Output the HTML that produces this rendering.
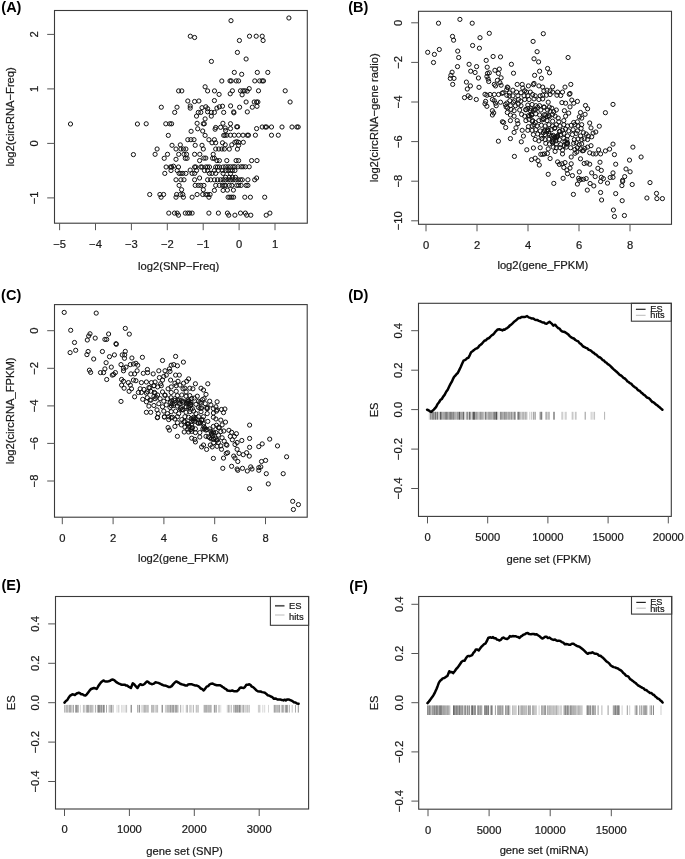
<!DOCTYPE html>
<html><head><meta charset="utf-8"><style>
html,body{margin:0;padding:0;background:#fff;}
svg{display:block;filter:grayscale(1);}
text{font-family:"Liberation Sans",sans-serif;font-size:11.2px;fill:#1a1a1a;stroke:#1a1a1a;stroke-width:0.22px;}
.pl{font-weight:bold;font-size:14.5px;fill:#000;stroke:none;}
.ax{fill:none;stroke:#3a3a3a;stroke-width:1.1;}
.tk{fill:none;stroke:#555;stroke-width:1.0;}
.pt{fill:none;stroke:#111;stroke-width:1.0;}
.es{fill:none;stroke:#000;stroke-width:2.5;stroke-linejoin:round;stroke-linecap:round;}
</style></head><body>
<svg width="685" height="859" viewBox="0 0 685 859">
<rect width="685" height="859" fill="#fff"/>
<rect x="54.5" y="10.5" width="252.8" height="212.7" class="ax"/>
<line x1="59.6" y1="223.2" x2="59.6" y2="230.2" class="tk"/>
<text x="59.6" y="247.6" text-anchor="middle">−5</text>
<line x1="95.5" y1="223.2" x2="95.5" y2="230.2" class="tk"/>
<text x="95.5" y="247.6" text-anchor="middle">−4</text>
<line x1="131.4" y1="223.2" x2="131.4" y2="230.2" class="tk"/>
<text x="131.4" y="247.6" text-anchor="middle">−3</text>
<line x1="167.3" y1="223.2" x2="167.3" y2="230.2" class="tk"/>
<text x="167.3" y="247.6" text-anchor="middle">−2</text>
<line x1="203.2" y1="223.2" x2="203.2" y2="230.2" class="tk"/>
<text x="203.2" y="247.6" text-anchor="middle">−1</text>
<line x1="239.1" y1="223.2" x2="239.1" y2="230.2" class="tk"/>
<text x="239.1" y="247.6" text-anchor="middle">0</text>
<line x1="275.0" y1="223.2" x2="275.0" y2="230.2" class="tk"/>
<text x="275.0" y="247.6" text-anchor="middle">1</text>
<text x="178.6" y="270.4" text-anchor="middle">log2(SNP−Freq)</text>
<line x1="47.2" y1="197.9" x2="54.5" y2="197.9" class="tk"/>
<text transform="translate(38.3,197.9) rotate(-90)" text-anchor="middle">−1</text>
<line x1="47.2" y1="143.4" x2="54.5" y2="143.4" class="tk"/>
<text transform="translate(38.3,143.4) rotate(-90)" text-anchor="middle">0</text>
<line x1="47.2" y1="88.9" x2="54.5" y2="88.9" class="tk"/>
<text transform="translate(38.3,88.9) rotate(-90)" text-anchor="middle">1</text>
<line x1="47.2" y1="34.4" x2="54.5" y2="34.4" class="tk"/>
<text transform="translate(38.3,34.4) rotate(-90)" text-anchor="middle">2</text>
<text transform="translate(14.0,116.8) rotate(-90)" text-anchor="middle">log2(circRNA−Freq)</text>
<path d="M233.1 20.7a2.1 2.1 0 1 0 -4.2 0a2.1 2.1 0 1 0 4.2 0M291.0 18.0a2.1 2.1 0 1 0 -4.2 0a2.1 2.1 0 1 0 4.2 0M192.4 36.2a2.1 2.1 0 1 0 -4.2 0a2.1 2.1 0 1 0 4.2 0M196.7 37.5a2.1 2.1 0 1 0 -4.2 0a2.1 2.1 0 1 0 4.2 0M241.5 40.5a2.1 2.1 0 1 0 -4.2 0a2.1 2.1 0 1 0 4.2 0M251.6 36.2a2.1 2.1 0 1 0 -4.2 0a2.1 2.1 0 1 0 4.2 0M258.3 36.2a2.1 2.1 0 1 0 -4.2 0a2.1 2.1 0 1 0 4.2 0M264.3 36.2a2.1 2.1 0 1 0 -4.2 0a2.1 2.1 0 1 0 4.2 0M265.2 40.5a2.1 2.1 0 1 0 -4.2 0a2.1 2.1 0 1 0 4.2 0M239.5 52.4a2.1 2.1 0 1 0 -4.2 0a2.1 2.1 0 1 0 4.2 0M248.2 59.0a2.1 2.1 0 1 0 -4.2 0a2.1 2.1 0 1 0 4.2 0M213.5 61.4a2.1 2.1 0 1 0 -4.2 0a2.1 2.1 0 1 0 4.2 0M223.9 81.0a2.1 2.1 0 1 0 -4.2 0a2.1 2.1 0 1 0 4.2 0M180.7 90.9a2.1 2.1 0 1 0 -4.2 0a2.1 2.1 0 1 0 4.2 0M183.9 90.9a2.1 2.1 0 1 0 -4.2 0a2.1 2.1 0 1 0 4.2 0M207.2 86.8a2.1 2.1 0 1 0 -4.2 0a2.1 2.1 0 1 0 4.2 0M209.7 90.9a2.1 2.1 0 1 0 -4.2 0a2.1 2.1 0 1 0 4.2 0M216.6 90.9a2.1 2.1 0 1 0 -4.2 0a2.1 2.1 0 1 0 4.2 0M221.2 94.4a2.1 2.1 0 1 0 -4.2 0a2.1 2.1 0 1 0 4.2 0M189.9 101.0a2.1 2.1 0 1 0 -4.2 0a2.1 2.1 0 1 0 4.2 0M196.7 101.5a2.1 2.1 0 1 0 -4.2 0a2.1 2.1 0 1 0 4.2 0M201.0 101.0a2.1 2.1 0 1 0 -4.2 0a2.1 2.1 0 1 0 4.2 0M216.5 100.6a2.1 2.1 0 1 0 -4.2 0a2.1 2.1 0 1 0 4.2 0M163.4 107.2a2.1 2.1 0 1 0 -4.2 0a2.1 2.1 0 1 0 4.2 0M179.1 107.2a2.1 2.1 0 1 0 -4.2 0a2.1 2.1 0 1 0 4.2 0M176.8 112.4a2.1 2.1 0 1 0 -4.2 0a2.1 2.1 0 1 0 4.2 0M192.3 106.0a2.1 2.1 0 1 0 -4.2 0a2.1 2.1 0 1 0 4.2 0M192.3 108.1a2.1 2.1 0 1 0 -4.2 0a2.1 2.1 0 1 0 4.2 0M204.1 107.7a2.1 2.1 0 1 0 -4.2 0a2.1 2.1 0 1 0 4.2 0M207.9 106.8a2.1 2.1 0 1 0 -4.2 0a2.1 2.1 0 1 0 4.2 0M209.7 108.7a2.1 2.1 0 1 0 -4.2 0a2.1 2.1 0 1 0 4.2 0M219.0 108.1a2.1 2.1 0 1 0 -4.2 0a2.1 2.1 0 1 0 4.2 0M221.5 106.8a2.1 2.1 0 1 0 -4.2 0a2.1 2.1 0 1 0 4.2 0M224.6 106.2a2.1 2.1 0 1 0 -4.2 0a2.1 2.1 0 1 0 4.2 0M200.4 112.4a2.1 2.1 0 1 0 -4.2 0a2.1 2.1 0 1 0 4.2 0M202.9 112.4a2.1 2.1 0 1 0 -4.2 0a2.1 2.1 0 1 0 4.2 0M209.7 111.8a2.1 2.1 0 1 0 -4.2 0a2.1 2.1 0 1 0 4.2 0M213.4 112.4a2.1 2.1 0 1 0 -4.2 0a2.1 2.1 0 1 0 4.2 0M216.5 112.4a2.1 2.1 0 1 0 -4.2 0a2.1 2.1 0 1 0 4.2 0M225.8 112.4a2.1 2.1 0 1 0 -4.2 0a2.1 2.1 0 1 0 4.2 0M198.6 116.1a2.1 2.1 0 1 0 -4.2 0a2.1 2.1 0 1 0 4.2 0M213.4 116.1a2.1 2.1 0 1 0 -4.2 0a2.1 2.1 0 1 0 4.2 0M207.2 118.9a2.1 2.1 0 1 0 -4.2 0a2.1 2.1 0 1 0 4.2 0M148.3 123.8a2.1 2.1 0 1 0 -4.2 0a2.1 2.1 0 1 0 4.2 0M167.9 123.8a2.1 2.1 0 1 0 -4.2 0a2.1 2.1 0 1 0 4.2 0M171.9 123.8a2.1 2.1 0 1 0 -4.2 0a2.1 2.1 0 1 0 4.2 0M173.7 123.8a2.1 2.1 0 1 0 -4.2 0a2.1 2.1 0 1 0 4.2 0M199.2 123.3a2.1 2.1 0 1 0 -4.2 0a2.1 2.1 0 1 0 4.2 0M205.4 123.8a2.1 2.1 0 1 0 -4.2 0a2.1 2.1 0 1 0 4.2 0M206.4 123.8a2.1 2.1 0 1 0 -4.2 0a2.1 2.1 0 1 0 4.2 0M225.0 123.3a2.1 2.1 0 1 0 -4.2 0a2.1 2.1 0 1 0 4.2 0M217.8 127.5a2.1 2.1 0 1 0 -4.2 0a2.1 2.1 0 1 0 4.2 0M222.7 127.3a2.1 2.1 0 1 0 -4.2 0a2.1 2.1 0 1 0 4.2 0M217.2 129.2a2.1 2.1 0 1 0 -4.2 0a2.1 2.1 0 1 0 4.2 0M199.8 128.8a2.1 2.1 0 1 0 -4.2 0a2.1 2.1 0 1 0 4.2 0M204.8 131.0a2.1 2.1 0 1 0 -4.2 0a2.1 2.1 0 1 0 4.2 0M193.2 131.3a2.1 2.1 0 1 0 -4.2 0a2.1 2.1 0 1 0 4.2 0M170.4 135.4a2.1 2.1 0 1 0 -4.2 0a2.1 2.1 0 1 0 4.2 0M207.2 135.4a2.1 2.1 0 1 0 -4.2 0a2.1 2.1 0 1 0 4.2 0M225.8 135.4a2.1 2.1 0 1 0 -4.2 0a2.1 2.1 0 1 0 4.2 0M189.9 139.7a2.1 2.1 0 1 0 -4.2 0a2.1 2.1 0 1 0 4.2 0M193.0 139.7a2.1 2.1 0 1 0 -4.2 0a2.1 2.1 0 1 0 4.2 0M196.1 139.7a2.1 2.1 0 1 0 -4.2 0a2.1 2.1 0 1 0 4.2 0M211.0 139.7a2.1 2.1 0 1 0 -4.2 0a2.1 2.1 0 1 0 4.2 0M216.5 139.7a2.1 2.1 0 1 0 -4.2 0a2.1 2.1 0 1 0 4.2 0M214.1 142.8a2.1 2.1 0 1 0 -4.2 0a2.1 2.1 0 1 0 4.2 0M217.8 142.8a2.1 2.1 0 1 0 -4.2 0a2.1 2.1 0 1 0 4.2 0M224.6 142.8a2.1 2.1 0 1 0 -4.2 0a2.1 2.1 0 1 0 4.2 0M174.1 145.3a2.1 2.1 0 1 0 -4.2 0a2.1 2.1 0 1 0 4.2 0M182.4 144.9a2.1 2.1 0 1 0 -4.2 0a2.1 2.1 0 1 0 4.2 0M197.3 145.3a2.1 2.1 0 1 0 -4.2 0a2.1 2.1 0 1 0 4.2 0M204.1 145.3a2.1 2.1 0 1 0 -4.2 0a2.1 2.1 0 1 0 4.2 0M159.2 149.0a2.1 2.1 0 1 0 -4.2 0a2.1 2.1 0 1 0 4.2 0M178.1 149.0a2.1 2.1 0 1 0 -4.2 0a2.1 2.1 0 1 0 4.2 0M183.0 149.0a2.1 2.1 0 1 0 -4.2 0a2.1 2.1 0 1 0 4.2 0M185.5 149.0a2.1 2.1 0 1 0 -4.2 0a2.1 2.1 0 1 0 4.2 0M188.0 149.0a2.1 2.1 0 1 0 -4.2 0a2.1 2.1 0 1 0 4.2 0M205.4 149.0a2.1 2.1 0 1 0 -4.2 0a2.1 2.1 0 1 0 4.2 0M217.8 149.0a2.1 2.1 0 1 0 -4.2 0a2.1 2.1 0 1 0 4.2 0M220.9 149.0a2.1 2.1 0 1 0 -4.2 0a2.1 2.1 0 1 0 4.2 0M224.0 149.0a2.1 2.1 0 1 0 -4.2 0a2.1 2.1 0 1 0 4.2 0M226.5 149.0a2.1 2.1 0 1 0 -4.2 0a2.1 2.1 0 1 0 4.2 0M157.2 154.3a2.1 2.1 0 1 0 -4.2 0a2.1 2.1 0 1 0 4.2 0M169.6 154.3a2.1 2.1 0 1 0 -4.2 0a2.1 2.1 0 1 0 4.2 0M180.8 154.3a2.1 2.1 0 1 0 -4.2 0a2.1 2.1 0 1 0 4.2 0M186.1 154.3a2.1 2.1 0 1 0 -4.2 0a2.1 2.1 0 1 0 4.2 0M188.6 154.3a2.1 2.1 0 1 0 -4.2 0a2.1 2.1 0 1 0 4.2 0M196.7 154.3a2.1 2.1 0 1 0 -4.2 0a2.1 2.1 0 1 0 4.2 0M201.9 154.3a2.1 2.1 0 1 0 -4.2 0a2.1 2.1 0 1 0 4.2 0M215.3 154.3a2.1 2.1 0 1 0 -4.2 0a2.1 2.1 0 1 0 4.2 0M166.3 158.3a2.1 2.1 0 1 0 -4.2 0a2.1 2.1 0 1 0 4.2 0M178.1 159.3a2.1 2.1 0 1 0 -4.2 0a2.1 2.1 0 1 0 4.2 0M187.4 158.3a2.1 2.1 0 1 0 -4.2 0a2.1 2.1 0 1 0 4.2 0M189.2 158.3a2.1 2.1 0 1 0 -4.2 0a2.1 2.1 0 1 0 4.2 0M206.0 158.1a2.1 2.1 0 1 0 -4.2 0a2.1 2.1 0 1 0 4.2 0M207.9 158.1a2.1 2.1 0 1 0 -4.2 0a2.1 2.1 0 1 0 4.2 0M214.7 158.3a2.1 2.1 0 1 0 -4.2 0a2.1 2.1 0 1 0 4.2 0M216.5 158.3a2.1 2.1 0 1 0 -4.2 0a2.1 2.1 0 1 0 4.2 0M236.4 72.4a2.1 2.1 0 1 0 -4.2 0a2.1 2.1 0 1 0 4.2 0M243.8 74.3a2.1 2.1 0 1 0 -4.2 0a2.1 2.1 0 1 0 4.2 0M259.4 72.4a2.1 2.1 0 1 0 -4.2 0a2.1 2.1 0 1 0 4.2 0M269.9 72.4a2.1 2.1 0 1 0 -4.2 0a2.1 2.1 0 1 0 4.2 0M232.1 80.9a2.1 2.1 0 1 0 -4.2 0a2.1 2.1 0 1 0 4.2 0M233.3 80.9a2.1 2.1 0 1 0 -4.2 0a2.1 2.1 0 1 0 4.2 0M238.3 80.9a2.1 2.1 0 1 0 -4.2 0a2.1 2.1 0 1 0 4.2 0M240.7 80.9a2.1 2.1 0 1 0 -4.2 0a2.1 2.1 0 1 0 4.2 0M256.9 80.9a2.1 2.1 0 1 0 -4.2 0a2.1 2.1 0 1 0 4.2 0M261.8 80.9a2.1 2.1 0 1 0 -4.2 0a2.1 2.1 0 1 0 4.2 0M264.3 80.9a2.1 2.1 0 1 0 -4.2 0a2.1 2.1 0 1 0 4.2 0M265.6 80.9a2.1 2.1 0 1 0 -4.2 0a2.1 2.1 0 1 0 4.2 0M234.5 90.8a2.1 2.1 0 1 0 -4.2 0a2.1 2.1 0 1 0 4.2 0M232.3 93.8a2.1 2.1 0 1 0 -4.2 0a2.1 2.1 0 1 0 4.2 0M242.6 90.8a2.1 2.1 0 1 0 -4.2 0a2.1 2.1 0 1 0 4.2 0M245.1 90.8a2.1 2.1 0 1 0 -4.2 0a2.1 2.1 0 1 0 4.2 0M247.0 90.8a2.1 2.1 0 1 0 -4.2 0a2.1 2.1 0 1 0 4.2 0M249.4 91.1a2.1 2.1 0 1 0 -4.2 0a2.1 2.1 0 1 0 4.2 0M251.3 88.6a2.1 2.1 0 1 0 -4.2 0a2.1 2.1 0 1 0 4.2 0M244.2 94.8a2.1 2.1 0 1 0 -4.2 0a2.1 2.1 0 1 0 4.2 0M260.6 90.8a2.1 2.1 0 1 0 -4.2 0a2.1 2.1 0 1 0 4.2 0M287.3 90.8a2.1 2.1 0 1 0 -4.2 0a2.1 2.1 0 1 0 4.2 0M248.2 102.0a2.1 2.1 0 1 0 -4.2 0a2.1 2.1 0 1 0 4.2 0M256.3 102.0a2.1 2.1 0 1 0 -4.2 0a2.1 2.1 0 1 0 4.2 0M258.7 102.0a2.1 2.1 0 1 0 -4.2 0a2.1 2.1 0 1 0 4.2 0M260.0 102.0a2.1 2.1 0 1 0 -4.2 0a2.1 2.1 0 1 0 4.2 0M292.2 102.0a2.1 2.1 0 1 0 -4.2 0a2.1 2.1 0 1 0 4.2 0M232.7 105.9a2.1 2.1 0 1 0 -4.2 0a2.1 2.1 0 1 0 4.2 0M241.7 107.2a2.1 2.1 0 1 0 -4.2 0a2.1 2.1 0 1 0 4.2 0M254.4 107.2a2.1 2.1 0 1 0 -4.2 0a2.1 2.1 0 1 0 4.2 0M259.1 106.3a2.1 2.1 0 1 0 -4.2 0a2.1 2.1 0 1 0 4.2 0M235.8 111.9a2.1 2.1 0 1 0 -4.2 0a2.1 2.1 0 1 0 4.2 0M236.0 112.8a2.1 2.1 0 1 0 -4.2 0a2.1 2.1 0 1 0 4.2 0M249.4 111.9a2.1 2.1 0 1 0 -4.2 0a2.1 2.1 0 1 0 4.2 0M232.6 123.7a2.1 2.1 0 1 0 -4.2 0a2.1 2.1 0 1 0 4.2 0M238.8 126.8a2.1 2.1 0 1 0 -4.2 0a2.1 2.1 0 1 0 4.2 0M239.7 126.8a2.1 2.1 0 1 0 -4.2 0a2.1 2.1 0 1 0 4.2 0M232.6 128.6a2.1 2.1 0 1 0 -4.2 0a2.1 2.1 0 1 0 4.2 0M227.3 128.0a2.1 2.1 0 1 0 -4.2 0a2.1 2.1 0 1 0 4.2 0M227.7 130.5a2.1 2.1 0 1 0 -4.2 0a2.1 2.1 0 1 0 4.2 0M258.7 128.6a2.1 2.1 0 1 0 -4.2 0a2.1 2.1 0 1 0 4.2 0M264.3 127.0a2.1 2.1 0 1 0 -4.2 0a2.1 2.1 0 1 0 4.2 0M267.4 127.0a2.1 2.1 0 1 0 -4.2 0a2.1 2.1 0 1 0 4.2 0M268.6 127.0a2.1 2.1 0 1 0 -4.2 0a2.1 2.1 0 1 0 4.2 0M273.6 127.0a2.1 2.1 0 1 0 -4.2 0a2.1 2.1 0 1 0 4.2 0M284.1 127.0a2.1 2.1 0 1 0 -4.2 0a2.1 2.1 0 1 0 4.2 0M294.1 127.0a2.1 2.1 0 1 0 -4.2 0a2.1 2.1 0 1 0 4.2 0M299.0 127.0a2.1 2.1 0 1 0 -4.2 0a2.1 2.1 0 1 0 4.2 0M300.3 127.0a2.1 2.1 0 1 0 -4.2 0a2.1 2.1 0 1 0 4.2 0M227.1 135.2a2.1 2.1 0 1 0 -4.2 0a2.1 2.1 0 1 0 4.2 0M228.9 135.2a2.1 2.1 0 1 0 -4.2 0a2.1 2.1 0 1 0 4.2 0M232.6 135.2a2.1 2.1 0 1 0 -4.2 0a2.1 2.1 0 1 0 4.2 0M236.4 135.2a2.1 2.1 0 1 0 -4.2 0a2.1 2.1 0 1 0 4.2 0M240.7 135.2a2.1 2.1 0 1 0 -4.2 0a2.1 2.1 0 1 0 4.2 0M245.1 135.2a2.1 2.1 0 1 0 -4.2 0a2.1 2.1 0 1 0 4.2 0M249.4 135.2a2.1 2.1 0 1 0 -4.2 0a2.1 2.1 0 1 0 4.2 0M250.6 135.2a2.1 2.1 0 1 0 -4.2 0a2.1 2.1 0 1 0 4.2 0M257.5 135.2a2.1 2.1 0 1 0 -4.2 0a2.1 2.1 0 1 0 4.2 0M273.6 135.2a2.1 2.1 0 1 0 -4.2 0a2.1 2.1 0 1 0 4.2 0M280.4 135.2a2.1 2.1 0 1 0 -4.2 0a2.1 2.1 0 1 0 4.2 0M227.3 144.8a2.1 2.1 0 1 0 -4.2 0a2.1 2.1 0 1 0 4.2 0M233.9 144.8a2.1 2.1 0 1 0 -4.2 0a2.1 2.1 0 1 0 4.2 0M237.0 142.3a2.1 2.1 0 1 0 -4.2 0a2.1 2.1 0 1 0 4.2 0M238.8 141.7a2.1 2.1 0 1 0 -4.2 0a2.1 2.1 0 1 0 4.2 0M240.7 142.3a2.1 2.1 0 1 0 -4.2 0a2.1 2.1 0 1 0 4.2 0M240.7 145.4a2.1 2.1 0 1 0 -4.2 0a2.1 2.1 0 1 0 4.2 0M245.4 142.3a2.1 2.1 0 1 0 -4.2 0a2.1 2.1 0 1 0 4.2 0M231.4 149.1a2.1 2.1 0 1 0 -4.2 0a2.1 2.1 0 1 0 4.2 0M239.5 149.1a2.1 2.1 0 1 0 -4.2 0a2.1 2.1 0 1 0 4.2 0M72.6 124.0a2.1 2.1 0 1 0 -4.2 0a2.1 2.1 0 1 0 4.2 0M139.5 124.0a2.1 2.1 0 1 0 -4.2 0a2.1 2.1 0 1 0 4.2 0M135.5 154.6a2.1 2.1 0 1 0 -4.2 0a2.1 2.1 0 1 0 4.2 0M201.7 160.6a2.1 2.1 0 1 0 -4.2 0a2.1 2.1 0 1 0 4.2 0M219.0 160.6a2.1 2.1 0 1 0 -4.2 0a2.1 2.1 0 1 0 4.2 0M221.5 160.6a2.1 2.1 0 1 0 -4.2 0a2.1 2.1 0 1 0 4.2 0M168.2 167.0a2.1 2.1 0 1 0 -4.2 0a2.1 2.1 0 1 0 4.2 0M172.5 167.0a2.1 2.1 0 1 0 -4.2 0a2.1 2.1 0 1 0 4.2 0M173.7 167.0a2.1 2.1 0 1 0 -4.2 0a2.1 2.1 0 1 0 4.2 0M175.6 166.2a2.1 2.1 0 1 0 -4.2 0a2.1 2.1 0 1 0 4.2 0M180.6 167.0a2.1 2.1 0 1 0 -4.2 0a2.1 2.1 0 1 0 4.2 0M196.7 167.0a2.1 2.1 0 1 0 -4.2 0a2.1 2.1 0 1 0 4.2 0M197.9 167.0a2.1 2.1 0 1 0 -4.2 0a2.1 2.1 0 1 0 4.2 0M202.9 167.0a2.1 2.1 0 1 0 -4.2 0a2.1 2.1 0 1 0 4.2 0M204.1 167.0a2.1 2.1 0 1 0 -4.2 0a2.1 2.1 0 1 0 4.2 0M207.9 167.0a2.1 2.1 0 1 0 -4.2 0a2.1 2.1 0 1 0 4.2 0M209.7 167.0a2.1 2.1 0 1 0 -4.2 0a2.1 2.1 0 1 0 4.2 0M211.6 167.0a2.1 2.1 0 1 0 -4.2 0a2.1 2.1 0 1 0 4.2 0M217.8 167.0a2.1 2.1 0 1 0 -4.2 0a2.1 2.1 0 1 0 4.2 0M219.6 167.0a2.1 2.1 0 1 0 -4.2 0a2.1 2.1 0 1 0 4.2 0M221.5 167.0a2.1 2.1 0 1 0 -4.2 0a2.1 2.1 0 1 0 4.2 0M225.2 167.0a2.1 2.1 0 1 0 -4.2 0a2.1 2.1 0 1 0 4.2 0M173.1 170.5a2.1 2.1 0 1 0 -4.2 0a2.1 2.1 0 1 0 4.2 0M179.3 170.5a2.1 2.1 0 1 0 -4.2 0a2.1 2.1 0 1 0 4.2 0M192.3 170.1a2.1 2.1 0 1 0 -4.2 0a2.1 2.1 0 1 0 4.2 0M198.6 170.5a2.1 2.1 0 1 0 -4.2 0a2.1 2.1 0 1 0 4.2 0M206.6 170.5a2.1 2.1 0 1 0 -4.2 0a2.1 2.1 0 1 0 4.2 0M209.7 170.5a2.1 2.1 0 1 0 -4.2 0a2.1 2.1 0 1 0 4.2 0M216.5 170.5a2.1 2.1 0 1 0 -4.2 0a2.1 2.1 0 1 0 4.2 0M220.3 170.5a2.1 2.1 0 1 0 -4.2 0a2.1 2.1 0 1 0 4.2 0M224.6 170.5a2.1 2.1 0 1 0 -4.2 0a2.1 2.1 0 1 0 4.2 0M166.9 173.4a2.1 2.1 0 1 0 -4.2 0a2.1 2.1 0 1 0 4.2 0M181.2 173.4a2.1 2.1 0 1 0 -4.2 0a2.1 2.1 0 1 0 4.2 0M183.0 173.4a2.1 2.1 0 1 0 -4.2 0a2.1 2.1 0 1 0 4.2 0M184.9 173.4a2.1 2.1 0 1 0 -4.2 0a2.1 2.1 0 1 0 4.2 0M188.0 173.4a2.1 2.1 0 1 0 -4.2 0a2.1 2.1 0 1 0 4.2 0M194.2 173.4a2.1 2.1 0 1 0 -4.2 0a2.1 2.1 0 1 0 4.2 0M196.7 173.4a2.1 2.1 0 1 0 -4.2 0a2.1 2.1 0 1 0 4.2 0M211.6 173.4a2.1 2.1 0 1 0 -4.2 0a2.1 2.1 0 1 0 4.2 0M214.1 173.4a2.1 2.1 0 1 0 -4.2 0a2.1 2.1 0 1 0 4.2 0M217.8 173.4a2.1 2.1 0 1 0 -4.2 0a2.1 2.1 0 1 0 4.2 0M225.2 173.4a2.1 2.1 0 1 0 -4.2 0a2.1 2.1 0 1 0 4.2 0M178.1 179.8a2.1 2.1 0 1 0 -4.2 0a2.1 2.1 0 1 0 4.2 0M183.0 179.8a2.1 2.1 0 1 0 -4.2 0a2.1 2.1 0 1 0 4.2 0M186.1 179.8a2.1 2.1 0 1 0 -4.2 0a2.1 2.1 0 1 0 4.2 0M196.7 179.8a2.1 2.1 0 1 0 -4.2 0a2.1 2.1 0 1 0 4.2 0M201.7 178.0a2.1 2.1 0 1 0 -4.2 0a2.1 2.1 0 1 0 4.2 0M209.7 179.8a2.1 2.1 0 1 0 -4.2 0a2.1 2.1 0 1 0 4.2 0M212.8 179.8a2.1 2.1 0 1 0 -4.2 0a2.1 2.1 0 1 0 4.2 0M216.5 179.8a2.1 2.1 0 1 0 -4.2 0a2.1 2.1 0 1 0 4.2 0M219.6 179.8a2.1 2.1 0 1 0 -4.2 0a2.1 2.1 0 1 0 4.2 0M222.7 179.8a2.1 2.1 0 1 0 -4.2 0a2.1 2.1 0 1 0 4.2 0M225.2 179.8a2.1 2.1 0 1 0 -4.2 0a2.1 2.1 0 1 0 4.2 0M181.2 185.4a2.1 2.1 0 1 0 -4.2 0a2.1 2.1 0 1 0 4.2 0M197.3 185.4a2.1 2.1 0 1 0 -4.2 0a2.1 2.1 0 1 0 4.2 0M200.4 185.4a2.1 2.1 0 1 0 -4.2 0a2.1 2.1 0 1 0 4.2 0M202.9 185.4a2.1 2.1 0 1 0 -4.2 0a2.1 2.1 0 1 0 4.2 0M206.0 185.4a2.1 2.1 0 1 0 -4.2 0a2.1 2.1 0 1 0 4.2 0M217.8 185.4a2.1 2.1 0 1 0 -4.2 0a2.1 2.1 0 1 0 4.2 0M221.5 185.4a2.1 2.1 0 1 0 -4.2 0a2.1 2.1 0 1 0 4.2 0M224.6 185.4a2.1 2.1 0 1 0 -4.2 0a2.1 2.1 0 1 0 4.2 0M226.5 185.4a2.1 2.1 0 1 0 -4.2 0a2.1 2.1 0 1 0 4.2 0M183.7 189.7a2.1 2.1 0 1 0 -4.2 0a2.1 2.1 0 1 0 4.2 0M205.4 189.7a2.1 2.1 0 1 0 -4.2 0a2.1 2.1 0 1 0 4.2 0M216.5 190.4a2.1 2.1 0 1 0 -4.2 0a2.1 2.1 0 1 0 4.2 0M225.2 190.4a2.1 2.1 0 1 0 -4.2 0a2.1 2.1 0 1 0 4.2 0M151.8 194.5a2.1 2.1 0 1 0 -4.2 0a2.1 2.1 0 1 0 4.2 0M162.0 194.5a2.1 2.1 0 1 0 -4.2 0a2.1 2.1 0 1 0 4.2 0M165.7 194.5a2.1 2.1 0 1 0 -4.2 0a2.1 2.1 0 1 0 4.2 0M178.7 194.5a2.1 2.1 0 1 0 -4.2 0a2.1 2.1 0 1 0 4.2 0M182.4 194.5a2.1 2.1 0 1 0 -4.2 0a2.1 2.1 0 1 0 4.2 0M184.9 194.5a2.1 2.1 0 1 0 -4.2 0a2.1 2.1 0 1 0 4.2 0M199.2 194.5a2.1 2.1 0 1 0 -4.2 0a2.1 2.1 0 1 0 4.2 0M204.8 194.5a2.1 2.1 0 1 0 -4.2 0a2.1 2.1 0 1 0 4.2 0M207.9 194.5a2.1 2.1 0 1 0 -4.2 0a2.1 2.1 0 1 0 4.2 0M209.7 194.5a2.1 2.1 0 1 0 -4.2 0a2.1 2.1 0 1 0 4.2 0M212.2 194.5a2.1 2.1 0 1 0 -4.2 0a2.1 2.1 0 1 0 4.2 0M163.2 197.2a2.1 2.1 0 1 0 -4.2 0a2.1 2.1 0 1 0 4.2 0M178.1 197.2a2.1 2.1 0 1 0 -4.2 0a2.1 2.1 0 1 0 4.2 0M185.5 197.2a2.1 2.1 0 1 0 -4.2 0a2.1 2.1 0 1 0 4.2 0M194.2 197.2a2.1 2.1 0 1 0 -4.2 0a2.1 2.1 0 1 0 4.2 0M211.0 197.2a2.1 2.1 0 1 0 -4.2 0a2.1 2.1 0 1 0 4.2 0M170.9 213.1a2.1 2.1 0 1 0 -4.2 0a2.1 2.1 0 1 0 4.2 0M176.6 213.1a2.1 2.1 0 1 0 -4.2 0a2.1 2.1 0 1 0 4.2 0M179.3 213.1a2.1 2.1 0 1 0 -4.2 0a2.1 2.1 0 1 0 4.2 0M180.6 215.2a2.1 2.1 0 1 0 -4.2 0a2.1 2.1 0 1 0 4.2 0M187.4 213.1a2.1 2.1 0 1 0 -4.2 0a2.1 2.1 0 1 0 4.2 0M189.9 213.1a2.1 2.1 0 1 0 -4.2 0a2.1 2.1 0 1 0 4.2 0M191.7 213.1a2.1 2.1 0 1 0 -4.2 0a2.1 2.1 0 1 0 4.2 0M194.2 213.1a2.1 2.1 0 1 0 -4.2 0a2.1 2.1 0 1 0 4.2 0M211.0 213.1a2.1 2.1 0 1 0 -4.2 0a2.1 2.1 0 1 0 4.2 0M220.5 213.1a2.1 2.1 0 1 0 -4.2 0a2.1 2.1 0 1 0 4.2 0M228.9 160.6a2.1 2.1 0 1 0 -4.2 0a2.1 2.1 0 1 0 4.2 0M238.2 160.6a2.1 2.1 0 1 0 -4.2 0a2.1 2.1 0 1 0 4.2 0M240.7 160.6a2.1 2.1 0 1 0 -4.2 0a2.1 2.1 0 1 0 4.2 0M253.7 160.6a2.1 2.1 0 1 0 -4.2 0a2.1 2.1 0 1 0 4.2 0M259.1 160.6a2.1 2.1 0 1 0 -4.2 0a2.1 2.1 0 1 0 4.2 0M227.7 166.8a2.1 2.1 0 1 0 -4.2 0a2.1 2.1 0 1 0 4.2 0M230.2 166.8a2.1 2.1 0 1 0 -4.2 0a2.1 2.1 0 1 0 4.2 0M232.6 166.8a2.1 2.1 0 1 0 -4.2 0a2.1 2.1 0 1 0 4.2 0M235.1 166.8a2.1 2.1 0 1 0 -4.2 0a2.1 2.1 0 1 0 4.2 0M237.0 166.8a2.1 2.1 0 1 0 -4.2 0a2.1 2.1 0 1 0 4.2 0M240.1 166.8a2.1 2.1 0 1 0 -4.2 0a2.1 2.1 0 1 0 4.2 0M243.2 166.8a2.1 2.1 0 1 0 -4.2 0a2.1 2.1 0 1 0 4.2 0M245.1 166.8a2.1 2.1 0 1 0 -4.2 0a2.1 2.1 0 1 0 4.2 0M247.5 166.8a2.1 2.1 0 1 0 -4.2 0a2.1 2.1 0 1 0 4.2 0M251.3 166.8a2.1 2.1 0 1 0 -4.2 0a2.1 2.1 0 1 0 4.2 0M227.7 170.5a2.1 2.1 0 1 0 -4.2 0a2.1 2.1 0 1 0 4.2 0M230.2 170.5a2.1 2.1 0 1 0 -4.2 0a2.1 2.1 0 1 0 4.2 0M232.6 170.5a2.1 2.1 0 1 0 -4.2 0a2.1 2.1 0 1 0 4.2 0M234.5 170.5a2.1 2.1 0 1 0 -4.2 0a2.1 2.1 0 1 0 4.2 0M237.0 170.5a2.1 2.1 0 1 0 -4.2 0a2.1 2.1 0 1 0 4.2 0M232.6 173.6a2.1 2.1 0 1 0 -4.2 0a2.1 2.1 0 1 0 4.2 0M227.7 177.3a2.1 2.1 0 1 0 -4.2 0a2.1 2.1 0 1 0 4.2 0M231.4 177.3a2.1 2.1 0 1 0 -4.2 0a2.1 2.1 0 1 0 4.2 0M234.5 177.3a2.1 2.1 0 1 0 -4.2 0a2.1 2.1 0 1 0 4.2 0M237.6 177.3a2.1 2.1 0 1 0 -4.2 0a2.1 2.1 0 1 0 4.2 0M227.7 179.8a2.1 2.1 0 1 0 -4.2 0a2.1 2.1 0 1 0 4.2 0M230.2 179.8a2.1 2.1 0 1 0 -4.2 0a2.1 2.1 0 1 0 4.2 0M232.6 179.8a2.1 2.1 0 1 0 -4.2 0a2.1 2.1 0 1 0 4.2 0M235.1 179.8a2.1 2.1 0 1 0 -4.2 0a2.1 2.1 0 1 0 4.2 0M237.6 179.8a2.1 2.1 0 1 0 -4.2 0a2.1 2.1 0 1 0 4.2 0M240.1 179.8a2.1 2.1 0 1 0 -4.2 0a2.1 2.1 0 1 0 4.2 0M242.6 179.8a2.1 2.1 0 1 0 -4.2 0a2.1 2.1 0 1 0 4.2 0M244.4 179.8a2.1 2.1 0 1 0 -4.2 0a2.1 2.1 0 1 0 4.2 0M250.0 179.8a2.1 2.1 0 1 0 -4.2 0a2.1 2.1 0 1 0 4.2 0M256.8 179.8a2.1 2.1 0 1 0 -4.2 0a2.1 2.1 0 1 0 4.2 0M258.7 178.0a2.1 2.1 0 1 0 -4.2 0a2.1 2.1 0 1 0 4.2 0M227.7 185.4a2.1 2.1 0 1 0 -4.2 0a2.1 2.1 0 1 0 4.2 0M231.4 185.4a2.1 2.1 0 1 0 -4.2 0a2.1 2.1 0 1 0 4.2 0M233.9 185.4a2.1 2.1 0 1 0 -4.2 0a2.1 2.1 0 1 0 4.2 0M238.8 185.4a2.1 2.1 0 1 0 -4.2 0a2.1 2.1 0 1 0 4.2 0M240.7 185.4a2.1 2.1 0 1 0 -4.2 0a2.1 2.1 0 1 0 4.2 0M243.2 185.4a2.1 2.1 0 1 0 -4.2 0a2.1 2.1 0 1 0 4.2 0M248.2 185.4a2.1 2.1 0 1 0 -4.2 0a2.1 2.1 0 1 0 4.2 0M250.0 185.4a2.1 2.1 0 1 0 -4.2 0a2.1 2.1 0 1 0 4.2 0M229.5 190.1a2.1 2.1 0 1 0 -4.2 0a2.1 2.1 0 1 0 4.2 0M235.5 190.1a2.1 2.1 0 1 0 -4.2 0a2.1 2.1 0 1 0 4.2 0M230.2 197.2a2.1 2.1 0 1 0 -4.2 0a2.1 2.1 0 1 0 4.2 0M232.0 197.2a2.1 2.1 0 1 0 -4.2 0a2.1 2.1 0 1 0 4.2 0M233.9 197.2a2.1 2.1 0 1 0 -4.2 0a2.1 2.1 0 1 0 4.2 0M235.7 197.2a2.1 2.1 0 1 0 -4.2 0a2.1 2.1 0 1 0 4.2 0M246.9 197.2a2.1 2.1 0 1 0 -4.2 0a2.1 2.1 0 1 0 4.2 0M252.5 197.2a2.1 2.1 0 1 0 -4.2 0a2.1 2.1 0 1 0 4.2 0M266.8 197.2a2.1 2.1 0 1 0 -4.2 0a2.1 2.1 0 1 0 4.2 0M229.5 213.1a2.1 2.1 0 1 0 -4.2 0a2.1 2.1 0 1 0 4.2 0M230.8 215.2a2.1 2.1 0 1 0 -4.2 0a2.1 2.1 0 1 0 4.2 0M237.0 215.2a2.1 2.1 0 1 0 -4.2 0a2.1 2.1 0 1 0 4.2 0M242.6 213.1a2.1 2.1 0 1 0 -4.2 0a2.1 2.1 0 1 0 4.2 0M247.5 213.1a2.1 2.1 0 1 0 -4.2 0a2.1 2.1 0 1 0 4.2 0M248.8 215.2a2.1 2.1 0 1 0 -4.2 0a2.1 2.1 0 1 0 4.2 0M252.9 215.2a2.1 2.1 0 1 0 -4.2 0a2.1 2.1 0 1 0 4.2 0M268.3 215.2a2.1 2.1 0 1 0 -4.2 0a2.1 2.1 0 1 0 4.2 0M272.0 213.1a2.1 2.1 0 1 0 -4.2 0a2.1 2.1 0 1 0 4.2 0" class="pt"/>
<rect x="418.5" y="11.3" width="253.0" height="213.0" class="ax"/>
<line x1="426.0" y1="224.3" x2="426.0" y2="231.3" class="tk"/>
<text x="426.0" y="248.7" text-anchor="middle">0</text>
<line x1="477.0" y1="224.3" x2="477.0" y2="231.3" class="tk"/>
<text x="477.0" y="248.7" text-anchor="middle">2</text>
<line x1="528.0" y1="224.3" x2="528.0" y2="231.3" class="tk"/>
<text x="528.0" y="248.7" text-anchor="middle">4</text>
<line x1="579.0" y1="224.3" x2="579.0" y2="231.3" class="tk"/>
<text x="579.0" y="248.7" text-anchor="middle">6</text>
<line x1="630.0" y1="224.3" x2="630.0" y2="231.3" class="tk"/>
<text x="630.0" y="248.7" text-anchor="middle">8</text>
<text x="542.8" y="268.8" text-anchor="middle">log2(gene_FPKM)</text>
<line x1="411.2" y1="22.8" x2="418.5" y2="22.8" class="tk"/>
<text transform="translate(402.3,22.8) rotate(-90)" text-anchor="middle">0</text>
<line x1="411.2" y1="62.4" x2="418.5" y2="62.4" class="tk"/>
<text transform="translate(402.3,62.4) rotate(-90)" text-anchor="middle">−2</text>
<line x1="411.2" y1="102.0" x2="418.5" y2="102.0" class="tk"/>
<text transform="translate(402.3,102.0) rotate(-90)" text-anchor="middle">−4</text>
<line x1="411.2" y1="141.6" x2="418.5" y2="141.6" class="tk"/>
<text transform="translate(402.3,141.6) rotate(-90)" text-anchor="middle">−6</text>
<line x1="411.2" y1="181.2" x2="418.5" y2="181.2" class="tk"/>
<text transform="translate(402.3,181.2) rotate(-90)" text-anchor="middle">−8</text>
<line x1="411.2" y1="220.8" x2="418.5" y2="220.8" class="tk"/>
<text transform="translate(402.3,220.8) rotate(-90)" text-anchor="middle">−10</text>
<text transform="translate(378.0,117.8) rotate(-90)" text-anchor="middle">log2(circRNA−gene radio)</text>
<path d="M440.6 23.2a2.1 2.1 0 1 0 -4.2 0a2.1 2.1 0 1 0 4.2 0M462.0 19.4a2.1 2.1 0 1 0 -4.2 0a2.1 2.1 0 1 0 4.2 0M474.3 23.2a2.1 2.1 0 1 0 -4.2 0a2.1 2.1 0 1 0 4.2 0M491.4 33.3a2.1 2.1 0 1 0 -4.2 0a2.1 2.1 0 1 0 4.2 0M454.6 36.4a2.1 2.1 0 1 0 -4.2 0a2.1 2.1 0 1 0 4.2 0M455.7 40.2a2.1 2.1 0 1 0 -4.2 0a2.1 2.1 0 1 0 4.2 0M482.1 37.7a2.1 2.1 0 1 0 -4.2 0a2.1 2.1 0 1 0 4.2 0M474.7 45.5a2.1 2.1 0 1 0 -4.2 0a2.1 2.1 0 1 0 4.2 0M481.5 48.2a2.1 2.1 0 1 0 -4.2 0a2.1 2.1 0 1 0 4.2 0M441.4 49.5a2.1 2.1 0 1 0 -4.2 0a2.1 2.1 0 1 0 4.2 0M429.8 52.3a2.1 2.1 0 1 0 -4.2 0a2.1 2.1 0 1 0 4.2 0M436.5 54.4a2.1 2.1 0 1 0 -4.2 0a2.1 2.1 0 1 0 4.2 0M459.8 51.1a2.1 2.1 0 1 0 -4.2 0a2.1 2.1 0 1 0 4.2 0M460.8 57.5a2.1 2.1 0 1 0 -4.2 0a2.1 2.1 0 1 0 4.2 0M435.6 62.5a2.1 2.1 0 1 0 -4.2 0a2.1 2.1 0 1 0 4.2 0M488.3 60.4a2.1 2.1 0 1 0 -4.2 0a2.1 2.1 0 1 0 4.2 0M495.2 56.5a2.1 2.1 0 1 0 -4.2 0a2.1 2.1 0 1 0 4.2 0M502.6 56.9a2.1 2.1 0 1 0 -4.2 0a2.1 2.1 0 1 0 4.2 0M471.2 64.3a2.1 2.1 0 1 0 -4.2 0a2.1 2.1 0 1 0 4.2 0M545.4 33.7a2.1 2.1 0 1 0 -4.2 0a2.1 2.1 0 1 0 4.2 0M535.2 41.4a2.1 2.1 0 1 0 -4.2 0a2.1 2.1 0 1 0 4.2 0M539.2 51.7a2.1 2.1 0 1 0 -4.2 0a2.1 2.1 0 1 0 4.2 0M536.1 58.8a2.1 2.1 0 1 0 -4.2 0a2.1 2.1 0 1 0 4.2 0M540.7 61.9a2.1 2.1 0 1 0 -4.2 0a2.1 2.1 0 1 0 4.2 0M570.2 57.5a2.1 2.1 0 1 0 -4.2 0a2.1 2.1 0 1 0 4.2 0M513.5 64.3a2.1 2.1 0 1 0 -4.2 0a2.1 2.1 0 1 0 4.2 0M459.6 66.6a2.1 2.1 0 1 0 -4.2 0a2.1 2.1 0 1 0 4.2 0M478.7 66.6a2.1 2.1 0 1 0 -4.2 0a2.1 2.1 0 1 0 4.2 0M489.3 67.2a2.1 2.1 0 1 0 -4.2 0a2.1 2.1 0 1 0 4.2 0M454.2 72.2a2.1 2.1 0 1 0 -4.2 0a2.1 2.1 0 1 0 4.2 0M453.0 75.3a2.1 2.1 0 1 0 -4.2 0a2.1 2.1 0 1 0 4.2 0M452.4 78.4a2.1 2.1 0 1 0 -4.2 0a2.1 2.1 0 1 0 4.2 0M456.1 78.4a2.1 2.1 0 1 0 -4.2 0a2.1 2.1 0 1 0 4.2 0M454.8 84.4a2.1 2.1 0 1 0 -4.2 0a2.1 2.1 0 1 0 4.2 0M472.8 71.2a2.1 2.1 0 1 0 -4.2 0a2.1 2.1 0 1 0 4.2 0M477.2 72.5a2.1 2.1 0 1 0 -4.2 0a2.1 2.1 0 1 0 4.2 0M480.5 78.0a2.1 2.1 0 1 0 -4.2 0a2.1 2.1 0 1 0 4.2 0M468.5 82.1a2.1 2.1 0 1 0 -4.2 0a2.1 2.1 0 1 0 4.2 0M472.5 85.9a2.1 2.1 0 1 0 -4.2 0a2.1 2.1 0 1 0 4.2 0M469.4 89.0a2.1 2.1 0 1 0 -4.2 0a2.1 2.1 0 1 0 4.2 0M481.1 87.3a2.1 2.1 0 1 0 -4.2 0a2.1 2.1 0 1 0 4.2 0M489.6 73.4a2.1 2.1 0 1 0 -4.2 0a2.1 2.1 0 1 0 4.2 0M491.4 72.8a2.1 2.1 0 1 0 -4.2 0a2.1 2.1 0 1 0 4.2 0M489.0 76.5a2.1 2.1 0 1 0 -4.2 0a2.1 2.1 0 1 0 4.2 0M490.2 79.0a2.1 2.1 0 1 0 -4.2 0a2.1 2.1 0 1 0 4.2 0M490.8 81.5a2.1 2.1 0 1 0 -4.2 0a2.1 2.1 0 1 0 4.2 0M497.0 70.3a2.1 2.1 0 1 0 -4.2 0a2.1 2.1 0 1 0 4.2 0M501.4 69.1a2.1 2.1 0 1 0 -4.2 0a2.1 2.1 0 1 0 4.2 0M500.5 73.4a2.1 2.1 0 1 0 -4.2 0a2.1 2.1 0 1 0 4.2 0M503.2 77.8a2.1 2.1 0 1 0 -4.2 0a2.1 2.1 0 1 0 4.2 0M499.5 80.3a2.1 2.1 0 1 0 -4.2 0a2.1 2.1 0 1 0 4.2 0M496.4 84.4a2.1 2.1 0 1 0 -4.2 0a2.1 2.1 0 1 0 4.2 0M497.6 85.9a2.1 2.1 0 1 0 -4.2 0a2.1 2.1 0 1 0 4.2 0M502.0 82.7a2.1 2.1 0 1 0 -4.2 0a2.1 2.1 0 1 0 4.2 0M503.2 85.2a2.1 2.1 0 1 0 -4.2 0a2.1 2.1 0 1 0 4.2 0M466.6 97.6a2.1 2.1 0 1 0 -4.2 0a2.1 2.1 0 1 0 4.2 0M470.3 95.8a2.1 2.1 0 1 0 -4.2 0a2.1 2.1 0 1 0 4.2 0M472.2 97.6a2.1 2.1 0 1 0 -4.2 0a2.1 2.1 0 1 0 4.2 0M478.4 99.5a2.1 2.1 0 1 0 -4.2 0a2.1 2.1 0 1 0 4.2 0M487.1 94.3a2.1 2.1 0 1 0 -4.2 0a2.1 2.1 0 1 0 4.2 0M489.0 95.2a2.1 2.1 0 1 0 -4.2 0a2.1 2.1 0 1 0 4.2 0M492.1 94.5a2.1 2.1 0 1 0 -4.2 0a2.1 2.1 0 1 0 4.2 0M496.4 94.5a2.1 2.1 0 1 0 -4.2 0a2.1 2.1 0 1 0 4.2 0M500.7 94.5a2.1 2.1 0 1 0 -4.2 0a2.1 2.1 0 1 0 4.2 0M504.2 93.3a2.1 2.1 0 1 0 -4.2 0a2.1 2.1 0 1 0 4.2 0M487.7 101.4a2.1 2.1 0 1 0 -4.2 0a2.1 2.1 0 1 0 4.2 0M487.1 103.8a2.1 2.1 0 1 0 -4.2 0a2.1 2.1 0 1 0 4.2 0M489.0 106.3a2.1 2.1 0 1 0 -4.2 0a2.1 2.1 0 1 0 4.2 0M494.5 99.5a2.1 2.1 0 1 0 -4.2 0a2.1 2.1 0 1 0 4.2 0M496.4 100.7a2.1 2.1 0 1 0 -4.2 0a2.1 2.1 0 1 0 4.2 0M497.6 103.2a2.1 2.1 0 1 0 -4.2 0a2.1 2.1 0 1 0 4.2 0M498.3 105.7a2.1 2.1 0 1 0 -4.2 0a2.1 2.1 0 1 0 4.2 0M502.6 102.2a2.1 2.1 0 1 0 -4.2 0a2.1 2.1 0 1 0 4.2 0M494.5 110.7a2.1 2.1 0 1 0 -4.2 0a2.1 2.1 0 1 0 4.2 0M495.8 112.9a2.1 2.1 0 1 0 -4.2 0a2.1 2.1 0 1 0 4.2 0M494.5 115.0a2.1 2.1 0 1 0 -4.2 0a2.1 2.1 0 1 0 4.2 0M504.5 121.8a2.1 2.1 0 1 0 -4.2 0a2.1 2.1 0 1 0 4.2 0M515.6 73.2a2.1 2.1 0 1 0 -4.2 0a2.1 2.1 0 1 0 4.2 0M541.7 71.2a2.1 2.1 0 1 0 -4.2 0a2.1 2.1 0 1 0 4.2 0M536.7 75.3a2.1 2.1 0 1 0 -4.2 0a2.1 2.1 0 1 0 4.2 0M543.5 78.2a2.1 2.1 0 1 0 -4.2 0a2.1 2.1 0 1 0 4.2 0M549.7 68.5a2.1 2.1 0 1 0 -4.2 0a2.1 2.1 0 1 0 4.2 0M551.6 72.8a2.1 2.1 0 1 0 -4.2 0a2.1 2.1 0 1 0 4.2 0M572.9 84.4a2.1 2.1 0 1 0 -4.2 0a2.1 2.1 0 1 0 4.2 0M567.1 87.1a2.1 2.1 0 1 0 -4.2 0a2.1 2.1 0 1 0 4.2 0M519.3 84.4a2.1 2.1 0 1 0 -4.2 0a2.1 2.1 0 1 0 4.2 0M524.3 84.4a2.1 2.1 0 1 0 -4.2 0a2.1 2.1 0 1 0 4.2 0M524.9 88.1a2.1 2.1 0 1 0 -4.2 0a2.1 2.1 0 1 0 4.2 0M530.5 85.9a2.1 2.1 0 1 0 -4.2 0a2.1 2.1 0 1 0 4.2 0M536.1 83.4a2.1 2.1 0 1 0 -4.2 0a2.1 2.1 0 1 0 4.2 0M535.5 84.6a2.1 2.1 0 1 0 -4.2 0a2.1 2.1 0 1 0 4.2 0M541.0 85.9a2.1 2.1 0 1 0 -4.2 0a2.1 2.1 0 1 0 4.2 0M544.8 87.1a2.1 2.1 0 1 0 -4.2 0a2.1 2.1 0 1 0 4.2 0M554.7 86.8a2.1 2.1 0 1 0 -4.2 0a2.1 2.1 0 1 0 4.2 0M564.6 92.1a2.1 2.1 0 1 0 -4.2 0a2.1 2.1 0 1 0 4.2 0M559.7 92.1a2.1 2.1 0 1 0 -4.2 0a2.1 2.1 0 1 0 4.2 0M562.8 95.5a2.1 2.1 0 1 0 -4.2 0a2.1 2.1 0 1 0 4.2 0M559.0 95.2a2.1 2.1 0 1 0 -4.2 0a2.1 2.1 0 1 0 4.2 0M571.4 94.3a2.1 2.1 0 1 0 -4.2 0a2.1 2.1 0 1 0 4.2 0M572.1 93.5a2.1 2.1 0 1 0 -4.2 0a2.1 2.1 0 1 0 4.2 0M509.4 87.1a2.1 2.1 0 1 0 -4.2 0a2.1 2.1 0 1 0 4.2 0M508.8 89.6a2.1 2.1 0 1 0 -4.2 0a2.1 2.1 0 1 0 4.2 0M515.0 90.2a2.1 2.1 0 1 0 -4.2 0a2.1 2.1 0 1 0 4.2 0M518.7 92.1a2.1 2.1 0 1 0 -4.2 0a2.1 2.1 0 1 0 4.2 0M523.1 92.7a2.1 2.1 0 1 0 -4.2 0a2.1 2.1 0 1 0 4.2 0M526.8 90.8a2.1 2.1 0 1 0 -4.2 0a2.1 2.1 0 1 0 4.2 0M528.6 92.1a2.1 2.1 0 1 0 -4.2 0a2.1 2.1 0 1 0 4.2 0M532.4 92.1a2.1 2.1 0 1 0 -4.2 0a2.1 2.1 0 1 0 4.2 0M546.0 90.8a2.1 2.1 0 1 0 -4.2 0a2.1 2.1 0 1 0 4.2 0M549.1 90.2a2.1 2.1 0 1 0 -4.2 0a2.1 2.1 0 1 0 4.2 0M552.2 90.8a2.1 2.1 0 1 0 -4.2 0a2.1 2.1 0 1 0 4.2 0M554.7 92.1a2.1 2.1 0 1 0 -4.2 0a2.1 2.1 0 1 0 4.2 0M505.1 92.7a2.1 2.1 0 1 0 -4.2 0a2.1 2.1 0 1 0 4.2 0M511.3 95.8a2.1 2.1 0 1 0 -4.2 0a2.1 2.1 0 1 0 4.2 0M515.0 95.8a2.1 2.1 0 1 0 -4.2 0a2.1 2.1 0 1 0 4.2 0M520.0 95.8a2.1 2.1 0 1 0 -4.2 0a2.1 2.1 0 1 0 4.2 0M526.2 95.8a2.1 2.1 0 1 0 -4.2 0a2.1 2.1 0 1 0 4.2 0M529.9 95.8a2.1 2.1 0 1 0 -4.2 0a2.1 2.1 0 1 0 4.2 0M534.8 94.5a2.1 2.1 0 1 0 -4.2 0a2.1 2.1 0 1 0 4.2 0M537.3 95.8a2.1 2.1 0 1 0 -4.2 0a2.1 2.1 0 1 0 4.2 0M542.3 95.8a2.1 2.1 0 1 0 -4.2 0a2.1 2.1 0 1 0 4.2 0M544.8 95.2a2.1 2.1 0 1 0 -4.2 0a2.1 2.1 0 1 0 4.2 0M548.5 95.2a2.1 2.1 0 1 0 -4.2 0a2.1 2.1 0 1 0 4.2 0M552.2 94.5a2.1 2.1 0 1 0 -4.2 0a2.1 2.1 0 1 0 4.2 0M511.9 100.7a2.1 2.1 0 1 0 -4.2 0a2.1 2.1 0 1 0 4.2 0M516.8 100.7a2.1 2.1 0 1 0 -4.2 0a2.1 2.1 0 1 0 4.2 0M520.6 99.5a2.1 2.1 0 1 0 -4.2 0a2.1 2.1 0 1 0 4.2 0M526.8 99.5a2.1 2.1 0 1 0 -4.2 0a2.1 2.1 0 1 0 4.2 0M531.1 99.5a2.1 2.1 0 1 0 -4.2 0a2.1 2.1 0 1 0 4.2 0M536.1 98.9a2.1 2.1 0 1 0 -4.2 0a2.1 2.1 0 1 0 4.2 0M541.0 99.5a2.1 2.1 0 1 0 -4.2 0a2.1 2.1 0 1 0 4.2 0M544.8 98.9a2.1 2.1 0 1 0 -4.2 0a2.1 2.1 0 1 0 4.2 0M550.3 102.2a2.1 2.1 0 1 0 -4.2 0a2.1 2.1 0 1 0 4.2 0M564.0 102.6a2.1 2.1 0 1 0 -4.2 0a2.1 2.1 0 1 0 4.2 0M567.7 103.2a2.1 2.1 0 1 0 -4.2 0a2.1 2.1 0 1 0 4.2 0M573.9 100.1a2.1 2.1 0 1 0 -4.2 0a2.1 2.1 0 1 0 4.2 0M579.5 101.4a2.1 2.1 0 1 0 -4.2 0a2.1 2.1 0 1 0 4.2 0M575.8 103.2a2.1 2.1 0 1 0 -4.2 0a2.1 2.1 0 1 0 4.2 0M507.5 104.5a2.1 2.1 0 1 0 -4.2 0a2.1 2.1 0 1 0 4.2 0M508.2 106.9a2.1 2.1 0 1 0 -4.2 0a2.1 2.1 0 1 0 4.2 0M512.5 105.7a2.1 2.1 0 1 0 -4.2 0a2.1 2.1 0 1 0 4.2 0M517.5 105.7a2.1 2.1 0 1 0 -4.2 0a2.1 2.1 0 1 0 4.2 0M523.1 105.7a2.1 2.1 0 1 0 -4.2 0a2.1 2.1 0 1 0 4.2 0M529.9 105.1a2.1 2.1 0 1 0 -4.2 0a2.1 2.1 0 1 0 4.2 0M534.2 104.5a2.1 2.1 0 1 0 -4.2 0a2.1 2.1 0 1 0 4.2 0M537.9 105.7a2.1 2.1 0 1 0 -4.2 0a2.1 2.1 0 1 0 4.2 0M541.7 105.7a2.1 2.1 0 1 0 -4.2 0a2.1 2.1 0 1 0 4.2 0M546.0 106.9a2.1 2.1 0 1 0 -4.2 0a2.1 2.1 0 1 0 4.2 0M572.1 106.9a2.1 2.1 0 1 0 -4.2 0a2.1 2.1 0 1 0 4.2 0M509.4 112.5a2.1 2.1 0 1 0 -4.2 0a2.1 2.1 0 1 0 4.2 0M513.1 109.4a2.1 2.1 0 1 0 -4.2 0a2.1 2.1 0 1 0 4.2 0M516.2 110.7a2.1 2.1 0 1 0 -4.2 0a2.1 2.1 0 1 0 4.2 0M521.8 110.0a2.1 2.1 0 1 0 -4.2 0a2.1 2.1 0 1 0 4.2 0M528.0 109.4a2.1 2.1 0 1 0 -4.2 0a2.1 2.1 0 1 0 4.2 0M533.0 108.8a2.1 2.1 0 1 0 -4.2 0a2.1 2.1 0 1 0 4.2 0M537.3 110.0a2.1 2.1 0 1 0 -4.2 0a2.1 2.1 0 1 0 4.2 0M542.9 110.0a2.1 2.1 0 1 0 -4.2 0a2.1 2.1 0 1 0 4.2 0M549.7 110.0a2.1 2.1 0 1 0 -4.2 0a2.1 2.1 0 1 0 4.2 0M552.2 111.3a2.1 2.1 0 1 0 -4.2 0a2.1 2.1 0 1 0 4.2 0M558.4 110.0a2.1 2.1 0 1 0 -4.2 0a2.1 2.1 0 1 0 4.2 0M566.5 110.7a2.1 2.1 0 1 0 -4.2 0a2.1 2.1 0 1 0 4.2 0M570.8 113.1a2.1 2.1 0 1 0 -4.2 0a2.1 2.1 0 1 0 4.2 0M582.6 112.5a2.1 2.1 0 1 0 -4.2 0a2.1 2.1 0 1 0 4.2 0M512.5 115.0a2.1 2.1 0 1 0 -4.2 0a2.1 2.1 0 1 0 4.2 0M516.2 116.2a2.1 2.1 0 1 0 -4.2 0a2.1 2.1 0 1 0 4.2 0M523.7 114.4a2.1 2.1 0 1 0 -4.2 0a2.1 2.1 0 1 0 4.2 0M526.8 116.2a2.1 2.1 0 1 0 -4.2 0a2.1 2.1 0 1 0 4.2 0M530.5 115.6a2.1 2.1 0 1 0 -4.2 0a2.1 2.1 0 1 0 4.2 0M533.6 115.0a2.1 2.1 0 1 0 -4.2 0a2.1 2.1 0 1 0 4.2 0M537.9 113.8a2.1 2.1 0 1 0 -4.2 0a2.1 2.1 0 1 0 4.2 0M541.7 115.0a2.1 2.1 0 1 0 -4.2 0a2.1 2.1 0 1 0 4.2 0M547.9 115.0a2.1 2.1 0 1 0 -4.2 0a2.1 2.1 0 1 0 4.2 0M551.0 115.6a2.1 2.1 0 1 0 -4.2 0a2.1 2.1 0 1 0 4.2 0M554.7 114.4a2.1 2.1 0 1 0 -4.2 0a2.1 2.1 0 1 0 4.2 0M567.7 116.2a2.1 2.1 0 1 0 -4.2 0a2.1 2.1 0 1 0 4.2 0M581.4 116.9a2.1 2.1 0 1 0 -4.2 0a2.1 2.1 0 1 0 4.2 0M583.8 118.1a2.1 2.1 0 1 0 -4.2 0a2.1 2.1 0 1 0 4.2 0M505.7 122.5a2.1 2.1 0 1 0 -4.2 0a2.1 2.1 0 1 0 4.2 0M512.5 120.6a2.1 2.1 0 1 0 -4.2 0a2.1 2.1 0 1 0 4.2 0M519.3 120.6a2.1 2.1 0 1 0 -4.2 0a2.1 2.1 0 1 0 4.2 0M520.0 123.7a2.1 2.1 0 1 0 -4.2 0a2.1 2.1 0 1 0 4.2 0M528.0 120.6a2.1 2.1 0 1 0 -4.2 0a2.1 2.1 0 1 0 4.2 0M531.1 119.3a2.1 2.1 0 1 0 -4.2 0a2.1 2.1 0 1 0 4.2 0M534.8 120.6a2.1 2.1 0 1 0 -4.2 0a2.1 2.1 0 1 0 4.2 0M537.3 122.5a2.1 2.1 0 1 0 -4.2 0a2.1 2.1 0 1 0 4.2 0M541.0 120.6a2.1 2.1 0 1 0 -4.2 0a2.1 2.1 0 1 0 4.2 0M546.0 119.3a2.1 2.1 0 1 0 -4.2 0a2.1 2.1 0 1 0 4.2 0M549.1 120.6a2.1 2.1 0 1 0 -4.2 0a2.1 2.1 0 1 0 4.2 0M554.7 121.2a2.1 2.1 0 1 0 -4.2 0a2.1 2.1 0 1 0 4.2 0M560.3 118.1a2.1 2.1 0 1 0 -4.2 0a2.1 2.1 0 1 0 4.2 0M560.9 121.8a2.1 2.1 0 1 0 -4.2 0a2.1 2.1 0 1 0 4.2 0M565.9 120.6a2.1 2.1 0 1 0 -4.2 0a2.1 2.1 0 1 0 4.2 0M575.8 122.5a2.1 2.1 0 1 0 -4.2 0a2.1 2.1 0 1 0 4.2 0M579.5 121.8a2.1 2.1 0 1 0 -4.2 0a2.1 2.1 0 1 0 4.2 0M587.6 105.5a2.1 2.1 0 1 0 -4.2 0a2.1 2.1 0 1 0 4.2 0M589.7 108.8a2.1 2.1 0 1 0 -4.2 0a2.1 2.1 0 1 0 4.2 0M615.1 104.4a2.1 2.1 0 1 0 -4.2 0a2.1 2.1 0 1 0 4.2 0M607.5 112.7a2.1 2.1 0 1 0 -4.2 0a2.1 2.1 0 1 0 4.2 0M587.2 114.3a2.1 2.1 0 1 0 -4.2 0a2.1 2.1 0 1 0 4.2 0M591.8 123.0a2.1 2.1 0 1 0 -4.2 0a2.1 2.1 0 1 0 4.2 0M500.5 141.2a2.1 2.1 0 1 0 -4.2 0a2.1 2.1 0 1 0 4.2 0M507.8 127.5a2.1 2.1 0 1 0 -4.2 0a2.1 2.1 0 1 0 4.2 0M516.2 132.4a2.1 2.1 0 1 0 -4.2 0a2.1 2.1 0 1 0 4.2 0M518.1 127.8a2.1 2.1 0 1 0 -4.2 0a2.1 2.1 0 1 0 4.2 0M524.3 130.3a2.1 2.1 0 1 0 -4.2 0a2.1 2.1 0 1 0 4.2 0M525.5 136.1a2.1 2.1 0 1 0 -4.2 0a2.1 2.1 0 1 0 4.2 0M512.5 138.6a2.1 2.1 0 1 0 -4.2 0a2.1 2.1 0 1 0 4.2 0M523.4 141.8a2.1 2.1 0 1 0 -4.2 0a2.1 2.1 0 1 0 4.2 0M528.9 149.8a2.1 2.1 0 1 0 -4.2 0a2.1 2.1 0 1 0 4.2 0M535.5 148.0a2.1 2.1 0 1 0 -4.2 0a2.1 2.1 0 1 0 4.2 0M516.5 156.4a2.1 2.1 0 1 0 -4.2 0a2.1 2.1 0 1 0 4.2 0M542.3 147.7a2.1 2.1 0 1 0 -4.2 0a2.1 2.1 0 1 0 4.2 0M550.3 148.9a2.1 2.1 0 1 0 -4.2 0a2.1 2.1 0 1 0 4.2 0M533.6 159.7a2.1 2.1 0 1 0 -4.2 0a2.1 2.1 0 1 0 4.2 0M537.3 158.2a2.1 2.1 0 1 0 -4.2 0a2.1 2.1 0 1 0 4.2 0M540.1 160.7a2.1 2.1 0 1 0 -4.2 0a2.1 2.1 0 1 0 4.2 0M541.4 165.0a2.1 2.1 0 1 0 -4.2 0a2.1 2.1 0 1 0 4.2 0M542.9 154.3a2.1 2.1 0 1 0 -4.2 0a2.1 2.1 0 1 0 4.2 0M544.8 154.3a2.1 2.1 0 1 0 -4.2 0a2.1 2.1 0 1 0 4.2 0M546.6 153.9a2.1 2.1 0 1 0 -4.2 0a2.1 2.1 0 1 0 4.2 0M549.5 153.5a2.1 2.1 0 1 0 -4.2 0a2.1 2.1 0 1 0 4.2 0M552.2 158.5a2.1 2.1 0 1 0 -4.2 0a2.1 2.1 0 1 0 4.2 0M550.3 174.3a2.1 2.1 0 1 0 -4.2 0a2.1 2.1 0 1 0 4.2 0M564.6 153.9a2.1 2.1 0 1 0 -4.2 0a2.1 2.1 0 1 0 4.2 0M565.2 178.3a2.1 2.1 0 1 0 -4.2 0a2.1 2.1 0 1 0 4.2 0M559.7 161.9a2.1 2.1 0 1 0 -4.2 0a2.1 2.1 0 1 0 4.2 0M561.5 164.4a2.1 2.1 0 1 0 -4.2 0a2.1 2.1 0 1 0 4.2 0M564.0 163.8a2.1 2.1 0 1 0 -4.2 0a2.1 2.1 0 1 0 4.2 0M567.1 162.6a2.1 2.1 0 1 0 -4.2 0a2.1 2.1 0 1 0 4.2 0M565.9 167.5a2.1 2.1 0 1 0 -4.2 0a2.1 2.1 0 1 0 4.2 0M569.0 170.0a2.1 2.1 0 1 0 -4.2 0a2.1 2.1 0 1 0 4.2 0M569.6 173.7a2.1 2.1 0 1 0 -4.2 0a2.1 2.1 0 1 0 4.2 0M574.5 175.6a2.1 2.1 0 1 0 -4.2 0a2.1 2.1 0 1 0 4.2 0M572.1 168.1a2.1 2.1 0 1 0 -4.2 0a2.1 2.1 0 1 0 4.2 0M573.3 163.8a2.1 2.1 0 1 0 -4.2 0a2.1 2.1 0 1 0 4.2 0M573.3 157.0a2.1 2.1 0 1 0 -4.2 0a2.1 2.1 0 1 0 4.2 0M577.0 153.3a2.1 2.1 0 1 0 -4.2 0a2.1 2.1 0 1 0 4.2 0M578.9 152.0a2.1 2.1 0 1 0 -4.2 0a2.1 2.1 0 1 0 4.2 0M581.4 171.9a2.1 2.1 0 1 0 -4.2 0a2.1 2.1 0 1 0 4.2 0M582.6 158.8a2.1 2.1 0 1 0 -4.2 0a2.1 2.1 0 1 0 4.2 0M580.7 178.3a2.1 2.1 0 1 0 -4.2 0a2.1 2.1 0 1 0 4.2 0M583.2 179.3a2.1 2.1 0 1 0 -4.2 0a2.1 2.1 0 1 0 4.2 0M530.5 126.6a2.1 2.1 0 1 0 -4.2 0a2.1 2.1 0 1 0 4.2 0M534.2 126.0a2.1 2.1 0 1 0 -4.2 0a2.1 2.1 0 1 0 4.2 0M536.1 124.7a2.1 2.1 0 1 0 -4.2 0a2.1 2.1 0 1 0 4.2 0M539.2 126.0a2.1 2.1 0 1 0 -4.2 0a2.1 2.1 0 1 0 4.2 0M543.5 125.3a2.1 2.1 0 1 0 -4.2 0a2.1 2.1 0 1 0 4.2 0M547.2 126.0a2.1 2.1 0 1 0 -4.2 0a2.1 2.1 0 1 0 4.2 0M551.0 124.7a2.1 2.1 0 1 0 -4.2 0a2.1 2.1 0 1 0 4.2 0M554.7 126.0a2.1 2.1 0 1 0 -4.2 0a2.1 2.1 0 1 0 4.2 0M558.4 124.7a2.1 2.1 0 1 0 -4.2 0a2.1 2.1 0 1 0 4.2 0M562.1 126.0a2.1 2.1 0 1 0 -4.2 0a2.1 2.1 0 1 0 4.2 0M565.9 124.7a2.1 2.1 0 1 0 -4.2 0a2.1 2.1 0 1 0 4.2 0M569.6 126.0a2.1 2.1 0 1 0 -4.2 0a2.1 2.1 0 1 0 4.2 0M573.3 125.3a2.1 2.1 0 1 0 -4.2 0a2.1 2.1 0 1 0 4.2 0M577.0 124.7a2.1 2.1 0 1 0 -4.2 0a2.1 2.1 0 1 0 4.2 0M580.1 126.0a2.1 2.1 0 1 0 -4.2 0a2.1 2.1 0 1 0 4.2 0M583.8 124.7a2.1 2.1 0 1 0 -4.2 0a2.1 2.1 0 1 0 4.2 0M529.9 130.3a2.1 2.1 0 1 0 -4.2 0a2.1 2.1 0 1 0 4.2 0M534.2 130.3a2.1 2.1 0 1 0 -4.2 0a2.1 2.1 0 1 0 4.2 0M537.9 129.7a2.1 2.1 0 1 0 -4.2 0a2.1 2.1 0 1 0 4.2 0M542.3 130.9a2.1 2.1 0 1 0 -4.2 0a2.1 2.1 0 1 0 4.2 0M545.4 132.8a2.1 2.1 0 1 0 -4.2 0a2.1 2.1 0 1 0 4.2 0M549.7 130.3a2.1 2.1 0 1 0 -4.2 0a2.1 2.1 0 1 0 4.2 0M553.4 129.7a2.1 2.1 0 1 0 -4.2 0a2.1 2.1 0 1 0 4.2 0M556.6 128.4a2.1 2.1 0 1 0 -4.2 0a2.1 2.1 0 1 0 4.2 0M561.5 131.5a2.1 2.1 0 1 0 -4.2 0a2.1 2.1 0 1 0 4.2 0M564.6 130.3a2.1 2.1 0 1 0 -4.2 0a2.1 2.1 0 1 0 4.2 0M567.7 129.1a2.1 2.1 0 1 0 -4.2 0a2.1 2.1 0 1 0 4.2 0M570.8 130.9a2.1 2.1 0 1 0 -4.2 0a2.1 2.1 0 1 0 4.2 0M575.2 129.7a2.1 2.1 0 1 0 -4.2 0a2.1 2.1 0 1 0 4.2 0M579.5 130.9a2.1 2.1 0 1 0 -4.2 0a2.1 2.1 0 1 0 4.2 0M583.2 128.4a2.1 2.1 0 1 0 -4.2 0a2.1 2.1 0 1 0 4.2 0M535.5 134.6a2.1 2.1 0 1 0 -4.2 0a2.1 2.1 0 1 0 4.2 0M539.8 134.0a2.1 2.1 0 1 0 -4.2 0a2.1 2.1 0 1 0 4.2 0M543.5 135.9a2.1 2.1 0 1 0 -4.2 0a2.1 2.1 0 1 0 4.2 0M547.2 134.6a2.1 2.1 0 1 0 -4.2 0a2.1 2.1 0 1 0 4.2 0M551.0 133.4a2.1 2.1 0 1 0 -4.2 0a2.1 2.1 0 1 0 4.2 0M555.3 135.3a2.1 2.1 0 1 0 -4.2 0a2.1 2.1 0 1 0 4.2 0M558.4 137.1a2.1 2.1 0 1 0 -4.2 0a2.1 2.1 0 1 0 4.2 0M562.8 134.6a2.1 2.1 0 1 0 -4.2 0a2.1 2.1 0 1 0 4.2 0M565.9 133.4a2.1 2.1 0 1 0 -4.2 0a2.1 2.1 0 1 0 4.2 0M569.6 135.9a2.1 2.1 0 1 0 -4.2 0a2.1 2.1 0 1 0 4.2 0M574.5 134.6a2.1 2.1 0 1 0 -4.2 0a2.1 2.1 0 1 0 4.2 0M578.3 133.4a2.1 2.1 0 1 0 -4.2 0a2.1 2.1 0 1 0 4.2 0M582.6 135.9a2.1 2.1 0 1 0 -4.2 0a2.1 2.1 0 1 0 4.2 0M537.3 139.4a2.1 2.1 0 1 0 -4.2 0a2.1 2.1 0 1 0 4.2 0M541.0 140.9a2.1 2.1 0 1 0 -4.2 0a2.1 2.1 0 1 0 4.2 0M544.1 138.4a2.1 2.1 0 1 0 -4.2 0a2.1 2.1 0 1 0 4.2 0M547.2 139.6a2.1 2.1 0 1 0 -4.2 0a2.1 2.1 0 1 0 4.2 0M551.0 139.0a2.1 2.1 0 1 0 -4.2 0a2.1 2.1 0 1 0 4.2 0M554.7 139.6a2.1 2.1 0 1 0 -4.2 0a2.1 2.1 0 1 0 4.2 0M557.8 140.9a2.1 2.1 0 1 0 -4.2 0a2.1 2.1 0 1 0 4.2 0M561.5 139.6a2.1 2.1 0 1 0 -4.2 0a2.1 2.1 0 1 0 4.2 0M565.9 138.4a2.1 2.1 0 1 0 -4.2 0a2.1 2.1 0 1 0 4.2 0M569.0 139.6a2.1 2.1 0 1 0 -4.2 0a2.1 2.1 0 1 0 4.2 0M576.4 139.6a2.1 2.1 0 1 0 -4.2 0a2.1 2.1 0 1 0 4.2 0M580.1 139.0a2.1 2.1 0 1 0 -4.2 0a2.1 2.1 0 1 0 4.2 0M583.8 139.6a2.1 2.1 0 1 0 -4.2 0a2.1 2.1 0 1 0 4.2 0M547.9 143.3a2.1 2.1 0 1 0 -4.2 0a2.1 2.1 0 1 0 4.2 0M551.6 144.0a2.1 2.1 0 1 0 -4.2 0a2.1 2.1 0 1 0 4.2 0M554.7 142.7a2.1 2.1 0 1 0 -4.2 0a2.1 2.1 0 1 0 4.2 0M558.4 144.0a2.1 2.1 0 1 0 -4.2 0a2.1 2.1 0 1 0 4.2 0M562.8 144.6a2.1 2.1 0 1 0 -4.2 0a2.1 2.1 0 1 0 4.2 0M568.3 144.0a2.1 2.1 0 1 0 -4.2 0a2.1 2.1 0 1 0 4.2 0M569.6 143.3a2.1 2.1 0 1 0 -4.2 0a2.1 2.1 0 1 0 4.2 0M572.7 147.7a2.1 2.1 0 1 0 -4.2 0a2.1 2.1 0 1 0 4.2 0M575.8 143.3a2.1 2.1 0 1 0 -4.2 0a2.1 2.1 0 1 0 4.2 0M578.3 142.7a2.1 2.1 0 1 0 -4.2 0a2.1 2.1 0 1 0 4.2 0M581.4 144.6a2.1 2.1 0 1 0 -4.2 0a2.1 2.1 0 1 0 4.2 0M583.8 144.0a2.1 2.1 0 1 0 -4.2 0a2.1 2.1 0 1 0 4.2 0M555.3 147.1a2.1 2.1 0 1 0 -4.2 0a2.1 2.1 0 1 0 4.2 0M558.4 147.7a2.1 2.1 0 1 0 -4.2 0a2.1 2.1 0 1 0 4.2 0M557.2 151.4a2.1 2.1 0 1 0 -4.2 0a2.1 2.1 0 1 0 4.2 0M562.1 147.7a2.1 2.1 0 1 0 -4.2 0a2.1 2.1 0 1 0 4.2 0M564.6 150.2a2.1 2.1 0 1 0 -4.2 0a2.1 2.1 0 1 0 4.2 0M568.3 147.1a2.1 2.1 0 1 0 -4.2 0a2.1 2.1 0 1 0 4.2 0M579.5 147.7a2.1 2.1 0 1 0 -4.2 0a2.1 2.1 0 1 0 4.2 0M582.6 148.9a2.1 2.1 0 1 0 -4.2 0a2.1 2.1 0 1 0 4.2 0M584.5 150.8a2.1 2.1 0 1 0 -4.2 0a2.1 2.1 0 1 0 4.2 0M577.0 149.5a2.1 2.1 0 1 0 -4.2 0a2.1 2.1 0 1 0 4.2 0M601.4 126.2a2.1 2.1 0 1 0 -4.2 0a2.1 2.1 0 1 0 4.2 0M593.1 127.9a2.1 2.1 0 1 0 -4.2 0a2.1 2.1 0 1 0 4.2 0M597.9 132.0a2.1 2.1 0 1 0 -4.2 0a2.1 2.1 0 1 0 4.2 0M595.2 133.1a2.1 2.1 0 1 0 -4.2 0a2.1 2.1 0 1 0 4.2 0M588.3 134.0a2.1 2.1 0 1 0 -4.2 0a2.1 2.1 0 1 0 4.2 0M590.4 136.1a2.1 2.1 0 1 0 -4.2 0a2.1 2.1 0 1 0 4.2 0M593.8 136.8a2.1 2.1 0 1 0 -4.2 0a2.1 2.1 0 1 0 4.2 0M586.3 138.8a2.1 2.1 0 1 0 -4.2 0a2.1 2.1 0 1 0 4.2 0M589.7 139.5a2.1 2.1 0 1 0 -4.2 0a2.1 2.1 0 1 0 4.2 0M585.6 132.7a2.1 2.1 0 1 0 -4.2 0a2.1 2.1 0 1 0 4.2 0M615.1 144.1a2.1 2.1 0 1 0 -4.2 0a2.1 2.1 0 1 0 4.2 0M635.0 147.1a2.1 2.1 0 1 0 -4.2 0a2.1 2.1 0 1 0 4.2 0M611.7 149.1a2.1 2.1 0 1 0 -4.2 0a2.1 2.1 0 1 0 4.2 0M607.5 150.9a2.1 2.1 0 1 0 -4.2 0a2.1 2.1 0 1 0 4.2 0M600.7 149.8a2.1 2.1 0 1 0 -4.2 0a2.1 2.1 0 1 0 4.2 0M602.7 153.9a2.1 2.1 0 1 0 -4.2 0a2.1 2.1 0 1 0 4.2 0M597.9 153.9a2.1 2.1 0 1 0 -4.2 0a2.1 2.1 0 1 0 4.2 0M595.2 153.9a2.1 2.1 0 1 0 -4.2 0a2.1 2.1 0 1 0 4.2 0M591.8 152.8a2.1 2.1 0 1 0 -4.2 0a2.1 2.1 0 1 0 4.2 0M593.1 145.7a2.1 2.1 0 1 0 -4.2 0a2.1 2.1 0 1 0 4.2 0M589.7 147.1a2.1 2.1 0 1 0 -4.2 0a2.1 2.1 0 1 0 4.2 0M587.0 148.4a2.1 2.1 0 1 0 -4.2 0a2.1 2.1 0 1 0 4.2 0M585.6 150.5a2.1 2.1 0 1 0 -4.2 0a2.1 2.1 0 1 0 4.2 0M616.5 154.6a2.1 2.1 0 1 0 -4.2 0a2.1 2.1 0 1 0 4.2 0M643.2 157.0a2.1 2.1 0 1 0 -4.2 0a2.1 2.1 0 1 0 4.2 0M631.6 160.1a2.1 2.1 0 1 0 -4.2 0a2.1 2.1 0 1 0 4.2 0M617.8 164.2a2.1 2.1 0 1 0 -4.2 0a2.1 2.1 0 1 0 4.2 0M602.1 162.2a2.1 2.1 0 1 0 -4.2 0a2.1 2.1 0 1 0 4.2 0M591.8 164.2a2.1 2.1 0 1 0 -4.2 0a2.1 2.1 0 1 0 4.2 0M589.0 162.9a2.1 2.1 0 1 0 -4.2 0a2.1 2.1 0 1 0 4.2 0M586.3 163.5a2.1 2.1 0 1 0 -4.2 0a2.1 2.1 0 1 0 4.2 0M600.0 168.3a2.1 2.1 0 1 0 -4.2 0a2.1 2.1 0 1 0 4.2 0M603.4 170.4a2.1 2.1 0 1 0 -4.2 0a2.1 2.1 0 1 0 4.2 0M628.1 169.0a2.1 2.1 0 1 0 -4.2 0a2.1 2.1 0 1 0 4.2 0M632.2 171.8a2.1 2.1 0 1 0 -4.2 0a2.1 2.1 0 1 0 4.2 0M593.8 172.9a2.1 2.1 0 1 0 -4.2 0a2.1 2.1 0 1 0 4.2 0M597.3 176.6a2.1 2.1 0 1 0 -4.2 0a2.1 2.1 0 1 0 4.2 0M615.1 172.9a2.1 2.1 0 1 0 -4.2 0a2.1 2.1 0 1 0 4.2 0M615.1 177.3a2.1 2.1 0 1 0 -4.2 0a2.1 2.1 0 1 0 4.2 0M612.3 177.5a2.1 2.1 0 1 0 -4.2 0a2.1 2.1 0 1 0 4.2 0M603.4 177.3a2.1 2.1 0 1 0 -4.2 0a2.1 2.1 0 1 0 4.2 0M605.5 178.6a2.1 2.1 0 1 0 -4.2 0a2.1 2.1 0 1 0 4.2 0M626.8 176.6a2.1 2.1 0 1 0 -4.2 0a2.1 2.1 0 1 0 4.2 0M588.3 178.6a2.1 2.1 0 1 0 -4.2 0a2.1 2.1 0 1 0 4.2 0M585.6 179.3a2.1 2.1 0 1 0 -4.2 0a2.1 2.1 0 1 0 4.2 0M624.7 180.3a2.1 2.1 0 1 0 -4.2 0a2.1 2.1 0 1 0 4.2 0M555.9 183.4a2.1 2.1 0 1 0 -4.2 0a2.1 2.1 0 1 0 4.2 0M579.5 184.1a2.1 2.1 0 1 0 -4.2 0a2.1 2.1 0 1 0 4.2 0M581.4 180.3a2.1 2.1 0 1 0 -4.2 0a2.1 2.1 0 1 0 4.2 0M575.5 194.4a2.1 2.1 0 1 0 -4.2 0a2.1 2.1 0 1 0 4.2 0M592.2 183.5a2.1 2.1 0 1 0 -4.2 0a2.1 2.1 0 1 0 4.2 0M595.9 185.9a2.1 2.1 0 1 0 -4.2 0a2.1 2.1 0 1 0 4.2 0M602.7 181.5a2.1 2.1 0 1 0 -4.2 0a2.1 2.1 0 1 0 4.2 0M609.6 183.1a2.1 2.1 0 1 0 -4.2 0a2.1 2.1 0 1 0 4.2 0M624.7 181.5a2.1 2.1 0 1 0 -4.2 0a2.1 2.1 0 1 0 4.2 0M624.0 185.6a2.1 2.1 0 1 0 -4.2 0a2.1 2.1 0 1 0 4.2 0M634.3 184.5a2.1 2.1 0 1 0 -4.2 0a2.1 2.1 0 1 0 4.2 0M652.1 182.6a2.1 2.1 0 1 0 -4.2 0a2.1 2.1 0 1 0 4.2 0M589.4 190.1a2.1 2.1 0 1 0 -4.2 0a2.1 2.1 0 1 0 4.2 0M602.7 192.5a2.1 2.1 0 1 0 -4.2 0a2.1 2.1 0 1 0 4.2 0M617.8 193.6a2.1 2.1 0 1 0 -4.2 0a2.1 2.1 0 1 0 4.2 0M603.7 200.0a2.1 2.1 0 1 0 -4.2 0a2.1 2.1 0 1 0 4.2 0M624.3 200.7a2.1 2.1 0 1 0 -4.2 0a2.1 2.1 0 1 0 4.2 0M649.0 198.0a2.1 2.1 0 1 0 -4.2 0a2.1 2.1 0 1 0 4.2 0M658.6 193.4a2.1 2.1 0 1 0 -4.2 0a2.1 2.1 0 1 0 4.2 0M659.0 198.6a2.1 2.1 0 1 0 -4.2 0a2.1 2.1 0 1 0 4.2 0M664.5 198.6a2.1 2.1 0 1 0 -4.2 0a2.1 2.1 0 1 0 4.2 0M615.5 210.0a2.1 2.1 0 1 0 -4.2 0a2.1 2.1 0 1 0 4.2 0M616.5 216.5a2.1 2.1 0 1 0 -4.2 0a2.1 2.1 0 1 0 4.2 0M626.5 215.5a2.1 2.1 0 1 0 -4.2 0a2.1 2.1 0 1 0 4.2 0M546.3 107.4a2.1 2.1 0 1 0 -4.2 0a2.1 2.1 0 1 0 4.2 0M535.4 110.1a2.1 2.1 0 1 0 -4.2 0a2.1 2.1 0 1 0 4.2 0M549.2 116.5a2.1 2.1 0 1 0 -4.2 0a2.1 2.1 0 1 0 4.2 0M553.9 108.2a2.1 2.1 0 1 0 -4.2 0a2.1 2.1 0 1 0 4.2 0M539.8 107.4a2.1 2.1 0 1 0 -4.2 0a2.1 2.1 0 1 0 4.2 0M533.7 114.1a2.1 2.1 0 1 0 -4.2 0a2.1 2.1 0 1 0 4.2 0M527.9 109.8a2.1 2.1 0 1 0 -4.2 0a2.1 2.1 0 1 0 4.2 0M546.6 114.6a2.1 2.1 0 1 0 -4.2 0a2.1 2.1 0 1 0 4.2 0M533.7 115.2a2.1 2.1 0 1 0 -4.2 0a2.1 2.1 0 1 0 4.2 0M551.4 107.1a2.1 2.1 0 1 0 -4.2 0a2.1 2.1 0 1 0 4.2 0M551.3 116.8a2.1 2.1 0 1 0 -4.2 0a2.1 2.1 0 1 0 4.2 0M537.3 109.2a2.1 2.1 0 1 0 -4.2 0a2.1 2.1 0 1 0 4.2 0M555.8 111.7a2.1 2.1 0 1 0 -4.2 0a2.1 2.1 0 1 0 4.2 0M529.9 108.4a2.1 2.1 0 1 0 -4.2 0a2.1 2.1 0 1 0 4.2 0M559.5 136.1a2.1 2.1 0 1 0 -4.2 0a2.1 2.1 0 1 0 4.2 0M558.8 137.9a2.1 2.1 0 1 0 -4.2 0a2.1 2.1 0 1 0 4.2 0M554.2 141.6a2.1 2.1 0 1 0 -4.2 0a2.1 2.1 0 1 0 4.2 0M551.5 135.3a2.1 2.1 0 1 0 -4.2 0a2.1 2.1 0 1 0 4.2 0M559.2 136.3a2.1 2.1 0 1 0 -4.2 0a2.1 2.1 0 1 0 4.2 0M559.7 135.7a2.1 2.1 0 1 0 -4.2 0a2.1 2.1 0 1 0 4.2 0M557.1 127.7a2.1 2.1 0 1 0 -4.2 0a2.1 2.1 0 1 0 4.2 0M549.0 131.3a2.1 2.1 0 1 0 -4.2 0a2.1 2.1 0 1 0 4.2 0M546.5 130.5a2.1 2.1 0 1 0 -4.2 0a2.1 2.1 0 1 0 4.2 0M546.8 131.2a2.1 2.1 0 1 0 -4.2 0a2.1 2.1 0 1 0 4.2 0M569.2 142.2a2.1 2.1 0 1 0 -4.2 0a2.1 2.1 0 1 0 4.2 0M567.1 141.3a2.1 2.1 0 1 0 -4.2 0a2.1 2.1 0 1 0 4.2 0M566.2 145.6a2.1 2.1 0 1 0 -4.2 0a2.1 2.1 0 1 0 4.2 0M569.3 143.7a2.1 2.1 0 1 0 -4.2 0a2.1 2.1 0 1 0 4.2 0M509.0 103.0a2.1 2.1 0 1 0 -4.2 0a2.1 2.1 0 1 0 4.2 0M508.9 95.3a2.1 2.1 0 1 0 -4.2 0a2.1 2.1 0 1 0 4.2 0M522.9 101.1a2.1 2.1 0 1 0 -4.2 0a2.1 2.1 0 1 0 4.2 0M515.6 102.1a2.1 2.1 0 1 0 -4.2 0a2.1 2.1 0 1 0 4.2 0M520.4 104.1a2.1 2.1 0 1 0 -4.2 0a2.1 2.1 0 1 0 4.2 0M510.0 87.7a2.1 2.1 0 1 0 -4.2 0a2.1 2.1 0 1 0 4.2 0M511.5 92.9a2.1 2.1 0 1 0 -4.2 0a2.1 2.1 0 1 0 4.2 0M509.7 107.7a2.1 2.1 0 1 0 -4.2 0a2.1 2.1 0 1 0 4.2 0M557.2 116.1a2.1 2.1 0 1 0 -4.2 0a2.1 2.1 0 1 0 4.2 0M545.3 118.5a2.1 2.1 0 1 0 -4.2 0a2.1 2.1 0 1 0 4.2 0M531.7 116.2a2.1 2.1 0 1 0 -4.2 0a2.1 2.1 0 1 0 4.2 0M544.2 119.9a2.1 2.1 0 1 0 -4.2 0a2.1 2.1 0 1 0 4.2 0M534.5 121.5a2.1 2.1 0 1 0 -4.2 0a2.1 2.1 0 1 0 4.2 0M532.3 110.6a2.1 2.1 0 1 0 -4.2 0a2.1 2.1 0 1 0 4.2 0M556.8 137.5a2.1 2.1 0 1 0 -4.2 0a2.1 2.1 0 1 0 4.2 0M550.3 129.7a2.1 2.1 0 1 0 -4.2 0a2.1 2.1 0 1 0 4.2 0M562.1 131.4a2.1 2.1 0 1 0 -4.2 0a2.1 2.1 0 1 0 4.2 0M556.8 136.7a2.1 2.1 0 1 0 -4.2 0a2.1 2.1 0 1 0 4.2 0M553.6 136.2a2.1 2.1 0 1 0 -4.2 0a2.1 2.1 0 1 0 4.2 0M555.5 141.1a2.1 2.1 0 1 0 -4.2 0a2.1 2.1 0 1 0 4.2 0" class="pt"/>
<rect x="54.5" y="304.6" width="252.7" height="212.6" class="ax"/>
<line x1="62.3" y1="517.2" x2="62.3" y2="524.2" class="tk"/>
<text x="62.3" y="541.6" text-anchor="middle">0</text>
<line x1="113.1" y1="517.2" x2="113.1" y2="524.2" class="tk"/>
<text x="113.1" y="541.6" text-anchor="middle">2</text>
<line x1="163.9" y1="517.2" x2="163.9" y2="524.2" class="tk"/>
<text x="163.9" y="541.6" text-anchor="middle">4</text>
<line x1="214.7" y1="517.2" x2="214.7" y2="524.2" class="tk"/>
<text x="214.7" y="541.6" text-anchor="middle">6</text>
<line x1="265.5" y1="517.2" x2="265.5" y2="524.2" class="tk"/>
<text x="265.5" y="541.6" text-anchor="middle">8</text>
<text x="183.3" y="561.7" text-anchor="middle">log2(gene_FPKM)</text>
<line x1="47.2" y1="330.7" x2="54.5" y2="330.7" class="tk"/>
<text transform="translate(38.3,330.7) rotate(-90)" text-anchor="middle">0</text>
<line x1="47.2" y1="368.3" x2="54.5" y2="368.3" class="tk"/>
<text transform="translate(38.3,368.3) rotate(-90)" text-anchor="middle">−2</text>
<line x1="47.2" y1="405.9" x2="54.5" y2="405.9" class="tk"/>
<text transform="translate(38.3,405.9) rotate(-90)" text-anchor="middle">−4</text>
<line x1="47.2" y1="443.4" x2="54.5" y2="443.4" class="tk"/>
<text transform="translate(38.3,443.4) rotate(-90)" text-anchor="middle">−6</text>
<line x1="47.2" y1="481.0" x2="54.5" y2="481.0" class="tk"/>
<text transform="translate(38.3,481.0) rotate(-90)" text-anchor="middle">−8</text>
<text transform="translate(14.0,410.9) rotate(-90)" text-anchor="middle">log2(circRNA_FPKM)</text>
<path d="M66.3 312.4a2.1 2.1 0 1 0 -4.2 0a2.1 2.1 0 1 0 4.2 0M98.3 313.1a2.1 2.1 0 1 0 -4.2 0a2.1 2.1 0 1 0 4.2 0M72.8 330.3a2.1 2.1 0 1 0 -4.2 0a2.1 2.1 0 1 0 4.2 0M127.4 328.4a2.1 2.1 0 1 0 -4.2 0a2.1 2.1 0 1 0 4.2 0M131.4 334.1a2.1 2.1 0 1 0 -4.2 0a2.1 2.1 0 1 0 4.2 0M92.1 333.8a2.1 2.1 0 1 0 -4.2 0a2.1 2.1 0 1 0 4.2 0M90.8 336.0a2.1 2.1 0 1 0 -4.2 0a2.1 2.1 0 1 0 4.2 0M89.4 340.0a2.1 2.1 0 1 0 -4.2 0a2.1 2.1 0 1 0 4.2 0M97.3 338.1a2.1 2.1 0 1 0 -4.2 0a2.1 2.1 0 1 0 4.2 0M110.7 334.0a2.1 2.1 0 1 0 -4.2 0a2.1 2.1 0 1 0 4.2 0M107.0 339.4a2.1 2.1 0 1 0 -4.2 0a2.1 2.1 0 1 0 4.2 0M108.8 339.4a2.1 2.1 0 1 0 -4.2 0a2.1 2.1 0 1 0 4.2 0M76.6 342.5a2.1 2.1 0 1 0 -4.2 0a2.1 2.1 0 1 0 4.2 0M118.1 343.7a2.1 2.1 0 1 0 -4.2 0a2.1 2.1 0 1 0 4.2 0M118.4 344.3a2.1 2.1 0 1 0 -4.2 0a2.1 2.1 0 1 0 4.2 0M72.2 352.6a2.1 2.1 0 1 0 -4.2 0a2.1 2.1 0 1 0 4.2 0M77.8 350.3a2.1 2.1 0 1 0 -4.2 0a2.1 2.1 0 1 0 4.2 0M90.2 351.5a2.1 2.1 0 1 0 -4.2 0a2.1 2.1 0 1 0 4.2 0M89.0 354.6a2.1 2.1 0 1 0 -4.2 0a2.1 2.1 0 1 0 4.2 0M104.5 351.5a2.1 2.1 0 1 0 -4.2 0a2.1 2.1 0 1 0 4.2 0M111.6 356.7a2.1 2.1 0 1 0 -4.2 0a2.1 2.1 0 1 0 4.2 0M116.5 354.9a2.1 2.1 0 1 0 -4.2 0a2.1 2.1 0 1 0 4.2 0M127.4 351.4a2.1 2.1 0 1 0 -4.2 0a2.1 2.1 0 1 0 4.2 0M124.3 354.9a2.1 2.1 0 1 0 -4.2 0a2.1 2.1 0 1 0 4.2 0M126.8 354.9a2.1 2.1 0 1 0 -4.2 0a2.1 2.1 0 1 0 4.2 0M126.6 358.3a2.1 2.1 0 1 0 -4.2 0a2.1 2.1 0 1 0 4.2 0M134.0 358.0a2.1 2.1 0 1 0 -4.2 0a2.1 2.1 0 1 0 4.2 0M95.8 359.0a2.1 2.1 0 1 0 -4.2 0a2.1 2.1 0 1 0 4.2 0M144.5 357.3a2.1 2.1 0 1 0 -4.2 0a2.1 2.1 0 1 0 4.2 0M177.7 356.4a2.1 2.1 0 1 0 -4.2 0a2.1 2.1 0 1 0 4.2 0M108.2 362.7a2.1 2.1 0 1 0 -4.2 0a2.1 2.1 0 1 0 4.2 0M113.4 367.1a2.1 2.1 0 1 0 -4.2 0a2.1 2.1 0 1 0 4.2 0M123.1 364.6a2.1 2.1 0 1 0 -4.2 0a2.1 2.1 0 1 0 4.2 0M107.0 368.9a2.1 2.1 0 1 0 -4.2 0a2.1 2.1 0 1 0 4.2 0M102.6 372.6a2.1 2.1 0 1 0 -4.2 0a2.1 2.1 0 1 0 4.2 0M105.7 372.6a2.1 2.1 0 1 0 -4.2 0a2.1 2.1 0 1 0 4.2 0M91.5 370.2a2.1 2.1 0 1 0 -4.2 0a2.1 2.1 0 1 0 4.2 0M92.7 372.4a2.1 2.1 0 1 0 -4.2 0a2.1 2.1 0 1 0 4.2 0M108.8 379.5a2.1 2.1 0 1 0 -4.2 0a2.1 2.1 0 1 0 4.2 0M114.4 375.1a2.1 2.1 0 1 0 -4.2 0a2.1 2.1 0 1 0 4.2 0M115.7 374.5a2.1 2.1 0 1 0 -4.2 0a2.1 2.1 0 1 0 4.2 0M117.5 372.6a2.1 2.1 0 1 0 -4.2 0a2.1 2.1 0 1 0 4.2 0M125.6 368.3a2.1 2.1 0 1 0 -4.2 0a2.1 2.1 0 1 0 4.2 0M125.6 370.8a2.1 2.1 0 1 0 -4.2 0a2.1 2.1 0 1 0 4.2 0M128.1 367.1a2.1 2.1 0 1 0 -4.2 0a2.1 2.1 0 1 0 4.2 0M132.4 364.6a2.1 2.1 0 1 0 -4.2 0a2.1 2.1 0 1 0 4.2 0M135.5 364.0a2.1 2.1 0 1 0 -4.2 0a2.1 2.1 0 1 0 4.2 0M138.0 363.3a2.1 2.1 0 1 0 -4.2 0a2.1 2.1 0 1 0 4.2 0M139.8 365.2a2.1 2.1 0 1 0 -4.2 0a2.1 2.1 0 1 0 4.2 0M133.0 373.9a2.1 2.1 0 1 0 -4.2 0a2.1 2.1 0 1 0 4.2 0M136.7 373.9a2.1 2.1 0 1 0 -4.2 0a2.1 2.1 0 1 0 4.2 0M139.2 370.8a2.1 2.1 0 1 0 -4.2 0a2.1 2.1 0 1 0 4.2 0M123.7 379.5a2.1 2.1 0 1 0 -4.2 0a2.1 2.1 0 1 0 4.2 0M125.6 381.3a2.1 2.1 0 1 0 -4.2 0a2.1 2.1 0 1 0 4.2 0M123.7 385.1a2.1 2.1 0 1 0 -4.2 0a2.1 2.1 0 1 0 4.2 0M126.2 388.2a2.1 2.1 0 1 0 -4.2 0a2.1 2.1 0 1 0 4.2 0M130.5 382.6a2.1 2.1 0 1 0 -4.2 0a2.1 2.1 0 1 0 4.2 0M132.4 385.1a2.1 2.1 0 1 0 -4.2 0a2.1 2.1 0 1 0 4.2 0M133.6 388.8a2.1 2.1 0 1 0 -4.2 0a2.1 2.1 0 1 0 4.2 0M131.2 391.3a2.1 2.1 0 1 0 -4.2 0a2.1 2.1 0 1 0 4.2 0M138.0 380.7a2.1 2.1 0 1 0 -4.2 0a2.1 2.1 0 1 0 4.2 0M135.5 380.1a2.1 2.1 0 1 0 -4.2 0a2.1 2.1 0 1 0 4.2 0M136.7 396.8a2.1 2.1 0 1 0 -4.2 0a2.1 2.1 0 1 0 4.2 0M123.1 401.4a2.1 2.1 0 1 0 -4.2 0a2.1 2.1 0 1 0 4.2 0M140.5 392.5a2.1 2.1 0 1 0 -4.2 0a2.1 2.1 0 1 0 4.2 0M164.6 360.5a2.1 2.1 0 1 0 -4.2 0a2.1 2.1 0 1 0 4.2 0M185.5 362.1a2.1 2.1 0 1 0 -4.2 0a2.1 2.1 0 1 0 4.2 0M173.3 365.2a2.1 2.1 0 1 0 -4.2 0a2.1 2.1 0 1 0 4.2 0M175.8 364.6a2.1 2.1 0 1 0 -4.2 0a2.1 2.1 0 1 0 4.2 0M179.5 365.8a2.1 2.1 0 1 0 -4.2 0a2.1 2.1 0 1 0 4.2 0M171.5 368.9a2.1 2.1 0 1 0 -4.2 0a2.1 2.1 0 1 0 4.2 0M160.9 370.8a2.1 2.1 0 1 0 -4.2 0a2.1 2.1 0 1 0 4.2 0M149.5 369.5a2.1 2.1 0 1 0 -4.2 0a2.1 2.1 0 1 0 4.2 0M145.4 373.3a2.1 2.1 0 1 0 -4.2 0a2.1 2.1 0 1 0 4.2 0M149.7 372.6a2.1 2.1 0 1 0 -4.2 0a2.1 2.1 0 1 0 4.2 0M155.3 373.9a2.1 2.1 0 1 0 -4.2 0a2.1 2.1 0 1 0 4.2 0M167.1 370.8a2.1 2.1 0 1 0 -4.2 0a2.1 2.1 0 1 0 4.2 0M168.4 375.1a2.1 2.1 0 1 0 -4.2 0a2.1 2.1 0 1 0 4.2 0M172.1 371.4a2.1 2.1 0 1 0 -4.2 0a2.1 2.1 0 1 0 4.2 0M177.7 375.1a2.1 2.1 0 1 0 -4.2 0a2.1 2.1 0 1 0 4.2 0M181.4 375.1a2.1 2.1 0 1 0 -4.2 0a2.1 2.1 0 1 0 4.2 0M190.7 378.9a2.1 2.1 0 1 0 -4.2 0a2.1 2.1 0 1 0 4.2 0M188.8 381.3a2.1 2.1 0 1 0 -4.2 0a2.1 2.1 0 1 0 4.2 0M209.9 383.8a2.1 2.1 0 1 0 -4.2 0a2.1 2.1 0 1 0 4.2 0M197.5 383.8a2.1 2.1 0 1 0 -4.2 0a2.1 2.1 0 1 0 4.2 0M203.1 388.2a2.1 2.1 0 1 0 -4.2 0a2.1 2.1 0 1 0 4.2 0M205.6 390.0a2.1 2.1 0 1 0 -4.2 0a2.1 2.1 0 1 0 4.2 0M208.1 394.4a2.1 2.1 0 1 0 -4.2 0a2.1 2.1 0 1 0 4.2 0M191.9 388.2a2.1 2.1 0 1 0 -4.2 0a2.1 2.1 0 1 0 4.2 0M195.0 388.8a2.1 2.1 0 1 0 -4.2 0a2.1 2.1 0 1 0 4.2 0M143.5 382.6a2.1 2.1 0 1 0 -4.2 0a2.1 2.1 0 1 0 4.2 0M148.5 382.0a2.1 2.1 0 1 0 -4.2 0a2.1 2.1 0 1 0 4.2 0M153.5 382.6a2.1 2.1 0 1 0 -4.2 0a2.1 2.1 0 1 0 4.2 0M157.2 382.0a2.1 2.1 0 1 0 -4.2 0a2.1 2.1 0 1 0 4.2 0M161.5 377.6a2.1 2.1 0 1 0 -4.2 0a2.1 2.1 0 1 0 4.2 0M164.6 380.1a2.1 2.1 0 1 0 -4.2 0a2.1 2.1 0 1 0 4.2 0M165.9 376.4a2.1 2.1 0 1 0 -4.2 0a2.1 2.1 0 1 0 4.2 0M172.7 380.1a2.1 2.1 0 1 0 -4.2 0a2.1 2.1 0 1 0 4.2 0M177.0 383.2a2.1 2.1 0 1 0 -4.2 0a2.1 2.1 0 1 0 4.2 0M180.1 381.3a2.1 2.1 0 1 0 -4.2 0a2.1 2.1 0 1 0 4.2 0M185.7 383.2a2.1 2.1 0 1 0 -4.2 0a2.1 2.1 0 1 0 4.2 0M187.0 388.2a2.1 2.1 0 1 0 -4.2 0a2.1 2.1 0 1 0 4.2 0M142.3 388.8a2.1 2.1 0 1 0 -4.2 0a2.1 2.1 0 1 0 4.2 0M146.0 389.4a2.1 2.1 0 1 0 -4.2 0a2.1 2.1 0 1 0 4.2 0M151.0 387.5a2.1 2.1 0 1 0 -4.2 0a2.1 2.1 0 1 0 4.2 0M156.0 385.7a2.1 2.1 0 1 0 -4.2 0a2.1 2.1 0 1 0 4.2 0M159.7 386.9a2.1 2.1 0 1 0 -4.2 0a2.1 2.1 0 1 0 4.2 0M163.4 385.7a2.1 2.1 0 1 0 -4.2 0a2.1 2.1 0 1 0 4.2 0M170.2 388.8a2.1 2.1 0 1 0 -4.2 0a2.1 2.1 0 1 0 4.2 0M173.3 386.9a2.1 2.1 0 1 0 -4.2 0a2.1 2.1 0 1 0 4.2 0M178.3 385.7a2.1 2.1 0 1 0 -4.2 0a2.1 2.1 0 1 0 4.2 0M182.0 385.1a2.1 2.1 0 1 0 -4.2 0a2.1 2.1 0 1 0 4.2 0M185.1 388.8a2.1 2.1 0 1 0 -4.2 0a2.1 2.1 0 1 0 4.2 0M188.2 391.9a2.1 2.1 0 1 0 -4.2 0a2.1 2.1 0 1 0 4.2 0M143.5 392.5a2.1 2.1 0 1 0 -4.2 0a2.1 2.1 0 1 0 4.2 0M148.5 393.1a2.1 2.1 0 1 0 -4.2 0a2.1 2.1 0 1 0 4.2 0M152.8 391.3a2.1 2.1 0 1 0 -4.2 0a2.1 2.1 0 1 0 4.2 0M156.0 396.2a2.1 2.1 0 1 0 -4.2 0a2.1 2.1 0 1 0 4.2 0M159.7 395.0a2.1 2.1 0 1 0 -4.2 0a2.1 2.1 0 1 0 4.2 0M164.6 391.9a2.1 2.1 0 1 0 -4.2 0a2.1 2.1 0 1 0 4.2 0M167.1 395.0a2.1 2.1 0 1 0 -4.2 0a2.1 2.1 0 1 0 4.2 0M173.3 392.5a2.1 2.1 0 1 0 -4.2 0a2.1 2.1 0 1 0 4.2 0M178.3 391.3a2.1 2.1 0 1 0 -4.2 0a2.1 2.1 0 1 0 4.2 0M179.5 395.6a2.1 2.1 0 1 0 -4.2 0a2.1 2.1 0 1 0 4.2 0M183.9 395.0a2.1 2.1 0 1 0 -4.2 0a2.1 2.1 0 1 0 4.2 0M188.2 396.2a2.1 2.1 0 1 0 -4.2 0a2.1 2.1 0 1 0 4.2 0M191.9 395.6a2.1 2.1 0 1 0 -4.2 0a2.1 2.1 0 1 0 4.2 0M196.3 398.1a2.1 2.1 0 1 0 -4.2 0a2.1 2.1 0 1 0 4.2 0M199.4 396.2a2.1 2.1 0 1 0 -4.2 0a2.1 2.1 0 1 0 4.2 0M200.6 401.2a2.1 2.1 0 1 0 -4.2 0a2.1 2.1 0 1 0 4.2 0M206.2 398.7a2.1 2.1 0 1 0 -4.2 0a2.1 2.1 0 1 0 4.2 0M211.8 401.2a2.1 2.1 0 1 0 -4.2 0a2.1 2.1 0 1 0 4.2 0M219.2 401.8a2.1 2.1 0 1 0 -4.2 0a2.1 2.1 0 1 0 4.2 0M144.8 399.3a2.1 2.1 0 1 0 -4.2 0a2.1 2.1 0 1 0 4.2 0M148.5 401.8a2.1 2.1 0 1 0 -4.2 0a2.1 2.1 0 1 0 4.2 0M152.2 399.9a2.1 2.1 0 1 0 -4.2 0a2.1 2.1 0 1 0 4.2 0M157.2 398.7a2.1 2.1 0 1 0 -4.2 0a2.1 2.1 0 1 0 4.2 0M162.2 398.7a2.1 2.1 0 1 0 -4.2 0a2.1 2.1 0 1 0 4.2 0M165.9 401.2a2.1 2.1 0 1 0 -4.2 0a2.1 2.1 0 1 0 4.2 0M169.6 398.7a2.1 2.1 0 1 0 -4.2 0a2.1 2.1 0 1 0 4.2 0M173.9 400.6a2.1 2.1 0 1 0 -4.2 0a2.1 2.1 0 1 0 4.2 0M177.0 398.7a2.1 2.1 0 1 0 -4.2 0a2.1 2.1 0 1 0 4.2 0M181.4 399.9a2.1 2.1 0 1 0 -4.2 0a2.1 2.1 0 1 0 4.2 0M185.1 401.2a2.1 2.1 0 1 0 -4.2 0a2.1 2.1 0 1 0 4.2 0M189.4 401.8a2.1 2.1 0 1 0 -4.2 0a2.1 2.1 0 1 0 4.2 0M193.2 402.4a2.1 2.1 0 1 0 -4.2 0a2.1 2.1 0 1 0 4.2 0M198.1 404.3a2.1 2.1 0 1 0 -4.2 0a2.1 2.1 0 1 0 4.2 0M203.1 403.0a2.1 2.1 0 1 0 -4.2 0a2.1 2.1 0 1 0 4.2 0M207.4 403.7a2.1 2.1 0 1 0 -4.2 0a2.1 2.1 0 1 0 4.2 0M213.0 404.9a2.1 2.1 0 1 0 -4.2 0a2.1 2.1 0 1 0 4.2 0M218.0 406.8a2.1 2.1 0 1 0 -4.2 0a2.1 2.1 0 1 0 4.2 0M151.0 406.1a2.1 2.1 0 1 0 -4.2 0a2.1 2.1 0 1 0 4.2 0M156.0 405.5a2.1 2.1 0 1 0 -4.2 0a2.1 2.1 0 1 0 4.2 0M160.9 403.7a2.1 2.1 0 1 0 -4.2 0a2.1 2.1 0 1 0 4.2 0M164.6 406.8a2.1 2.1 0 1 0 -4.2 0a2.1 2.1 0 1 0 4.2 0M168.4 404.9a2.1 2.1 0 1 0 -4.2 0a2.1 2.1 0 1 0 4.2 0M172.1 407.4a2.1 2.1 0 1 0 -4.2 0a2.1 2.1 0 1 0 4.2 0M175.8 405.5a2.1 2.1 0 1 0 -4.2 0a2.1 2.1 0 1 0 4.2 0M179.5 406.1a2.1 2.1 0 1 0 -4.2 0a2.1 2.1 0 1 0 4.2 0M183.2 407.4a2.1 2.1 0 1 0 -4.2 0a2.1 2.1 0 1 0 4.2 0M188.2 406.8a2.1 2.1 0 1 0 -4.2 0a2.1 2.1 0 1 0 4.2 0M190.7 407.4a2.1 2.1 0 1 0 -4.2 0a2.1 2.1 0 1 0 4.2 0M194.4 408.6a2.1 2.1 0 1 0 -4.2 0a2.1 2.1 0 1 0 4.2 0M200.6 407.4a2.1 2.1 0 1 0 -4.2 0a2.1 2.1 0 1 0 4.2 0M203.7 408.0a2.1 2.1 0 1 0 -4.2 0a2.1 2.1 0 1 0 4.2 0M209.3 408.6a2.1 2.1 0 1 0 -4.2 0a2.1 2.1 0 1 0 4.2 0M215.5 408.6a2.1 2.1 0 1 0 -4.2 0a2.1 2.1 0 1 0 4.2 0M219.2 409.9a2.1 2.1 0 1 0 -4.2 0a2.1 2.1 0 1 0 4.2 0M148.5 412.3a2.1 2.1 0 1 0 -4.2 0a2.1 2.1 0 1 0 4.2 0M152.8 412.3a2.1 2.1 0 1 0 -4.2 0a2.1 2.1 0 1 0 4.2 0M159.1 409.9a2.1 2.1 0 1 0 -4.2 0a2.1 2.1 0 1 0 4.2 0M160.3 413.6a2.1 2.1 0 1 0 -4.2 0a2.1 2.1 0 1 0 4.2 0M165.9 411.1a2.1 2.1 0 1 0 -4.2 0a2.1 2.1 0 1 0 4.2 0M169.6 413.6a2.1 2.1 0 1 0 -4.2 0a2.1 2.1 0 1 0 4.2 0M173.3 411.7a2.1 2.1 0 1 0 -4.2 0a2.1 2.1 0 1 0 4.2 0M177.7 411.1a2.1 2.1 0 1 0 -4.2 0a2.1 2.1 0 1 0 4.2 0M180.8 413.6a2.1 2.1 0 1 0 -4.2 0a2.1 2.1 0 1 0 4.2 0M184.5 409.9a2.1 2.1 0 1 0 -4.2 0a2.1 2.1 0 1 0 4.2 0M188.2 412.3a2.1 2.1 0 1 0 -4.2 0a2.1 2.1 0 1 0 4.2 0M191.9 411.7a2.1 2.1 0 1 0 -4.2 0a2.1 2.1 0 1 0 4.2 0M195.7 411.1a2.1 2.1 0 1 0 -4.2 0a2.1 2.1 0 1 0 4.2 0M198.1 413.6a2.1 2.1 0 1 0 -4.2 0a2.1 2.1 0 1 0 4.2 0M203.1 411.7a2.1 2.1 0 1 0 -4.2 0a2.1 2.1 0 1 0 4.2 0M209.3 413.6a2.1 2.1 0 1 0 -4.2 0a2.1 2.1 0 1 0 4.2 0M215.5 413.0a2.1 2.1 0 1 0 -4.2 0a2.1 2.1 0 1 0 4.2 0M218.6 411.1a2.1 2.1 0 1 0 -4.2 0a2.1 2.1 0 1 0 4.2 0M159.7 417.3a2.1 2.1 0 1 0 -4.2 0a2.1 2.1 0 1 0 4.2 0M166.5 416.7a2.1 2.1 0 1 0 -4.2 0a2.1 2.1 0 1 0 4.2 0M170.8 416.7a2.1 2.1 0 1 0 -4.2 0a2.1 2.1 0 1 0 4.2 0M174.6 417.3a2.1 2.1 0 1 0 -4.2 0a2.1 2.1 0 1 0 4.2 0M179.5 416.7a2.1 2.1 0 1 0 -4.2 0a2.1 2.1 0 1 0 4.2 0M187.0 416.7a2.1 2.1 0 1 0 -4.2 0a2.1 2.1 0 1 0 4.2 0M190.7 417.3a2.1 2.1 0 1 0 -4.2 0a2.1 2.1 0 1 0 4.2 0M195.7 417.3a2.1 2.1 0 1 0 -4.2 0a2.1 2.1 0 1 0 4.2 0M200.6 416.7a2.1 2.1 0 1 0 -4.2 0a2.1 2.1 0 1 0 4.2 0M205.6 416.7a2.1 2.1 0 1 0 -4.2 0a2.1 2.1 0 1 0 4.2 0M215.5 417.3a2.1 2.1 0 1 0 -4.2 0a2.1 2.1 0 1 0 4.2 0M223.6 409.5a2.1 2.1 0 1 0 -4.2 0a2.1 2.1 0 1 0 4.2 0M225.6 412.6a2.1 2.1 0 1 0 -4.2 0a2.1 2.1 0 1 0 4.2 0M227.0 409.0a2.1 2.1 0 1 0 -4.2 0a2.1 2.1 0 1 0 4.2 0M159.4 417.7a2.1 2.1 0 1 0 -4.2 0a2.1 2.1 0 1 0 4.2 0M166.5 417.1a2.1 2.1 0 1 0 -4.2 0a2.1 2.1 0 1 0 4.2 0M170.8 419.6a2.1 2.1 0 1 0 -4.2 0a2.1 2.1 0 1 0 4.2 0M177.0 419.0a2.1 2.1 0 1 0 -4.2 0a2.1 2.1 0 1 0 4.2 0M179.5 422.7a2.1 2.1 0 1 0 -4.2 0a2.1 2.1 0 1 0 4.2 0M177.0 426.4a2.1 2.1 0 1 0 -4.2 0a2.1 2.1 0 1 0 4.2 0M170.2 427.6a2.1 2.1 0 1 0 -4.2 0a2.1 2.1 0 1 0 4.2 0M171.5 430.1a2.1 2.1 0 1 0 -4.2 0a2.1 2.1 0 1 0 4.2 0M179.5 436.3a2.1 2.1 0 1 0 -4.2 0a2.1 2.1 0 1 0 4.2 0M173.3 417.7a2.1 2.1 0 1 0 -4.2 0a2.1 2.1 0 1 0 4.2 0M183.9 419.6a2.1 2.1 0 1 0 -4.2 0a2.1 2.1 0 1 0 4.2 0M187.0 421.4a2.1 2.1 0 1 0 -4.2 0a2.1 2.1 0 1 0 4.2 0M189.4 423.9a2.1 2.1 0 1 0 -4.2 0a2.1 2.1 0 1 0 4.2 0M187.0 427.0a2.1 2.1 0 1 0 -4.2 0a2.1 2.1 0 1 0 4.2 0M190.7 426.4a2.1 2.1 0 1 0 -4.2 0a2.1 2.1 0 1 0 4.2 0M193.8 425.2a2.1 2.1 0 1 0 -4.2 0a2.1 2.1 0 1 0 4.2 0M196.9 421.4a2.1 2.1 0 1 0 -4.2 0a2.1 2.1 0 1 0 4.2 0M200.6 423.3a2.1 2.1 0 1 0 -4.2 0a2.1 2.1 0 1 0 4.2 0M203.7 420.2a2.1 2.1 0 1 0 -4.2 0a2.1 2.1 0 1 0 4.2 0M205.6 423.9a2.1 2.1 0 1 0 -4.2 0a2.1 2.1 0 1 0 4.2 0M209.9 421.4a2.1 2.1 0 1 0 -4.2 0a2.1 2.1 0 1 0 4.2 0M215.5 426.4a2.1 2.1 0 1 0 -4.2 0a2.1 2.1 0 1 0 4.2 0M218.6 425.2a2.1 2.1 0 1 0 -4.2 0a2.1 2.1 0 1 0 4.2 0M218.0 419.0a2.1 2.1 0 1 0 -4.2 0a2.1 2.1 0 1 0 4.2 0M220.5 427.6a2.1 2.1 0 1 0 -4.2 0a2.1 2.1 0 1 0 4.2 0M186.3 432.0a2.1 2.1 0 1 0 -4.2 0a2.1 2.1 0 1 0 4.2 0M190.7 432.0a2.1 2.1 0 1 0 -4.2 0a2.1 2.1 0 1 0 4.2 0M193.8 431.4a2.1 2.1 0 1 0 -4.2 0a2.1 2.1 0 1 0 4.2 0M197.5 428.9a2.1 2.1 0 1 0 -4.2 0a2.1 2.1 0 1 0 4.2 0M197.5 432.6a2.1 2.1 0 1 0 -4.2 0a2.1 2.1 0 1 0 4.2 0M201.9 432.6a2.1 2.1 0 1 0 -4.2 0a2.1 2.1 0 1 0 4.2 0M205.0 428.9a2.1 2.1 0 1 0 -4.2 0a2.1 2.1 0 1 0 4.2 0M208.1 430.1a2.1 2.1 0 1 0 -4.2 0a2.1 2.1 0 1 0 4.2 0M211.8 428.9a2.1 2.1 0 1 0 -4.2 0a2.1 2.1 0 1 0 4.2 0M213.6 433.9a2.1 2.1 0 1 0 -4.2 0a2.1 2.1 0 1 0 4.2 0M218.0 432.6a2.1 2.1 0 1 0 -4.2 0a2.1 2.1 0 1 0 4.2 0M220.5 435.1a2.1 2.1 0 1 0 -4.2 0a2.1 2.1 0 1 0 4.2 0M193.8 438.2a2.1 2.1 0 1 0 -4.2 0a2.1 2.1 0 1 0 4.2 0M196.9 439.4a2.1 2.1 0 1 0 -4.2 0a2.1 2.1 0 1 0 4.2 0M197.5 441.9a2.1 2.1 0 1 0 -4.2 0a2.1 2.1 0 1 0 4.2 0M201.9 437.0a2.1 2.1 0 1 0 -4.2 0a2.1 2.1 0 1 0 4.2 0M208.1 436.3a2.1 2.1 0 1 0 -4.2 0a2.1 2.1 0 1 0 4.2 0M211.8 437.6a2.1 2.1 0 1 0 -4.2 0a2.1 2.1 0 1 0 4.2 0M215.5 438.8a2.1 2.1 0 1 0 -4.2 0a2.1 2.1 0 1 0 4.2 0M218.6 440.1a2.1 2.1 0 1 0 -4.2 0a2.1 2.1 0 1 0 4.2 0M220.5 442.5a2.1 2.1 0 1 0 -4.2 0a2.1 2.1 0 1 0 4.2 0M203.7 446.9a2.1 2.1 0 1 0 -4.2 0a2.1 2.1 0 1 0 4.2 0M205.6 445.0a2.1 2.1 0 1 0 -4.2 0a2.1 2.1 0 1 0 4.2 0M208.7 449.4a2.1 2.1 0 1 0 -4.2 0a2.1 2.1 0 1 0 4.2 0M212.4 445.0a2.1 2.1 0 1 0 -4.2 0a2.1 2.1 0 1 0 4.2 0M214.3 446.9a2.1 2.1 0 1 0 -4.2 0a2.1 2.1 0 1 0 4.2 0M219.2 446.3a2.1 2.1 0 1 0 -4.2 0a2.1 2.1 0 1 0 4.2 0M215.5 458.4a2.1 2.1 0 1 0 -4.2 0a2.1 2.1 0 1 0 4.2 0M222.9 420.1a2.1 2.1 0 1 0 -4.2 0a2.1 2.1 0 1 0 4.2 0M227.6 422.1a2.1 2.1 0 1 0 -4.2 0a2.1 2.1 0 1 0 4.2 0M224.2 424.9a2.1 2.1 0 1 0 -4.2 0a2.1 2.1 0 1 0 4.2 0M221.5 427.6a2.1 2.1 0 1 0 -4.2 0a2.1 2.1 0 1 0 4.2 0M251.7 425.1a2.1 2.1 0 1 0 -4.2 0a2.1 2.1 0 1 0 4.2 0M222.9 431.6a2.1 2.1 0 1 0 -4.2 0a2.1 2.1 0 1 0 4.2 0M231.0 430.3a2.1 2.1 0 1 0 -4.2 0a2.1 2.1 0 1 0 4.2 0M233.7 432.3a2.1 2.1 0 1 0 -4.2 0a2.1 2.1 0 1 0 4.2 0M238.5 433.7a2.1 2.1 0 1 0 -4.2 0a2.1 2.1 0 1 0 4.2 0M232.4 436.4a2.1 2.1 0 1 0 -4.2 0a2.1 2.1 0 1 0 4.2 0M236.5 436.4a2.1 2.1 0 1 0 -4.2 0a2.1 2.1 0 1 0 4.2 0M234.4 439.8a2.1 2.1 0 1 0 -4.2 0a2.1 2.1 0 1 0 4.2 0M243.9 440.5a2.1 2.1 0 1 0 -4.2 0a2.1 2.1 0 1 0 4.2 0M239.2 442.5a2.1 2.1 0 1 0 -4.2 0a2.1 2.1 0 1 0 4.2 0M237.1 444.5a2.1 2.1 0 1 0 -4.2 0a2.1 2.1 0 1 0 4.2 0M224.2 437.8a2.1 2.1 0 1 0 -4.2 0a2.1 2.1 0 1 0 4.2 0M226.3 441.2a2.1 2.1 0 1 0 -4.2 0a2.1 2.1 0 1 0 4.2 0M228.3 444.5a2.1 2.1 0 1 0 -4.2 0a2.1 2.1 0 1 0 4.2 0M222.9 445.9a2.1 2.1 0 1 0 -4.2 0a2.1 2.1 0 1 0 4.2 0M223.6 449.3a2.1 2.1 0 1 0 -4.2 0a2.1 2.1 0 1 0 4.2 0M229.0 445.2a2.1 2.1 0 1 0 -4.2 0a2.1 2.1 0 1 0 4.2 0M239.2 449.3a2.1 2.1 0 1 0 -4.2 0a2.1 2.1 0 1 0 4.2 0M241.2 453.4a2.1 2.1 0 1 0 -4.2 0a2.1 2.1 0 1 0 4.2 0M245.3 454.7a2.1 2.1 0 1 0 -4.2 0a2.1 2.1 0 1 0 4.2 0M248.7 452.7a2.1 2.1 0 1 0 -4.2 0a2.1 2.1 0 1 0 4.2 0M251.4 456.1a2.1 2.1 0 1 0 -4.2 0a2.1 2.1 0 1 0 4.2 0M251.7 438.4a2.1 2.1 0 1 0 -4.2 0a2.1 2.1 0 1 0 4.2 0M251.7 447.3a2.1 2.1 0 1 0 -4.2 0a2.1 2.1 0 1 0 4.2 0M260.9 446.6a2.1 2.1 0 1 0 -4.2 0a2.1 2.1 0 1 0 4.2 0M264.3 443.9a2.1 2.1 0 1 0 -4.2 0a2.1 2.1 0 1 0 4.2 0M271.8 439.1a2.1 2.1 0 1 0 -4.2 0a2.1 2.1 0 1 0 4.2 0M279.6 445.9a2.1 2.1 0 1 0 -4.2 0a2.1 2.1 0 1 0 4.2 0M288.7 456.8a2.1 2.1 0 1 0 -4.2 0a2.1 2.1 0 1 0 4.2 0M229.7 452.7a2.1 2.1 0 1 0 -4.2 0a2.1 2.1 0 1 0 4.2 0M228.3 453.4a2.1 2.1 0 1 0 -4.2 0a2.1 2.1 0 1 0 4.2 0M225.6 458.1a2.1 2.1 0 1 0 -4.2 0a2.1 2.1 0 1 0 4.2 0M235.8 456.1a2.1 2.1 0 1 0 -4.2 0a2.1 2.1 0 1 0 4.2 0M237.1 458.1a2.1 2.1 0 1 0 -4.2 0a2.1 2.1 0 1 0 4.2 0M239.9 461.5a2.1 2.1 0 1 0 -4.2 0a2.1 2.1 0 1 0 4.2 0M263.6 461.5a2.1 2.1 0 1 0 -4.2 0a2.1 2.1 0 1 0 4.2 0M267.7 460.4a2.1 2.1 0 1 0 -4.2 0a2.1 2.1 0 1 0 4.2 0M224.9 468.3a2.1 2.1 0 1 0 -4.2 0a2.1 2.1 0 1 0 4.2 0M233.7 466.3a2.1 2.1 0 1 0 -4.2 0a2.1 2.1 0 1 0 4.2 0M239.2 469.0a2.1 2.1 0 1 0 -4.2 0a2.1 2.1 0 1 0 4.2 0M239.9 470.3a2.1 2.1 0 1 0 -4.2 0a2.1 2.1 0 1 0 4.2 0M244.6 468.3a2.1 2.1 0 1 0 -4.2 0a2.1 2.1 0 1 0 4.2 0M249.4 471.0a2.1 2.1 0 1 0 -4.2 0a2.1 2.1 0 1 0 4.2 0M252.8 466.9a2.1 2.1 0 1 0 -4.2 0a2.1 2.1 0 1 0 4.2 0M254.1 469.0a2.1 2.1 0 1 0 -4.2 0a2.1 2.1 0 1 0 4.2 0M260.9 467.6a2.1 2.1 0 1 0 -4.2 0a2.1 2.1 0 1 0 4.2 0M262.9 466.9a2.1 2.1 0 1 0 -4.2 0a2.1 2.1 0 1 0 4.2 0M260.9 470.3a2.1 2.1 0 1 0 -4.2 0a2.1 2.1 0 1 0 4.2 0M268.4 473.7a2.1 2.1 0 1 0 -4.2 0a2.1 2.1 0 1 0 4.2 0M285.3 473.7a2.1 2.1 0 1 0 -4.2 0a2.1 2.1 0 1 0 4.2 0M270.4 483.9a2.1 2.1 0 1 0 -4.2 0a2.1 2.1 0 1 0 4.2 0M251.7 488.7a2.1 2.1 0 1 0 -4.2 0a2.1 2.1 0 1 0 4.2 0M294.8 501.3a2.1 2.1 0 1 0 -4.2 0a2.1 2.1 0 1 0 4.2 0M300.5 504.6a2.1 2.1 0 1 0 -4.2 0a2.1 2.1 0 1 0 4.2 0M295.5 509.5a2.1 2.1 0 1 0 -4.2 0a2.1 2.1 0 1 0 4.2 0M190.4 401.4a2.1 2.1 0 1 0 -4.2 0a2.1 2.1 0 1 0 4.2 0M185.5 402.5a2.1 2.1 0 1 0 -4.2 0a2.1 2.1 0 1 0 4.2 0M191.2 403.4a2.1 2.1 0 1 0 -4.2 0a2.1 2.1 0 1 0 4.2 0M176.9 400.5a2.1 2.1 0 1 0 -4.2 0a2.1 2.1 0 1 0 4.2 0M183.5 400.7a2.1 2.1 0 1 0 -4.2 0a2.1 2.1 0 1 0 4.2 0M184.0 409.6a2.1 2.1 0 1 0 -4.2 0a2.1 2.1 0 1 0 4.2 0M179.9 400.1a2.1 2.1 0 1 0 -4.2 0a2.1 2.1 0 1 0 4.2 0M193.0 404.1a2.1 2.1 0 1 0 -4.2 0a2.1 2.1 0 1 0 4.2 0M173.1 397.7a2.1 2.1 0 1 0 -4.2 0a2.1 2.1 0 1 0 4.2 0M173.5 405.8a2.1 2.1 0 1 0 -4.2 0a2.1 2.1 0 1 0 4.2 0M188.5 402.9a2.1 2.1 0 1 0 -4.2 0a2.1 2.1 0 1 0 4.2 0M172.5 402.3a2.1 2.1 0 1 0 -4.2 0a2.1 2.1 0 1 0 4.2 0M193.0 404.4a2.1 2.1 0 1 0 -4.2 0a2.1 2.1 0 1 0 4.2 0M192.5 409.1a2.1 2.1 0 1 0 -4.2 0a2.1 2.1 0 1 0 4.2 0M183.4 424.9a2.1 2.1 0 1 0 -4.2 0a2.1 2.1 0 1 0 4.2 0M200.1 422.9a2.1 2.1 0 1 0 -4.2 0a2.1 2.1 0 1 0 4.2 0M189.8 424.1a2.1 2.1 0 1 0 -4.2 0a2.1 2.1 0 1 0 4.2 0M185.9 421.8a2.1 2.1 0 1 0 -4.2 0a2.1 2.1 0 1 0 4.2 0M194.4 427.5a2.1 2.1 0 1 0 -4.2 0a2.1 2.1 0 1 0 4.2 0M205.0 419.9a2.1 2.1 0 1 0 -4.2 0a2.1 2.1 0 1 0 4.2 0M195.6 419.0a2.1 2.1 0 1 0 -4.2 0a2.1 2.1 0 1 0 4.2 0M205.9 426.6a2.1 2.1 0 1 0 -4.2 0a2.1 2.1 0 1 0 4.2 0M190.6 424.0a2.1 2.1 0 1 0 -4.2 0a2.1 2.1 0 1 0 4.2 0M198.3 418.7a2.1 2.1 0 1 0 -4.2 0a2.1 2.1 0 1 0 4.2 0M202.2 422.9a2.1 2.1 0 1 0 -4.2 0a2.1 2.1 0 1 0 4.2 0M202.6 422.8a2.1 2.1 0 1 0 -4.2 0a2.1 2.1 0 1 0 4.2 0M202.1 402.2a2.1 2.1 0 1 0 -4.2 0a2.1 2.1 0 1 0 4.2 0M202.3 408.3a2.1 2.1 0 1 0 -4.2 0a2.1 2.1 0 1 0 4.2 0M209.1 407.3a2.1 2.1 0 1 0 -4.2 0a2.1 2.1 0 1 0 4.2 0M204.6 399.6a2.1 2.1 0 1 0 -4.2 0a2.1 2.1 0 1 0 4.2 0M209.1 408.5a2.1 2.1 0 1 0 -4.2 0a2.1 2.1 0 1 0 4.2 0M149.7 391.7a2.1 2.1 0 1 0 -4.2 0a2.1 2.1 0 1 0 4.2 0M149.4 397.7a2.1 2.1 0 1 0 -4.2 0a2.1 2.1 0 1 0 4.2 0M162.7 383.8a2.1 2.1 0 1 0 -4.2 0a2.1 2.1 0 1 0 4.2 0M157.1 393.1a2.1 2.1 0 1 0 -4.2 0a2.1 2.1 0 1 0 4.2 0M153.1 400.2a2.1 2.1 0 1 0 -4.2 0a2.1 2.1 0 1 0 4.2 0M156.1 385.7a2.1 2.1 0 1 0 -4.2 0a2.1 2.1 0 1 0 4.2 0M158.3 397.1a2.1 2.1 0 1 0 -4.2 0a2.1 2.1 0 1 0 4.2 0M151.9 387.9a2.1 2.1 0 1 0 -4.2 0a2.1 2.1 0 1 0 4.2 0M167.0 395.3a2.1 2.1 0 1 0 -4.2 0a2.1 2.1 0 1 0 4.2 0M156.4 392.4a2.1 2.1 0 1 0 -4.2 0a2.1 2.1 0 1 0 4.2 0M214.0 433.1a2.1 2.1 0 1 0 -4.2 0a2.1 2.1 0 1 0 4.2 0M217.5 438.2a2.1 2.1 0 1 0 -4.2 0a2.1 2.1 0 1 0 4.2 0M215.8 433.1a2.1 2.1 0 1 0 -4.2 0a2.1 2.1 0 1 0 4.2 0M213.2 438.8a2.1 2.1 0 1 0 -4.2 0a2.1 2.1 0 1 0 4.2 0M215.8 442.7a2.1 2.1 0 1 0 -4.2 0a2.1 2.1 0 1 0 4.2 0M225.9 431.0a2.1 2.1 0 1 0 -4.2 0a2.1 2.1 0 1 0 4.2 0M215.9 439.4a2.1 2.1 0 1 0 -4.2 0a2.1 2.1 0 1 0 4.2 0M215.5 431.9a2.1 2.1 0 1 0 -4.2 0a2.1 2.1 0 1 0 4.2 0M192.7 405.6a2.1 2.1 0 1 0 -4.2 0a2.1 2.1 0 1 0 4.2 0M182.5 408.8a2.1 2.1 0 1 0 -4.2 0a2.1 2.1 0 1 0 4.2 0M189.9 399.9a2.1 2.1 0 1 0 -4.2 0a2.1 2.1 0 1 0 4.2 0M174.2 403.5a2.1 2.1 0 1 0 -4.2 0a2.1 2.1 0 1 0 4.2 0M181.4 404.0a2.1 2.1 0 1 0 -4.2 0a2.1 2.1 0 1 0 4.2 0M188.1 407.1a2.1 2.1 0 1 0 -4.2 0a2.1 2.1 0 1 0 4.2 0M193.8 398.5a2.1 2.1 0 1 0 -4.2 0a2.1 2.1 0 1 0 4.2 0M181.0 402.1a2.1 2.1 0 1 0 -4.2 0a2.1 2.1 0 1 0 4.2 0M191.1 400.7a2.1 2.1 0 1 0 -4.2 0a2.1 2.1 0 1 0 4.2 0M176.3 403.7a2.1 2.1 0 1 0 -4.2 0a2.1 2.1 0 1 0 4.2 0M193.8 421.3a2.1 2.1 0 1 0 -4.2 0a2.1 2.1 0 1 0 4.2 0M189.8 429.1a2.1 2.1 0 1 0 -4.2 0a2.1 2.1 0 1 0 4.2 0M194.3 428.3a2.1 2.1 0 1 0 -4.2 0a2.1 2.1 0 1 0 4.2 0M196.8 418.6a2.1 2.1 0 1 0 -4.2 0a2.1 2.1 0 1 0 4.2 0M207.1 428.0a2.1 2.1 0 1 0 -4.2 0a2.1 2.1 0 1 0 4.2 0M206.4 429.1a2.1 2.1 0 1 0 -4.2 0a2.1 2.1 0 1 0 4.2 0M203.6 420.0a2.1 2.1 0 1 0 -4.2 0a2.1 2.1 0 1 0 4.2 0M195.3 420.6a2.1 2.1 0 1 0 -4.2 0a2.1 2.1 0 1 0 4.2 0M193.3 418.7a2.1 2.1 0 1 0 -4.2 0a2.1 2.1 0 1 0 4.2 0M192.8 429.8a2.1 2.1 0 1 0 -4.2 0a2.1 2.1 0 1 0 4.2 0M210.5 436.8a2.1 2.1 0 1 0 -4.2 0a2.1 2.1 0 1 0 4.2 0M213.0 431.3a2.1 2.1 0 1 0 -4.2 0a2.1 2.1 0 1 0 4.2 0M219.5 439.9a2.1 2.1 0 1 0 -4.2 0a2.1 2.1 0 1 0 4.2 0M214.3 435.8a2.1 2.1 0 1 0 -4.2 0a2.1 2.1 0 1 0 4.2 0M209.1 429.5a2.1 2.1 0 1 0 -4.2 0a2.1 2.1 0 1 0 4.2 0" class="pt"/>
<rect x="418.5" y="303.3" width="252.8" height="213.1" class="ax"/>
<line x1="427.5" y1="516.4" x2="427.5" y2="523.4" class="tk"/>
<text x="427.5" y="540.8" text-anchor="middle">0</text>
<line x1="487.7" y1="516.4" x2="487.7" y2="523.4" class="tk"/>
<text x="487.7" y="540.8" text-anchor="middle">5000</text>
<line x1="547.9" y1="516.4" x2="547.9" y2="523.4" class="tk"/>
<text x="547.9" y="540.8" text-anchor="middle">10000</text>
<line x1="608.1" y1="516.4" x2="608.1" y2="523.4" class="tk"/>
<text x="608.1" y="540.8" text-anchor="middle">15000</text>
<line x1="668.3" y1="516.4" x2="668.3" y2="523.4" class="tk"/>
<text x="668.3" y="540.8" text-anchor="middle">20000</text>
<text x="548.8" y="563.0" text-anchor="middle">gene set (FPKM)</text>
<line x1="411.2" y1="330.7" x2="418.5" y2="330.7" class="tk"/>
<text transform="translate(402.3,330.7) rotate(-90)" text-anchor="middle">0.4</text>
<line x1="411.2" y1="370.2" x2="418.5" y2="370.2" class="tk"/>
<text transform="translate(402.3,370.2) rotate(-90)" text-anchor="middle">0.2</text>
<line x1="411.2" y1="409.6" x2="418.5" y2="409.6" class="tk"/>
<text transform="translate(402.3,409.6) rotate(-90)" text-anchor="middle">0.0</text>
<line x1="411.2" y1="449.1" x2="418.5" y2="449.1" class="tk"/>
<text transform="translate(402.3,449.1) rotate(-90)" text-anchor="middle">−0.2</text>
<line x1="411.2" y1="488.5" x2="418.5" y2="488.5" class="tk"/>
<text transform="translate(402.3,488.5) rotate(-90)" text-anchor="middle">−0.4</text>
<text transform="translate(378.0,409.9) rotate(-90)" text-anchor="middle">ES</text>
<line x1="429.3" y1="411.8" x2="429.3" y2="419.7" stroke="#000" stroke-opacity="0.25" stroke-width="0.8"/>
<line x1="430.7" y1="411.8" x2="430.7" y2="419.7" stroke="#000" stroke-opacity="0.67" stroke-width="0.8"/>
<line x1="432.0" y1="411.8" x2="432.0" y2="419.7" stroke="#000" stroke-opacity="0.64" stroke-width="0.8"/>
<line x1="433.0" y1="411.8" x2="433.0" y2="419.7" stroke="#000" stroke-opacity="0.68" stroke-width="0.8"/>
<line x1="434.0" y1="411.8" x2="434.0" y2="419.7" stroke="#000" stroke-opacity="0.66" stroke-width="0.8"/>
<line x1="435.3" y1="411.8" x2="435.3" y2="419.7" stroke="#000" stroke-opacity="0.75" stroke-width="0.8"/>
<line x1="436.2" y1="411.8" x2="436.2" y2="419.7" stroke="#000" stroke-opacity="0.59" stroke-width="0.8"/>
<line x1="437.6" y1="411.8" x2="437.6" y2="419.7" stroke="#000" stroke-opacity="0.76" stroke-width="0.8"/>
<line x1="439.1" y1="411.8" x2="439.1" y2="419.7" stroke="#000" stroke-opacity="0.50" stroke-width="0.8"/>
<line x1="440.5" y1="411.8" x2="440.5" y2="419.7" stroke="#000" stroke-opacity="0.81" stroke-width="0.8"/>
<line x1="441.7" y1="411.8" x2="441.7" y2="419.7" stroke="#000" stroke-opacity="0.69" stroke-width="0.8"/>
<line x1="442.5" y1="411.8" x2="442.5" y2="419.7" stroke="#000" stroke-opacity="0.25" stroke-width="0.8"/>
<line x1="443.4" y1="411.8" x2="443.4" y2="419.7" stroke="#000" stroke-opacity="0.49" stroke-width="0.8"/>
<line x1="444.6" y1="411.8" x2="444.6" y2="419.7" stroke="#000" stroke-opacity="0.50" stroke-width="0.8"/>
<line x1="445.5" y1="411.8" x2="445.5" y2="419.7" stroke="#000" stroke-opacity="0.56" stroke-width="0.8"/>
<line x1="446.5" y1="411.8" x2="446.5" y2="419.7" stroke="#000" stroke-opacity="0.64" stroke-width="0.8"/>
<line x1="447.8" y1="411.8" x2="447.8" y2="419.7" stroke="#000" stroke-opacity="0.77" stroke-width="0.8"/>
<line x1="449.2" y1="411.8" x2="449.2" y2="419.7" stroke="#000" stroke-opacity="0.70" stroke-width="0.8"/>
<line x1="450.4" y1="411.8" x2="450.4" y2="419.7" stroke="#000" stroke-opacity="0.71" stroke-width="0.8"/>
<line x1="451.5" y1="411.8" x2="451.5" y2="419.7" stroke="#000" stroke-opacity="0.58" stroke-width="0.8"/>
<line x1="452.9" y1="411.8" x2="452.9" y2="419.7" stroke="#000" stroke-opacity="0.82" stroke-width="0.8"/>
<line x1="454.0" y1="411.8" x2="454.0" y2="419.7" stroke="#000" stroke-opacity="0.72" stroke-width="0.8"/>
<line x1="455.3" y1="411.8" x2="455.3" y2="419.7" stroke="#000" stroke-opacity="0.43" stroke-width="0.8"/>
<line x1="456.3" y1="411.8" x2="456.3" y2="419.7" stroke="#000" stroke-opacity="0.39" stroke-width="0.8"/>
<line x1="457.4" y1="411.8" x2="457.4" y2="419.7" stroke="#000" stroke-opacity="0.47" stroke-width="0.8"/>
<line x1="458.3" y1="411.8" x2="458.3" y2="419.7" stroke="#000" stroke-opacity="0.61" stroke-width="0.8"/>
<line x1="459.5" y1="411.8" x2="459.5" y2="419.7" stroke="#000" stroke-opacity="0.77" stroke-width="0.8"/>
<line x1="460.3" y1="411.8" x2="460.3" y2="419.7" stroke="#000" stroke-opacity="0.55" stroke-width="0.8"/>
<line x1="461.8" y1="411.8" x2="461.8" y2="419.7" stroke="#000" stroke-opacity="0.64" stroke-width="0.8"/>
<line x1="463.0" y1="411.8" x2="463.0" y2="419.7" stroke="#000" stroke-opacity="0.62" stroke-width="0.8"/>
<line x1="463.7" y1="411.8" x2="463.7" y2="419.7" stroke="#000" stroke-opacity="0.70" stroke-width="0.8"/>
<line x1="465.0" y1="411.8" x2="465.0" y2="419.7" stroke="#000" stroke-opacity="0.25" stroke-width="0.8"/>
<line x1="466.8" y1="411.8" x2="466.8" y2="419.7" stroke="#000" stroke-opacity="0.57" stroke-width="0.8"/>
<line x1="467.8" y1="411.8" x2="467.8" y2="419.7" stroke="#000" stroke-opacity="0.60" stroke-width="0.8"/>
<line x1="469.4" y1="411.8" x2="469.4" y2="419.7" stroke="#000" stroke-opacity="0.74" stroke-width="0.8"/>
<line x1="470.3" y1="411.8" x2="470.3" y2="419.7" stroke="#000" stroke-opacity="0.57" stroke-width="0.8"/>
<line x1="472.2" y1="411.8" x2="472.2" y2="419.7" stroke="#000" stroke-opacity="0.68" stroke-width="0.8"/>
<line x1="473.5" y1="411.8" x2="473.5" y2="419.7" stroke="#000" stroke-opacity="0.74" stroke-width="0.8"/>
<line x1="474.3" y1="411.8" x2="474.3" y2="419.7" stroke="#000" stroke-opacity="0.87" stroke-width="0.8"/>
<line x1="475.2" y1="411.8" x2="475.2" y2="419.7" stroke="#000" stroke-opacity="0.56" stroke-width="0.8"/>
<line x1="476.4" y1="411.8" x2="476.4" y2="419.7" stroke="#000" stroke-opacity="0.54" stroke-width="0.8"/>
<line x1="477.7" y1="411.8" x2="477.7" y2="419.7" stroke="#000" stroke-opacity="0.48" stroke-width="0.8"/>
<line x1="479.0" y1="411.8" x2="479.0" y2="419.7" stroke="#000" stroke-opacity="0.44" stroke-width="0.8"/>
<line x1="480.2" y1="411.8" x2="480.2" y2="419.7" stroke="#000" stroke-opacity="0.58" stroke-width="0.8"/>
<line x1="481.2" y1="411.8" x2="481.2" y2="419.7" stroke="#000" stroke-opacity="0.60" stroke-width="0.8"/>
<line x1="482.4" y1="411.8" x2="482.4" y2="419.7" stroke="#000" stroke-opacity="0.47" stroke-width="0.8"/>
<line x1="483.9" y1="411.8" x2="483.9" y2="419.7" stroke="#000" stroke-opacity="0.54" stroke-width="0.8"/>
<line x1="485.5" y1="411.8" x2="485.5" y2="419.7" stroke="#000" stroke-opacity="0.63" stroke-width="0.8"/>
<line x1="486.6" y1="411.8" x2="486.6" y2="419.7" stroke="#000" stroke-opacity="0.44" stroke-width="0.8"/>
<line x1="487.9" y1="411.8" x2="487.9" y2="419.7" stroke="#000" stroke-opacity="0.45" stroke-width="0.8"/>
<line x1="488.7" y1="411.8" x2="488.7" y2="419.7" stroke="#000" stroke-opacity="0.39" stroke-width="0.8"/>
<line x1="489.7" y1="411.8" x2="489.7" y2="419.7" stroke="#000" stroke-opacity="0.52" stroke-width="0.8"/>
<line x1="490.8" y1="411.8" x2="490.8" y2="419.7" stroke="#000" stroke-opacity="0.53" stroke-width="0.8"/>
<line x1="491.9" y1="411.8" x2="491.9" y2="419.7" stroke="#000" stroke-opacity="0.49" stroke-width="0.8"/>
<line x1="493.1" y1="411.8" x2="493.1" y2="419.7" stroke="#000" stroke-opacity="0.49" stroke-width="0.8"/>
<line x1="494.0" y1="411.8" x2="494.0" y2="419.7" stroke="#000" stroke-opacity="0.59" stroke-width="0.8"/>
<line x1="494.9" y1="411.8" x2="494.9" y2="419.7" stroke="#000" stroke-opacity="0.73" stroke-width="0.8"/>
<line x1="496.1" y1="411.8" x2="496.1" y2="419.7" stroke="#000" stroke-opacity="0.95" stroke-width="0.8"/>
<line x1="496.8" y1="411.8" x2="496.8" y2="419.7" stroke="#000" stroke-opacity="0.75" stroke-width="0.8"/>
<line x1="498.0" y1="411.8" x2="498.0" y2="419.7" stroke="#000" stroke-opacity="0.25" stroke-width="0.8"/>
<line x1="500.3" y1="411.8" x2="500.3" y2="419.7" stroke="#000" stroke-opacity="0.61" stroke-width="0.8"/>
<line x1="501.3" y1="411.8" x2="501.3" y2="419.7" stroke="#000" stroke-opacity="0.62" stroke-width="0.8"/>
<line x1="502.7" y1="411.8" x2="502.7" y2="419.7" stroke="#000" stroke-opacity="0.53" stroke-width="0.8"/>
<line x1="503.7" y1="411.8" x2="503.7" y2="419.7" stroke="#000" stroke-opacity="0.39" stroke-width="0.8"/>
<line x1="504.7" y1="411.8" x2="504.7" y2="419.7" stroke="#000" stroke-opacity="0.62" stroke-width="0.8"/>
<line x1="505.8" y1="411.8" x2="505.8" y2="419.7" stroke="#000" stroke-opacity="0.55" stroke-width="0.8"/>
<line x1="506.9" y1="411.8" x2="506.9" y2="419.7" stroke="#000" stroke-opacity="0.58" stroke-width="0.8"/>
<line x1="508.2" y1="411.8" x2="508.2" y2="419.7" stroke="#000" stroke-opacity="0.44" stroke-width="0.8"/>
<line x1="509.2" y1="411.8" x2="509.2" y2="419.7" stroke="#000" stroke-opacity="0.56" stroke-width="0.8"/>
<line x1="510.3" y1="411.8" x2="510.3" y2="419.7" stroke="#000" stroke-opacity="0.43" stroke-width="0.8"/>
<line x1="511.6" y1="411.8" x2="511.6" y2="419.7" stroke="#000" stroke-opacity="0.59" stroke-width="0.8"/>
<line x1="513.0" y1="411.8" x2="513.0" y2="419.7" stroke="#000" stroke-opacity="0.58" stroke-width="0.8"/>
<line x1="514.4" y1="411.8" x2="514.4" y2="419.7" stroke="#000" stroke-opacity="0.55" stroke-width="0.8"/>
<line x1="515.2" y1="411.8" x2="515.2" y2="419.7" stroke="#000" stroke-opacity="0.57" stroke-width="0.8"/>
<line x1="517.7" y1="411.8" x2="517.7" y2="419.7" stroke="#000" stroke-opacity="0.50" stroke-width="0.8"/>
<line x1="518.5" y1="411.8" x2="518.5" y2="419.7" stroke="#000" stroke-opacity="0.61" stroke-width="0.8"/>
<line x1="519.6" y1="411.8" x2="519.6" y2="419.7" stroke="#000" stroke-opacity="0.53" stroke-width="0.8"/>
<line x1="520.9" y1="411.8" x2="520.9" y2="419.7" stroke="#000" stroke-opacity="0.43" stroke-width="0.8"/>
<line x1="522.3" y1="411.8" x2="522.3" y2="419.7" stroke="#000" stroke-opacity="0.39" stroke-width="0.8"/>
<line x1="523.4" y1="411.8" x2="523.4" y2="419.7" stroke="#000" stroke-opacity="0.37" stroke-width="0.8"/>
<line x1="524.3" y1="411.8" x2="524.3" y2="419.7" stroke="#000" stroke-opacity="0.27" stroke-width="0.8"/>
<line x1="525.4" y1="411.8" x2="525.4" y2="419.7" stroke="#000" stroke-opacity="0.43" stroke-width="0.8"/>
<line x1="526.8" y1="411.8" x2="526.8" y2="419.7" stroke="#000" stroke-opacity="0.44" stroke-width="0.8"/>
<line x1="529.8" y1="411.8" x2="529.8" y2="419.7" stroke="#000" stroke-opacity="0.25" stroke-width="0.8"/>
<line x1="531.5" y1="411.8" x2="531.5" y2="419.7" stroke="#000" stroke-opacity="0.27" stroke-width="0.8"/>
<line x1="533.3" y1="411.8" x2="533.3" y2="419.7" stroke="#000" stroke-opacity="0.45" stroke-width="0.8"/>
<line x1="534.2" y1="411.8" x2="534.2" y2="419.7" stroke="#000" stroke-opacity="0.36" stroke-width="0.8"/>
<line x1="535.4" y1="411.8" x2="535.4" y2="419.7" stroke="#000" stroke-opacity="0.43" stroke-width="0.8"/>
<line x1="540.1" y1="411.8" x2="540.1" y2="419.7" stroke="#000" stroke-opacity="0.55" stroke-width="0.8"/>
<line x1="541.1" y1="411.8" x2="541.1" y2="419.7" stroke="#000" stroke-opacity="0.61" stroke-width="0.8"/>
<line x1="541.8" y1="411.8" x2="541.8" y2="419.7" stroke="#000" stroke-opacity="0.55" stroke-width="0.8"/>
<line x1="545.9" y1="411.8" x2="545.9" y2="419.7" stroke="#000" stroke-opacity="0.43" stroke-width="0.8"/>
<line x1="546.9" y1="411.8" x2="546.9" y2="419.7" stroke="#000" stroke-opacity="0.41" stroke-width="0.8"/>
<line x1="548.3" y1="411.8" x2="548.3" y2="419.7" stroke="#000" stroke-opacity="0.37" stroke-width="0.8"/>
<line x1="549.4" y1="411.8" x2="549.4" y2="419.7" stroke="#000" stroke-opacity="0.33" stroke-width="0.8"/>
<line x1="554.0" y1="411.8" x2="554.0" y2="419.7" stroke="#000" stroke-opacity="0.94" stroke-width="0.8"/>
<line x1="561.8" y1="411.8" x2="561.8" y2="419.7" stroke="#000" stroke-opacity="0.25" stroke-width="0.8"/>
<line x1="562.8" y1="411.8" x2="562.8" y2="419.7" stroke="#000" stroke-opacity="0.25" stroke-width="0.8"/>
<line x1="565.2" y1="411.8" x2="565.2" y2="419.7" stroke="#000" stroke-opacity="0.28" stroke-width="0.8"/>
<line x1="566.3" y1="411.8" x2="566.3" y2="419.7" stroke="#000" stroke-opacity="0.22" stroke-width="0.8"/>
<line x1="572.1" y1="411.8" x2="572.1" y2="419.7" stroke="#000" stroke-opacity="0.25" stroke-width="0.8"/>
<line x1="573.0" y1="411.8" x2="573.0" y2="419.7" stroke="#000" stroke-opacity="0.28" stroke-width="0.8"/>
<line x1="575.3" y1="411.8" x2="575.3" y2="419.7" stroke="#000" stroke-opacity="0.27" stroke-width="0.8"/>
<line x1="576.2" y1="411.8" x2="576.2" y2="419.7" stroke="#000" stroke-opacity="0.25" stroke-width="0.8"/>
<line x1="585.2" y1="411.8" x2="585.2" y2="419.7" stroke="#000" stroke-opacity="0.53" stroke-width="0.8"/>
<line x1="591.0" y1="411.8" x2="591.0" y2="419.7" stroke="#000" stroke-opacity="0.20" stroke-width="0.8"/>
<line x1="592.1" y1="411.8" x2="592.1" y2="419.7" stroke="#000" stroke-opacity="0.24" stroke-width="0.8"/>
<line x1="594.0" y1="411.8" x2="594.0" y2="419.7" stroke="#000" stroke-opacity="0.29" stroke-width="0.8"/>
<line x1="594.6" y1="411.8" x2="594.6" y2="419.7" stroke="#000" stroke-opacity="0.18" stroke-width="0.8"/>
<line x1="604.6" y1="411.8" x2="604.6" y2="419.7" stroke="#000" stroke-opacity="0.38" stroke-width="0.8"/>
<path d="M427.1 409.7 L428.5 410.2 L429.9 411.3 L431.3 412.0 L432.6 410.6 L433.8 409.6 L435.1 408.2 L436.4 406.4 L437.6 404.0 L438.9 402.5 L440.3 400.1 L441.8 399.0 L443.2 396.6 L444.6 394.9 L446.2 391.8 L447.7 389.7 L449.3 386.3 L450.5 383.9 L451.7 381.9 L452.9 379.2 L454.1 376.9 L455.3 375.7 L456.6 374.0 L457.8 373.0 L459.2 370.1 L460.6 367.2 L462.1 363.8 L463.5 360.7 L464.7 360.2 L465.9 359.5 L467.1 358.2 L468.3 357.9 L469.7 355.3 L471.1 352.2 L472.5 351.3 L474.0 350.1 L475.4 348.9 L476.8 348.4 L478.1 347.5 L479.3 345.8 L480.6 344.8 L481.9 343.7 L483.1 342.3 L484.4 340.8 L485.8 340.3 L487.2 338.8 L488.7 338.3 L490.1 337.0 L491.5 335.5 L493.0 334.6 L494.4 333.1 L495.8 331.3 L497.7 329.4 L499.3 329.3 L500.8 329.7 L502.4 330.4 L503.6 329.5 L504.8 329.7 L506.0 328.6 L507.2 328.1 L508.5 327.1 L509.7 325.6 L511.0 324.7 L512.3 323.6 L513.5 322.4 L514.8 321.2 L516.1 320.3 L517.3 319.2 L518.6 318.0 L520.0 318.0 L521.4 317.1 L522.8 317.0 L524.2 317.0 L525.7 316.7 L527.1 316.1 L528.7 317.4 L530.3 317.9 L531.9 318.6 L533.3 318.6 L534.7 319.6 L536.1 320.0 L537.5 319.9 L538.8 320.9 L540.0 321.2 L541.3 321.8 L542.6 322.5 L544.0 322.5 L545.3 323.6 L546.6 323.7 L548.0 322.8 L549.5 321.8 L550.8 322.9 L552.0 323.9 L553.3 325.6 L555.2 324.7 L556.6 326.5 L558.0 328.0 L559.5 328.6 L560.9 330.4 L562.3 331.4 L563.8 331.7 L565.2 332.2 L566.6 333.2 L568.0 334.2 L569.5 335.9 L570.9 337.2 L572.3 338.0 L573.9 338.5 L575.4 340.0 L577.0 340.8 L578.3 341.4 L579.5 343.1 L580.8 343.8 L582.1 345.4 L583.3 346.5 L584.6 347.1 L586.0 347.8 L587.4 348.4 L588.7 349.8 L589.9 350.1 L591.2 350.8 L592.5 352.3 L593.7 352.7 L595.0 354.1 L596.3 354.7 L597.5 355.9 L598.8 357.0 L600.1 357.5 L601.3 358.4 L602.6 360.1 L603.9 360.5 L605.1 362.1 L606.4 362.6 L607.8 364.2 L609.1 364.9 L610.5 366.2 L611.8 367.5 L613.2 368.9 L614.5 370.1 L615.9 371.2 L617.2 372.3 L618.4 373.5 L619.7 374.9 L621.0 375.5 L622.2 376.5 L623.5 377.9 L624.8 378.5 L626.0 379.6 L627.3 381.3 L628.6 382.0 L629.8 383.1 L631.1 383.6 L632.4 385.1 L633.6 386.3 L634.9 387.3 L636.1 387.8 L637.4 389.5 L638.6 390.5 L639.9 390.9 L641.1 392.5 L642.4 393.4 L643.6 394.6 L644.9 395.3 L646.1 396.7 L647.4 397.7 L648.6 398.0 L649.9 399.1 L651.1 400.7 L652.4 402.0 L653.6 402.3 L654.9 403.5 L656.1 404.7 L657.4 405.4 L658.6 406.5 L659.9 407.5 L661.1 408.6 L662.4 409.7" class="es"/>
<rect x="631.4" y="303.3" width="39.9" height="17.9" class="ax"/>
<line x1="635.9" y1="309.3" x2="645.6" y2="309.3" stroke="#222" stroke-width="1.2"/>
<line x1="635.9" y1="315.3" x2="645.6" y2="315.3" stroke="#bbb" stroke-width="1"/>
<text x="650.3" y="311.5" style="font-size:9.2px">ES</text>
<text x="650.3" y="318.4" style="font-size:9.2px">hits</text>
<rect x="55.5" y="596.5" width="253.1" height="212.5" class="ax"/>
<line x1="64.5" y1="809.0" x2="64.5" y2="816.0" class="tk"/>
<text x="64.5" y="833.4" text-anchor="middle">0</text>
<line x1="129.4" y1="809.0" x2="129.4" y2="816.0" class="tk"/>
<text x="129.4" y="833.4" text-anchor="middle">1000</text>
<line x1="194.3" y1="809.0" x2="194.3" y2="816.0" class="tk"/>
<text x="194.3" y="833.4" text-anchor="middle">2000</text>
<line x1="259.2" y1="809.0" x2="259.2" y2="816.0" class="tk"/>
<text x="259.2" y="833.4" text-anchor="middle">3000</text>
<text x="184.6" y="854.8" text-anchor="middle">gene set (SNP)</text>
<line x1="48.2" y1="623.9" x2="55.5" y2="623.9" class="tk"/>
<text transform="translate(39.3,623.9) rotate(-90)" text-anchor="middle">0.4</text>
<line x1="48.2" y1="663.3" x2="55.5" y2="663.3" class="tk"/>
<text transform="translate(39.3,663.3) rotate(-90)" text-anchor="middle">0.2</text>
<line x1="48.2" y1="702.7" x2="55.5" y2="702.7" class="tk"/>
<text transform="translate(39.3,702.7) rotate(-90)" text-anchor="middle">0.0</text>
<line x1="48.2" y1="742.1" x2="55.5" y2="742.1" class="tk"/>
<text transform="translate(39.3,742.1) rotate(-90)" text-anchor="middle">−0.2</text>
<line x1="48.2" y1="781.5" x2="55.5" y2="781.5" class="tk"/>
<text transform="translate(39.3,781.5) rotate(-90)" text-anchor="middle">−0.4</text>
<text transform="translate(15.0,702.8) rotate(-90)" text-anchor="middle">ES</text>
<line x1="64.7" y1="704.9" x2="64.7" y2="712.6" stroke="#000" stroke-opacity="0.43" stroke-width="0.8"/>
<line x1="66.0" y1="704.9" x2="66.0" y2="712.6" stroke="#000" stroke-opacity="0.32" stroke-width="0.8"/>
<line x1="66.9" y1="704.9" x2="66.9" y2="712.6" stroke="#000" stroke-opacity="0.37" stroke-width="0.8"/>
<line x1="68.0" y1="704.9" x2="68.0" y2="712.6" stroke="#000" stroke-opacity="0.46" stroke-width="0.8"/>
<line x1="69.6" y1="704.9" x2="69.6" y2="712.6" stroke="#000" stroke-opacity="0.42" stroke-width="0.8"/>
<line x1="70.4" y1="704.9" x2="70.4" y2="712.6" stroke="#000" stroke-opacity="0.43" stroke-width="0.8"/>
<line x1="71.8" y1="704.9" x2="71.8" y2="712.6" stroke="#000" stroke-opacity="0.39" stroke-width="0.8"/>
<line x1="73.3" y1="704.9" x2="73.3" y2="712.6" stroke="#000" stroke-opacity="0.55" stroke-width="0.8"/>
<line x1="75.6" y1="704.9" x2="75.6" y2="712.6" stroke="#000" stroke-opacity="0.48" stroke-width="0.8"/>
<line x1="76.5" y1="704.9" x2="76.5" y2="712.6" stroke="#000" stroke-opacity="0.47" stroke-width="0.8"/>
<line x1="77.4" y1="704.9" x2="77.4" y2="712.6" stroke="#000" stroke-opacity="0.44" stroke-width="0.8"/>
<line x1="78.4" y1="704.9" x2="78.4" y2="712.6" stroke="#000" stroke-opacity="0.38" stroke-width="0.8"/>
<line x1="80.4" y1="704.9" x2="80.4" y2="712.6" stroke="#000" stroke-opacity="0.20" stroke-width="0.8"/>
<line x1="83.3" y1="704.9" x2="83.3" y2="712.6" stroke="#000" stroke-opacity="0.21" stroke-width="0.8"/>
<line x1="84.0" y1="704.9" x2="84.0" y2="712.6" stroke="#000" stroke-opacity="0.35" stroke-width="0.8"/>
<line x1="85.1" y1="704.9" x2="85.1" y2="712.6" stroke="#000" stroke-opacity="0.22" stroke-width="0.8"/>
<line x1="86.8" y1="704.9" x2="86.8" y2="712.6" stroke="#000" stroke-opacity="0.49" stroke-width="0.8"/>
<line x1="87.4" y1="704.9" x2="87.4" y2="712.6" stroke="#000" stroke-opacity="0.38" stroke-width="0.8"/>
<line x1="88.4" y1="704.9" x2="88.4" y2="712.6" stroke="#000" stroke-opacity="0.36" stroke-width="0.8"/>
<line x1="89.0" y1="704.9" x2="89.0" y2="712.6" stroke="#000" stroke-opacity="0.33" stroke-width="0.8"/>
<line x1="90.2" y1="704.9" x2="90.2" y2="712.6" stroke="#000" stroke-opacity="0.30" stroke-width="0.8"/>
<line x1="91.1" y1="704.9" x2="91.1" y2="712.6" stroke="#000" stroke-opacity="0.47" stroke-width="0.8"/>
<line x1="92.3" y1="704.9" x2="92.3" y2="712.6" stroke="#000" stroke-opacity="0.38" stroke-width="0.8"/>
<line x1="93.7" y1="704.9" x2="93.7" y2="712.6" stroke="#000" stroke-opacity="0.20" stroke-width="0.8"/>
<line x1="95.6" y1="704.9" x2="95.6" y2="712.6" stroke="#000" stroke-opacity="0.42" stroke-width="0.8"/>
<line x1="98.0" y1="704.9" x2="98.0" y2="712.6" stroke="#000" stroke-opacity="0.70" stroke-width="0.8"/>
<line x1="98.9" y1="704.9" x2="98.9" y2="712.6" stroke="#000" stroke-opacity="0.54" stroke-width="0.8"/>
<line x1="99.9" y1="704.9" x2="99.9" y2="712.6" stroke="#000" stroke-opacity="0.65" stroke-width="0.8"/>
<line x1="101.2" y1="704.9" x2="101.2" y2="712.6" stroke="#000" stroke-opacity="0.57" stroke-width="0.8"/>
<line x1="102.1" y1="704.9" x2="102.1" y2="712.6" stroke="#000" stroke-opacity="0.48" stroke-width="0.8"/>
<line x1="103.5" y1="704.9" x2="103.5" y2="712.6" stroke="#000" stroke-opacity="0.57" stroke-width="0.8"/>
<line x1="104.4" y1="704.9" x2="104.4" y2="712.6" stroke="#000" stroke-opacity="0.45" stroke-width="0.8"/>
<line x1="106.5" y1="704.9" x2="106.5" y2="712.6" stroke="#000" stroke-opacity="0.42" stroke-width="0.8"/>
<line x1="109.2" y1="704.9" x2="109.2" y2="712.6" stroke="#000" stroke-opacity="0.40" stroke-width="0.8"/>
<line x1="110.7" y1="704.9" x2="110.7" y2="712.6" stroke="#000" stroke-opacity="0.40" stroke-width="0.8"/>
<line x1="111.6" y1="704.9" x2="111.6" y2="712.6" stroke="#000" stroke-opacity="0.47" stroke-width="0.8"/>
<line x1="113.1" y1="704.9" x2="113.1" y2="712.6" stroke="#000" stroke-opacity="0.40" stroke-width="0.8"/>
<line x1="117.0" y1="704.9" x2="117.0" y2="712.6" stroke="#000" stroke-opacity="0.20" stroke-width="0.8"/>
<line x1="118.8" y1="704.9" x2="118.8" y2="712.6" stroke="#000" stroke-opacity="0.30" stroke-width="0.8"/>
<line x1="121.7" y1="704.9" x2="121.7" y2="712.6" stroke="#000" stroke-opacity="0.20" stroke-width="0.8"/>
<line x1="123.1" y1="704.9" x2="123.1" y2="712.6" stroke="#000" stroke-opacity="0.20" stroke-width="0.8"/>
<line x1="125.1" y1="704.9" x2="125.1" y2="712.6" stroke="#000" stroke-opacity="0.27" stroke-width="0.8"/>
<line x1="126.6" y1="704.9" x2="126.6" y2="712.6" stroke="#000" stroke-opacity="0.33" stroke-width="0.8"/>
<line x1="131.2" y1="704.9" x2="131.2" y2="712.6" stroke="#000" stroke-opacity="0.75" stroke-width="0.8"/>
<line x1="137.8" y1="704.9" x2="137.8" y2="712.6" stroke="#000" stroke-opacity="0.54" stroke-width="0.8"/>
<line x1="139.4" y1="704.9" x2="139.4" y2="712.6" stroke="#000" stroke-opacity="0.58" stroke-width="0.8"/>
<line x1="141.3" y1="704.9" x2="141.3" y2="712.6" stroke="#000" stroke-opacity="0.20" stroke-width="0.8"/>
<line x1="143.0" y1="704.9" x2="143.0" y2="712.6" stroke="#000" stroke-opacity="0.35" stroke-width="0.8"/>
<line x1="144.3" y1="704.9" x2="144.3" y2="712.6" stroke="#000" stroke-opacity="0.43" stroke-width="0.8"/>
<line x1="145.4" y1="704.9" x2="145.4" y2="712.6" stroke="#000" stroke-opacity="0.39" stroke-width="0.8"/>
<line x1="146.7" y1="704.9" x2="146.7" y2="712.6" stroke="#000" stroke-opacity="0.35" stroke-width="0.8"/>
<line x1="148.0" y1="704.9" x2="148.0" y2="712.6" stroke="#000" stroke-opacity="0.50" stroke-width="0.8"/>
<line x1="151.8" y1="704.9" x2="151.8" y2="712.6" stroke="#000" stroke-opacity="0.49" stroke-width="0.8"/>
<line x1="153.1" y1="704.9" x2="153.1" y2="712.6" stroke="#000" stroke-opacity="0.49" stroke-width="0.8"/>
<line x1="154.1" y1="704.9" x2="154.1" y2="712.6" stroke="#000" stroke-opacity="0.16" stroke-width="0.8"/>
<line x1="155.2" y1="704.9" x2="155.2" y2="712.6" stroke="#000" stroke-opacity="0.23" stroke-width="0.8"/>
<line x1="156.3" y1="704.9" x2="156.3" y2="712.6" stroke="#000" stroke-opacity="0.35" stroke-width="0.8"/>
<line x1="157.6" y1="704.9" x2="157.6" y2="712.6" stroke="#000" stroke-opacity="0.37" stroke-width="0.8"/>
<line x1="162.2" y1="704.9" x2="162.2" y2="712.6" stroke="#000" stroke-opacity="0.75" stroke-width="0.8"/>
<line x1="165.4" y1="704.9" x2="165.4" y2="712.6" stroke="#000" stroke-opacity="0.21" stroke-width="0.8"/>
<line x1="166.3" y1="704.9" x2="166.3" y2="712.6" stroke="#000" stroke-opacity="0.30" stroke-width="0.8"/>
<line x1="167.6" y1="704.9" x2="167.6" y2="712.6" stroke="#000" stroke-opacity="0.36" stroke-width="0.8"/>
<line x1="168.4" y1="704.9" x2="168.4" y2="712.6" stroke="#000" stroke-opacity="0.21" stroke-width="0.8"/>
<line x1="169.2" y1="704.9" x2="169.2" y2="712.6" stroke="#000" stroke-opacity="0.46" stroke-width="0.8"/>
<line x1="170.5" y1="704.9" x2="170.5" y2="712.6" stroke="#000" stroke-opacity="0.43" stroke-width="0.8"/>
<line x1="171.3" y1="704.9" x2="171.3" y2="712.6" stroke="#000" stroke-opacity="0.40" stroke-width="0.8"/>
<line x1="172.5" y1="704.9" x2="172.5" y2="712.6" stroke="#000" stroke-opacity="0.43" stroke-width="0.8"/>
<line x1="173.5" y1="704.9" x2="173.5" y2="712.6" stroke="#000" stroke-opacity="0.49" stroke-width="0.8"/>
<line x1="174.8" y1="704.9" x2="174.8" y2="712.6" stroke="#000" stroke-opacity="0.33" stroke-width="0.8"/>
<line x1="175.7" y1="704.9" x2="175.7" y2="712.6" stroke="#000" stroke-opacity="0.48" stroke-width="0.8"/>
<line x1="176.7" y1="704.9" x2="176.7" y2="712.6" stroke="#000" stroke-opacity="0.49" stroke-width="0.8"/>
<line x1="177.9" y1="704.9" x2="177.9" y2="712.6" stroke="#000" stroke-opacity="0.44" stroke-width="0.8"/>
<line x1="180.7" y1="704.9" x2="180.7" y2="712.6" stroke="#000" stroke-opacity="0.42" stroke-width="0.8"/>
<line x1="183.1" y1="704.9" x2="183.1" y2="712.6" stroke="#000" stroke-opacity="0.20" stroke-width="0.8"/>
<line x1="186.3" y1="704.9" x2="186.3" y2="712.6" stroke="#000" stroke-opacity="0.34" stroke-width="0.8"/>
<line x1="187.5" y1="704.9" x2="187.5" y2="712.6" stroke="#000" stroke-opacity="0.35" stroke-width="0.8"/>
<line x1="190.0" y1="704.9" x2="190.0" y2="712.6" stroke="#000" stroke-opacity="0.42" stroke-width="0.8"/>
<line x1="191.4" y1="704.9" x2="191.4" y2="712.6" stroke="#000" stroke-opacity="0.20" stroke-width="0.8"/>
<line x1="193.3" y1="704.9" x2="193.3" y2="712.6" stroke="#000" stroke-opacity="0.42" stroke-width="0.8"/>
<line x1="196.2" y1="704.9" x2="196.2" y2="712.6" stroke="#000" stroke-opacity="0.31" stroke-width="0.8"/>
<line x1="197.2" y1="704.9" x2="197.2" y2="712.6" stroke="#000" stroke-opacity="0.34" stroke-width="0.8"/>
<line x1="198.5" y1="704.9" x2="198.5" y2="712.6" stroke="#000" stroke-opacity="0.25" stroke-width="0.8"/>
<line x1="204.2" y1="704.9" x2="204.2" y2="712.6" stroke="#000" stroke-opacity="0.50" stroke-width="0.8"/>
<line x1="205.4" y1="704.9" x2="205.4" y2="712.6" stroke="#000" stroke-opacity="0.43" stroke-width="0.8"/>
<line x1="206.7" y1="704.9" x2="206.7" y2="712.6" stroke="#000" stroke-opacity="0.50" stroke-width="0.8"/>
<line x1="207.9" y1="704.9" x2="207.9" y2="712.6" stroke="#000" stroke-opacity="0.38" stroke-width="0.8"/>
<line x1="209.0" y1="704.9" x2="209.0" y2="712.6" stroke="#000" stroke-opacity="0.48" stroke-width="0.8"/>
<line x1="210.2" y1="704.9" x2="210.2" y2="712.6" stroke="#000" stroke-opacity="0.42" stroke-width="0.8"/>
<line x1="211.2" y1="704.9" x2="211.2" y2="712.6" stroke="#000" stroke-opacity="0.37" stroke-width="0.8"/>
<line x1="214.3" y1="704.9" x2="214.3" y2="712.6" stroke="#000" stroke-opacity="0.41" stroke-width="0.8"/>
<line x1="215.0" y1="704.9" x2="215.0" y2="712.6" stroke="#000" stroke-opacity="0.44" stroke-width="0.8"/>
<line x1="216.3" y1="704.9" x2="216.3" y2="712.6" stroke="#000" stroke-opacity="0.46" stroke-width="0.8"/>
<line x1="218.6" y1="704.9" x2="218.6" y2="712.6" stroke="#000" stroke-opacity="0.23" stroke-width="0.8"/>
<line x1="219.6" y1="704.9" x2="219.6" y2="712.6" stroke="#000" stroke-opacity="0.22" stroke-width="0.8"/>
<line x1="220.8" y1="704.9" x2="220.8" y2="712.6" stroke="#000" stroke-opacity="0.15" stroke-width="0.8"/>
<line x1="227.3" y1="704.9" x2="227.3" y2="712.6" stroke="#000" stroke-opacity="0.26" stroke-width="0.8"/>
<line x1="228.5" y1="704.9" x2="228.5" y2="712.6" stroke="#000" stroke-opacity="0.31" stroke-width="0.8"/>
<line x1="229.3" y1="704.9" x2="229.3" y2="712.6" stroke="#000" stroke-opacity="0.30" stroke-width="0.8"/>
<line x1="231.2" y1="704.9" x2="231.2" y2="712.6" stroke="#000" stroke-opacity="0.42" stroke-width="0.8"/>
<line x1="233.9" y1="704.9" x2="233.9" y2="712.6" stroke="#000" stroke-opacity="0.53" stroke-width="0.8"/>
<line x1="235.3" y1="704.9" x2="235.3" y2="712.6" stroke="#000" stroke-opacity="0.49" stroke-width="0.8"/>
<line x1="236.2" y1="704.9" x2="236.2" y2="712.6" stroke="#000" stroke-opacity="0.50" stroke-width="0.8"/>
<line x1="237.3" y1="704.9" x2="237.3" y2="712.6" stroke="#000" stroke-opacity="0.57" stroke-width="0.8"/>
<line x1="238.4" y1="704.9" x2="238.4" y2="712.6" stroke="#000" stroke-opacity="0.41" stroke-width="0.8"/>
<line x1="239.5" y1="704.9" x2="239.5" y2="712.6" stroke="#000" stroke-opacity="0.58" stroke-width="0.8"/>
<line x1="240.8" y1="704.9" x2="240.8" y2="712.6" stroke="#000" stroke-opacity="0.57" stroke-width="0.8"/>
<line x1="242.8" y1="704.9" x2="242.8" y2="712.6" stroke="#000" stroke-opacity="0.37" stroke-width="0.8"/>
<line x1="243.7" y1="704.9" x2="243.7" y2="712.6" stroke="#000" stroke-opacity="0.40" stroke-width="0.8"/>
<line x1="245.2" y1="704.9" x2="245.2" y2="712.6" stroke="#000" stroke-opacity="0.33" stroke-width="0.8"/>
<line x1="246.7" y1="704.9" x2="246.7" y2="712.6" stroke="#000" stroke-opacity="0.26" stroke-width="0.8"/>
<line x1="247.5" y1="704.9" x2="247.5" y2="712.6" stroke="#000" stroke-opacity="0.26" stroke-width="0.8"/>
<line x1="248.7" y1="704.9" x2="248.7" y2="712.6" stroke="#000" stroke-opacity="0.21" stroke-width="0.8"/>
<line x1="249.4" y1="704.9" x2="249.4" y2="712.6" stroke="#000" stroke-opacity="0.25" stroke-width="0.8"/>
<line x1="258.4" y1="704.9" x2="258.4" y2="712.6" stroke="#000" stroke-opacity="0.27" stroke-width="0.8"/>
<line x1="259.8" y1="704.9" x2="259.8" y2="712.6" stroke="#000" stroke-opacity="0.35" stroke-width="0.8"/>
<line x1="262.8" y1="704.9" x2="262.8" y2="712.6" stroke="#000" stroke-opacity="0.20" stroke-width="0.8"/>
<line x1="264.7" y1="704.9" x2="264.7" y2="712.6" stroke="#000" stroke-opacity="0.20" stroke-width="0.8"/>
<line x1="268.5" y1="704.9" x2="268.5" y2="712.6" stroke="#000" stroke-opacity="0.20" stroke-width="0.8"/>
<line x1="274.2" y1="704.9" x2="274.2" y2="712.6" stroke="#000" stroke-opacity="0.44" stroke-width="0.8"/>
<line x1="275.0" y1="704.9" x2="275.0" y2="712.6" stroke="#000" stroke-opacity="0.39" stroke-width="0.8"/>
<line x1="276.1" y1="704.9" x2="276.1" y2="712.6" stroke="#000" stroke-opacity="0.47" stroke-width="0.8"/>
<line x1="277.4" y1="704.9" x2="277.4" y2="712.6" stroke="#000" stroke-opacity="0.39" stroke-width="0.8"/>
<line x1="278.8" y1="704.9" x2="278.8" y2="712.6" stroke="#000" stroke-opacity="0.47" stroke-width="0.8"/>
<line x1="279.7" y1="704.9" x2="279.7" y2="712.6" stroke="#000" stroke-opacity="0.41" stroke-width="0.8"/>
<line x1="281.8" y1="704.9" x2="281.8" y2="712.6" stroke="#000" stroke-opacity="0.38" stroke-width="0.8"/>
<line x1="282.7" y1="704.9" x2="282.7" y2="712.6" stroke="#000" stroke-opacity="0.43" stroke-width="0.8"/>
<line x1="283.8" y1="704.9" x2="283.8" y2="712.6" stroke="#000" stroke-opacity="0.41" stroke-width="0.8"/>
<line x1="285.6" y1="704.9" x2="285.6" y2="712.6" stroke="#000" stroke-opacity="0.48" stroke-width="0.8"/>
<line x1="286.5" y1="704.9" x2="286.5" y2="712.6" stroke="#000" stroke-opacity="0.47" stroke-width="0.8"/>
<line x1="287.4" y1="704.9" x2="287.4" y2="712.6" stroke="#000" stroke-opacity="0.48" stroke-width="0.8"/>
<line x1="289.3" y1="704.9" x2="289.3" y2="712.6" stroke="#000" stroke-opacity="0.42" stroke-width="0.8"/>
<line x1="292.2" y1="704.9" x2="292.2" y2="712.6" stroke="#000" stroke-opacity="0.30" stroke-width="0.8"/>
<line x1="295.5" y1="704.9" x2="295.5" y2="712.6" stroke="#000" stroke-opacity="0.42" stroke-width="0.8"/>
<line x1="298.3" y1="704.9" x2="298.3" y2="712.6" stroke="#000" stroke-opacity="0.55" stroke-width="0.8"/>
<path d="M64.5 702.6 L65.9 701.0 L67.3 700.0 L68.8 697.4 L70.2 695.6 L71.6 694.8 L73.0 694.3 L74.9 695.0 L76.2 693.9 L77.4 693.1 L78.7 692.8 L80.0 693.2 L81.2 694.2 L82.5 694.3 L84.0 695.3 L85.4 695.6 L86.8 694.3 L88.2 692.4 L89.7 690.4 L91.1 689.0 L92.5 688.5 L93.9 688.0 L95.3 688.3 L96.7 689.0 L98.2 686.3 L99.6 684.2 L100.9 682.5 L102.1 681.4 L103.4 680.4 L104.7 681.2 L105.9 681.4 L107.2 681.4 L108.6 681.2 L110.1 680.8 L111.5 679.7 L112.9 679.5 L114.5 680.4 L116.0 681.9 L117.6 682.9 L119.0 683.6 L120.4 684.2 L121.9 684.7 L123.3 684.8 L124.6 684.7 L125.8 685.4 L127.1 685.6 L128.4 686.6 L129.6 687.2 L130.9 688.0 L132.8 683.3 L134.4 684.5 L135.9 686.4 L137.5 688.0 L138.9 685.7 L140.4 684.2 L141.8 684.9 L143.2 684.8 L144.5 684.0 L145.7 682.6 L147.0 681.4 L148.2 681.9 L149.4 683.2 L150.6 683.6 L151.8 684.2 L153.1 683.9 L154.3 683.3 L155.6 682.3 L157.0 682.6 L158.4 682.9 L160.0 683.6 L161.6 684.5 L163.2 685.2 L164.6 685.6 L166.1 685.8 L167.5 686.4 L168.9 687.1 L170.3 686.9 L171.7 686.1 L173.3 684.1 L174.8 682.5 L176.4 681.4 L177.7 682.3 L178.9 682.7 L180.2 683.7 L181.6 684.2 L182.9 684.6 L184.3 685.0 L185.7 685.6 L187.0 685.6 L188.2 684.4 L189.5 684.2 L190.8 684.3 L192.0 684.3 L193.3 684.8 L194.9 685.4 L196.4 685.4 L198.0 686.1 L199.4 687.1 L200.8 688.5 L202.3 689.2 L203.7 690.5 L205.1 688.7 L206.6 686.7 L208.2 686.1 L209.7 684.3 L211.3 683.7 L212.6 683.6 L213.8 684.2 L215.1 684.8 L216.7 685.2 L218.2 685.2 L219.8 685.2 L221.1 685.8 L222.3 686.8 L223.6 687.5 L224.9 688.7 L226.1 689.2 L227.4 690.5 L229.0 690.7 L230.6 690.9 L232.2 690.5 L233.8 691.2 L235.3 691.3 L236.9 691.3 L238.4 690.1 L239.8 688.0 L241.1 687.5 L242.3 687.8 L243.6 688.0 L245.0 686.9 L246.4 684.8 L247.9 684.8 L249.3 684.2 L250.6 685.1 L251.8 686.6 L253.1 687.1 L254.7 688.6 L256.2 690.2 L257.8 691.3 L259.2 691.4 L260.6 691.5 L262.1 692.1 L263.5 692.4 L264.9 692.8 L266.4 693.9 L267.8 695.3 L269.2 695.6 L270.8 696.5 L272.3 697.2 L273.9 698.8 L275.1 698.5 L276.3 698.8 L277.5 699.5 L278.7 699.4 L280.3 699.6 L281.8 699.9 L283.4 700.4 L284.6 699.7 L285.8 700.4 L287.0 699.6 L288.2 699.4 L289.6 699.8 L291.0 700.4 L292.5 701.1 L293.9 702.3 L295.5 702.5 L297.0 703.5 L298.6 703.8" class="es"/>
<rect x="270.4" y="596.5" width="38.2" height="28.8" class="ax"/>
<line x1="275" y1="605.8" x2="284.5" y2="605.8" stroke="#555" stroke-width="1.7"/>
<line x1="275" y1="615.0" x2="284.5" y2="615.0" stroke="#bbb" stroke-width="1"/>
<text x="289.0" y="608.7" style="font-size:9.4px">ES</text>
<text x="289.0" y="619.6" style="font-size:9.4px">hits</text>
<rect x="418.7" y="596.5" width="253.0" height="212.7" class="ax"/>
<line x1="428.0" y1="809.2" x2="428.0" y2="816.2" class="tk"/>
<text x="428.0" y="833.6" text-anchor="middle">0</text>
<line x1="489.1" y1="809.2" x2="489.1" y2="816.2" class="tk"/>
<text x="489.1" y="833.6" text-anchor="middle">5000</text>
<line x1="550.2" y1="809.2" x2="550.2" y2="816.2" class="tk"/>
<text x="550.2" y="833.6" text-anchor="middle">10000</text>
<line x1="611.3" y1="809.2" x2="611.3" y2="816.2" class="tk"/>
<text x="611.3" y="833.6" text-anchor="middle">15000</text>
<text x="544.1" y="854.2" text-anchor="middle">gene set (miRNA)</text>
<line x1="411.4" y1="604.3" x2="418.7" y2="604.3" class="tk"/>
<text transform="translate(402.5,604.3) rotate(-90)" text-anchor="middle">0.4</text>
<line x1="411.4" y1="653.5" x2="418.7" y2="653.5" class="tk"/>
<text transform="translate(402.5,653.5) rotate(-90)" text-anchor="middle">0.2</text>
<line x1="411.4" y1="702.7" x2="418.7" y2="702.7" class="tk"/>
<text transform="translate(402.5,702.7) rotate(-90)" text-anchor="middle">0.0</text>
<line x1="411.4" y1="751.9" x2="418.7" y2="751.9" class="tk"/>
<text transform="translate(402.5,751.9) rotate(-90)" text-anchor="middle">−0.2</text>
<line x1="411.4" y1="801.1" x2="418.7" y2="801.1" class="tk"/>
<text transform="translate(402.5,801.1) rotate(-90)" text-anchor="middle">−0.4</text>
<text transform="translate(378.2,702.9) rotate(-90)" text-anchor="middle">ES</text>
<line x1="427.7" y1="705.4" x2="427.7" y2="715.0" stroke="#000" stroke-opacity="0.69" stroke-width="0.8"/>
<line x1="429.0" y1="705.4" x2="429.0" y2="715.0" stroke="#000" stroke-opacity="0.74" stroke-width="0.8"/>
<line x1="429.9" y1="705.4" x2="429.9" y2="715.0" stroke="#000" stroke-opacity="0.54" stroke-width="0.8"/>
<line x1="431.0" y1="705.4" x2="431.0" y2="715.0" stroke="#000" stroke-opacity="0.54" stroke-width="0.8"/>
<line x1="432.4" y1="705.4" x2="432.4" y2="715.0" stroke="#000" stroke-opacity="0.50" stroke-width="0.8"/>
<line x1="433.4" y1="705.4" x2="433.4" y2="715.0" stroke="#000" stroke-opacity="0.53" stroke-width="0.8"/>
<line x1="434.5" y1="705.4" x2="434.5" y2="715.0" stroke="#000" stroke-opacity="0.60" stroke-width="0.8"/>
<line x1="435.8" y1="705.4" x2="435.8" y2="715.0" stroke="#000" stroke-opacity="0.66" stroke-width="0.8"/>
<line x1="436.6" y1="705.4" x2="436.6" y2="715.0" stroke="#000" stroke-opacity="0.55" stroke-width="0.8"/>
<line x1="437.8" y1="705.4" x2="437.8" y2="715.0" stroke="#000" stroke-opacity="0.75" stroke-width="0.8"/>
<line x1="439.2" y1="705.4" x2="439.2" y2="715.0" stroke="#000" stroke-opacity="0.73" stroke-width="0.8"/>
<line x1="440.3" y1="705.4" x2="440.3" y2="715.0" stroke="#000" stroke-opacity="0.71" stroke-width="0.8"/>
<line x1="441.3" y1="705.4" x2="441.3" y2="715.0" stroke="#000" stroke-opacity="0.55" stroke-width="0.8"/>
<line x1="442.1" y1="705.4" x2="442.1" y2="715.0" stroke="#000" stroke-opacity="0.57" stroke-width="0.8"/>
<line x1="443.3" y1="705.4" x2="443.3" y2="715.0" stroke="#000" stroke-opacity="0.54" stroke-width="0.8"/>
<line x1="444.4" y1="705.4" x2="444.4" y2="715.0" stroke="#000" stroke-opacity="0.46" stroke-width="0.8"/>
<line x1="445.4" y1="705.4" x2="445.4" y2="715.0" stroke="#000" stroke-opacity="0.46" stroke-width="0.8"/>
<line x1="446.5" y1="705.4" x2="446.5" y2="715.0" stroke="#000" stroke-opacity="0.38" stroke-width="0.8"/>
<line x1="447.7" y1="705.4" x2="447.7" y2="715.0" stroke="#000" stroke-opacity="0.55" stroke-width="0.8"/>
<line x1="448.9" y1="705.4" x2="448.9" y2="715.0" stroke="#000" stroke-opacity="0.53" stroke-width="0.8"/>
<line x1="450.0" y1="705.4" x2="450.0" y2="715.0" stroke="#000" stroke-opacity="0.24" stroke-width="0.8"/>
<line x1="453.5" y1="705.4" x2="453.5" y2="715.0" stroke="#000" stroke-opacity="0.71" stroke-width="0.8"/>
<line x1="454.4" y1="705.4" x2="454.4" y2="715.0" stroke="#000" stroke-opacity="0.69" stroke-width="0.8"/>
<line x1="455.6" y1="705.4" x2="455.6" y2="715.0" stroke="#000" stroke-opacity="0.52" stroke-width="0.8"/>
<line x1="456.6" y1="705.4" x2="456.6" y2="715.0" stroke="#000" stroke-opacity="0.63" stroke-width="0.8"/>
<line x1="457.7" y1="705.4" x2="457.7" y2="715.0" stroke="#000" stroke-opacity="0.61" stroke-width="0.8"/>
<line x1="458.9" y1="705.4" x2="458.9" y2="715.0" stroke="#000" stroke-opacity="0.59" stroke-width="0.8"/>
<line x1="459.7" y1="705.4" x2="459.7" y2="715.0" stroke="#000" stroke-opacity="0.62" stroke-width="0.8"/>
<line x1="460.8" y1="705.4" x2="460.8" y2="715.0" stroke="#000" stroke-opacity="0.54" stroke-width="0.8"/>
<line x1="461.9" y1="705.4" x2="461.9" y2="715.0" stroke="#000" stroke-opacity="0.58" stroke-width="0.8"/>
<line x1="462.8" y1="705.4" x2="462.8" y2="715.0" stroke="#000" stroke-opacity="0.52" stroke-width="0.8"/>
<line x1="464.3" y1="705.4" x2="464.3" y2="715.0" stroke="#000" stroke-opacity="0.45" stroke-width="0.8"/>
<line x1="465.3" y1="705.4" x2="465.3" y2="715.0" stroke="#000" stroke-opacity="0.59" stroke-width="0.8"/>
<line x1="466.1" y1="705.4" x2="466.1" y2="715.0" stroke="#000" stroke-opacity="0.39" stroke-width="0.8"/>
<line x1="467.5" y1="705.4" x2="467.5" y2="715.0" stroke="#000" stroke-opacity="0.56" stroke-width="0.8"/>
<line x1="468.6" y1="705.4" x2="468.6" y2="715.0" stroke="#000" stroke-opacity="0.39" stroke-width="0.8"/>
<line x1="469.6" y1="705.4" x2="469.6" y2="715.0" stroke="#000" stroke-opacity="0.57" stroke-width="0.8"/>
<line x1="471.7" y1="705.4" x2="471.7" y2="715.0" stroke="#000" stroke-opacity="0.73" stroke-width="0.8"/>
<line x1="472.6" y1="705.4" x2="472.6" y2="715.0" stroke="#000" stroke-opacity="0.74" stroke-width="0.8"/>
<line x1="474.0" y1="705.4" x2="474.0" y2="715.0" stroke="#000" stroke-opacity="0.70" stroke-width="0.8"/>
<line x1="475.2" y1="705.4" x2="475.2" y2="715.0" stroke="#000" stroke-opacity="0.78" stroke-width="0.8"/>
<line x1="477.7" y1="705.4" x2="477.7" y2="715.0" stroke="#000" stroke-opacity="0.53" stroke-width="0.8"/>
<line x1="478.6" y1="705.4" x2="478.6" y2="715.0" stroke="#000" stroke-opacity="0.51" stroke-width="0.8"/>
<line x1="479.8" y1="705.4" x2="479.8" y2="715.0" stroke="#000" stroke-opacity="0.50" stroke-width="0.8"/>
<line x1="480.8" y1="705.4" x2="480.8" y2="715.0" stroke="#000" stroke-opacity="0.54" stroke-width="0.8"/>
<line x1="481.8" y1="705.4" x2="481.8" y2="715.0" stroke="#000" stroke-opacity="0.43" stroke-width="0.8"/>
<line x1="484.7" y1="705.4" x2="484.7" y2="715.0" stroke="#000" stroke-opacity="0.69" stroke-width="0.8"/>
<line x1="485.6" y1="705.4" x2="485.6" y2="715.0" stroke="#000" stroke-opacity="0.54" stroke-width="0.8"/>
<line x1="486.6" y1="705.4" x2="486.6" y2="715.0" stroke="#000" stroke-opacity="0.67" stroke-width="0.8"/>
<line x1="487.8" y1="705.4" x2="487.8" y2="715.0" stroke="#000" stroke-opacity="0.64" stroke-width="0.8"/>
<line x1="488.6" y1="705.4" x2="488.6" y2="715.0" stroke="#000" stroke-opacity="0.61" stroke-width="0.8"/>
<line x1="490.6" y1="705.4" x2="490.6" y2="715.0" stroke="#000" stroke-opacity="0.38" stroke-width="0.8"/>
<line x1="491.5" y1="705.4" x2="491.5" y2="715.0" stroke="#000" stroke-opacity="0.60" stroke-width="0.8"/>
<line x1="492.4" y1="705.4" x2="492.4" y2="715.0" stroke="#000" stroke-opacity="0.43" stroke-width="0.8"/>
<line x1="495.4" y1="705.4" x2="495.4" y2="715.0" stroke="#000" stroke-opacity="0.50" stroke-width="0.8"/>
<line x1="497.7" y1="705.4" x2="497.7" y2="715.0" stroke="#000" stroke-opacity="0.50" stroke-width="0.8"/>
<line x1="498.7" y1="705.4" x2="498.7" y2="715.0" stroke="#000" stroke-opacity="0.47" stroke-width="0.8"/>
<line x1="499.8" y1="705.4" x2="499.8" y2="715.0" stroke="#000" stroke-opacity="0.56" stroke-width="0.8"/>
<line x1="500.7" y1="705.4" x2="500.7" y2="715.0" stroke="#000" stroke-opacity="0.44" stroke-width="0.8"/>
<line x1="502.0" y1="705.4" x2="502.0" y2="715.0" stroke="#000" stroke-opacity="0.60" stroke-width="0.8"/>
<line x1="503.0" y1="705.4" x2="503.0" y2="715.0" stroke="#000" stroke-opacity="0.47" stroke-width="0.8"/>
<line x1="505.5" y1="705.4" x2="505.5" y2="715.0" stroke="#000" stroke-opacity="0.43" stroke-width="0.8"/>
<line x1="506.3" y1="705.4" x2="506.3" y2="715.0" stroke="#000" stroke-opacity="0.48" stroke-width="0.8"/>
<line x1="507.7" y1="705.4" x2="507.7" y2="715.0" stroke="#000" stroke-opacity="0.54" stroke-width="0.8"/>
<line x1="508.5" y1="705.4" x2="508.5" y2="715.0" stroke="#000" stroke-opacity="0.53" stroke-width="0.8"/>
<line x1="509.8" y1="705.4" x2="509.8" y2="715.0" stroke="#000" stroke-opacity="0.42" stroke-width="0.8"/>
<line x1="512.5" y1="705.4" x2="512.5" y2="715.0" stroke="#000" stroke-opacity="0.32" stroke-width="0.8"/>
<line x1="513.7" y1="705.4" x2="513.7" y2="715.0" stroke="#000" stroke-opacity="0.30" stroke-width="0.8"/>
<line x1="514.9" y1="705.4" x2="514.9" y2="715.0" stroke="#000" stroke-opacity="0.32" stroke-width="0.8"/>
<line x1="516.1" y1="705.4" x2="516.1" y2="715.0" stroke="#000" stroke-opacity="0.32" stroke-width="0.8"/>
<line x1="518.5" y1="705.4" x2="518.5" y2="715.0" stroke="#000" stroke-opacity="0.54" stroke-width="0.8"/>
<line x1="519.9" y1="705.4" x2="519.9" y2="715.0" stroke="#000" stroke-opacity="0.35" stroke-width="0.8"/>
<line x1="521.1" y1="705.4" x2="521.1" y2="715.0" stroke="#000" stroke-opacity="0.40" stroke-width="0.8"/>
<line x1="522.1" y1="705.4" x2="522.1" y2="715.0" stroke="#000" stroke-opacity="0.49" stroke-width="0.8"/>
<line x1="523.2" y1="705.4" x2="523.2" y2="715.0" stroke="#000" stroke-opacity="0.43" stroke-width="0.8"/>
<line x1="524.4" y1="705.4" x2="524.4" y2="715.0" stroke="#000" stroke-opacity="0.39" stroke-width="0.8"/>
<line x1="525.7" y1="705.4" x2="525.7" y2="715.0" stroke="#000" stroke-opacity="0.38" stroke-width="0.8"/>
<line x1="526.8" y1="705.4" x2="526.8" y2="715.0" stroke="#000" stroke-opacity="0.41" stroke-width="0.8"/>
<line x1="528.5" y1="705.4" x2="528.5" y2="715.0" stroke="#000" stroke-opacity="0.45" stroke-width="0.8"/>
<line x1="529.4" y1="705.4" x2="529.4" y2="715.0" stroke="#000" stroke-opacity="0.39" stroke-width="0.8"/>
<line x1="530.4" y1="705.4" x2="530.4" y2="715.0" stroke="#000" stroke-opacity="0.46" stroke-width="0.8"/>
<line x1="532.6" y1="705.4" x2="532.6" y2="715.0" stroke="#000" stroke-opacity="0.43" stroke-width="0.8"/>
<line x1="533.5" y1="705.4" x2="533.5" y2="715.0" stroke="#000" stroke-opacity="0.35" stroke-width="0.8"/>
<line x1="534.8" y1="705.4" x2="534.8" y2="715.0" stroke="#000" stroke-opacity="0.40" stroke-width="0.8"/>
<line x1="536.1" y1="705.4" x2="536.1" y2="715.0" stroke="#000" stroke-opacity="0.41" stroke-width="0.8"/>
<line x1="539.1" y1="705.4" x2="539.1" y2="715.0" stroke="#000" stroke-opacity="0.24" stroke-width="0.8"/>
<line x1="541.5" y1="705.4" x2="541.5" y2="715.0" stroke="#000" stroke-opacity="0.38" stroke-width="0.8"/>
<line x1="542.4" y1="705.4" x2="542.4" y2="715.0" stroke="#000" stroke-opacity="0.42" stroke-width="0.8"/>
<line x1="543.7" y1="705.4" x2="543.7" y2="715.0" stroke="#000" stroke-opacity="0.39" stroke-width="0.8"/>
<line x1="544.6" y1="705.4" x2="544.6" y2="715.0" stroke="#000" stroke-opacity="0.45" stroke-width="0.8"/>
<line x1="545.6" y1="705.4" x2="545.6" y2="715.0" stroke="#000" stroke-opacity="0.55" stroke-width="0.8"/>
<line x1="547.5" y1="705.4" x2="547.5" y2="715.0" stroke="#000" stroke-opacity="0.38" stroke-width="0.8"/>
<line x1="548.8" y1="705.4" x2="548.8" y2="715.0" stroke="#000" stroke-opacity="0.42" stroke-width="0.8"/>
<line x1="549.9" y1="705.4" x2="549.9" y2="715.0" stroke="#000" stroke-opacity="0.42" stroke-width="0.8"/>
<line x1="551.0" y1="705.4" x2="551.0" y2="715.0" stroke="#000" stroke-opacity="0.36" stroke-width="0.8"/>
<line x1="552.2" y1="705.4" x2="552.2" y2="715.0" stroke="#000" stroke-opacity="0.40" stroke-width="0.8"/>
<line x1="553.5" y1="705.4" x2="553.5" y2="715.0" stroke="#000" stroke-opacity="0.27" stroke-width="0.8"/>
<line x1="554.3" y1="705.4" x2="554.3" y2="715.0" stroke="#000" stroke-opacity="0.35" stroke-width="0.8"/>
<line x1="555.7" y1="705.4" x2="555.7" y2="715.0" stroke="#000" stroke-opacity="0.35" stroke-width="0.8"/>
<line x1="556.7" y1="705.4" x2="556.7" y2="715.0" stroke="#000" stroke-opacity="0.43" stroke-width="0.8"/>
<line x1="557.8" y1="705.4" x2="557.8" y2="715.0" stroke="#000" stroke-opacity="0.27" stroke-width="0.8"/>
<line x1="558.9" y1="705.4" x2="558.9" y2="715.0" stroke="#000" stroke-opacity="0.26" stroke-width="0.8"/>
<line x1="560.3" y1="705.4" x2="560.3" y2="715.0" stroke="#000" stroke-opacity="0.27" stroke-width="0.8"/>
<line x1="561.6" y1="705.4" x2="561.6" y2="715.0" stroke="#000" stroke-opacity="0.24" stroke-width="0.8"/>
<line x1="564.1" y1="705.4" x2="564.1" y2="715.0" stroke="#000" stroke-opacity="0.57" stroke-width="0.8"/>
<line x1="565.3" y1="705.4" x2="565.3" y2="715.0" stroke="#000" stroke-opacity="0.56" stroke-width="0.8"/>
<line x1="566.1" y1="705.4" x2="566.1" y2="715.0" stroke="#000" stroke-opacity="0.51" stroke-width="0.8"/>
<line x1="567.3" y1="705.4" x2="567.3" y2="715.0" stroke="#000" stroke-opacity="0.53" stroke-width="0.8"/>
<line x1="568.1" y1="705.4" x2="568.1" y2="715.0" stroke="#000" stroke-opacity="0.54" stroke-width="0.8"/>
<line x1="569.1" y1="705.4" x2="569.1" y2="715.0" stroke="#000" stroke-opacity="0.43" stroke-width="0.8"/>
<line x1="570.5" y1="705.4" x2="570.5" y2="715.0" stroke="#000" stroke-opacity="0.47" stroke-width="0.8"/>
<line x1="571.3" y1="705.4" x2="571.3" y2="715.0" stroke="#000" stroke-opacity="0.55" stroke-width="0.8"/>
<line x1="572.4" y1="705.4" x2="572.4" y2="715.0" stroke="#000" stroke-opacity="0.35" stroke-width="0.8"/>
<line x1="573.3" y1="705.4" x2="573.3" y2="715.0" stroke="#000" stroke-opacity="0.42" stroke-width="0.8"/>
<line x1="574.3" y1="705.4" x2="574.3" y2="715.0" stroke="#000" stroke-opacity="0.42" stroke-width="0.8"/>
<line x1="575.4" y1="705.4" x2="575.4" y2="715.0" stroke="#000" stroke-opacity="0.41" stroke-width="0.8"/>
<line x1="576.7" y1="705.4" x2="576.7" y2="715.0" stroke="#000" stroke-opacity="0.33" stroke-width="0.8"/>
<line x1="577.9" y1="705.4" x2="577.9" y2="715.0" stroke="#000" stroke-opacity="0.39" stroke-width="0.8"/>
<line x1="578.7" y1="705.4" x2="578.7" y2="715.0" stroke="#000" stroke-opacity="0.30" stroke-width="0.8"/>
<line x1="579.8" y1="705.4" x2="579.8" y2="715.0" stroke="#000" stroke-opacity="0.41" stroke-width="0.8"/>
<line x1="580.9" y1="705.4" x2="580.9" y2="715.0" stroke="#000" stroke-opacity="0.29" stroke-width="0.8"/>
<line x1="582.0" y1="705.4" x2="582.0" y2="715.0" stroke="#000" stroke-opacity="0.34" stroke-width="0.8"/>
<line x1="587.1" y1="705.4" x2="587.1" y2="715.0" stroke="#000" stroke-opacity="0.65" stroke-width="0.8"/>
<line x1="588.1" y1="705.4" x2="588.1" y2="715.0" stroke="#000" stroke-opacity="0.73" stroke-width="0.8"/>
<line x1="589.3" y1="705.4" x2="589.3" y2="715.0" stroke="#000" stroke-opacity="0.50" stroke-width="0.8"/>
<line x1="590.5" y1="705.4" x2="590.5" y2="715.0" stroke="#000" stroke-opacity="0.56" stroke-width="0.8"/>
<line x1="592.2" y1="705.4" x2="592.2" y2="715.0" stroke="#000" stroke-opacity="0.48" stroke-width="0.8"/>
<line x1="593.1" y1="705.4" x2="593.1" y2="715.0" stroke="#000" stroke-opacity="0.56" stroke-width="0.8"/>
<line x1="594.1" y1="705.4" x2="594.1" y2="715.0" stroke="#000" stroke-opacity="0.54" stroke-width="0.8"/>
<line x1="595.4" y1="705.4" x2="595.4" y2="715.0" stroke="#000" stroke-opacity="0.46" stroke-width="0.8"/>
<line x1="598.1" y1="705.4" x2="598.1" y2="715.0" stroke="#000" stroke-opacity="0.50" stroke-width="0.8"/>
<line x1="601.9" y1="705.4" x2="601.9" y2="715.0" stroke="#000" stroke-opacity="0.36" stroke-width="0.8"/>
<line x1="608.1" y1="705.4" x2="608.1" y2="715.0" stroke="#000" stroke-opacity="0.50" stroke-width="0.8"/>
<line x1="613.3" y1="705.4" x2="613.3" y2="715.0" stroke="#000" stroke-opacity="0.47" stroke-width="0.8"/>
<line x1="614.3" y1="705.4" x2="614.3" y2="715.0" stroke="#000" stroke-opacity="0.51" stroke-width="0.8"/>
<line x1="615.3" y1="705.4" x2="615.3" y2="715.0" stroke="#000" stroke-opacity="0.51" stroke-width="0.8"/>
<line x1="616.0" y1="705.4" x2="616.0" y2="715.0" stroke="#000" stroke-opacity="0.63" stroke-width="0.8"/>
<line x1="617.3" y1="705.4" x2="617.3" y2="715.0" stroke="#000" stroke-opacity="0.55" stroke-width="0.8"/>
<line x1="618.2" y1="705.4" x2="618.2" y2="715.0" stroke="#000" stroke-opacity="0.66" stroke-width="0.8"/>
<line x1="619.1" y1="705.4" x2="619.1" y2="715.0" stroke="#000" stroke-opacity="0.64" stroke-width="0.8"/>
<line x1="622.1" y1="705.4" x2="622.1" y2="715.0" stroke="#000" stroke-opacity="0.24" stroke-width="0.8"/>
<line x1="627.3" y1="705.4" x2="627.3" y2="715.0" stroke="#000" stroke-opacity="0.50" stroke-width="0.8"/>
<line x1="629.7" y1="705.4" x2="629.7" y2="715.0" stroke="#000" stroke-opacity="0.24" stroke-width="0.8"/>
<line x1="635.2" y1="705.4" x2="635.2" y2="715.0" stroke="#000" stroke-opacity="0.47" stroke-width="0.8"/>
<line x1="636.5" y1="705.4" x2="636.5" y2="715.0" stroke="#000" stroke-opacity="0.44" stroke-width="0.8"/>
<line x1="637.2" y1="705.4" x2="637.2" y2="715.0" stroke="#000" stroke-opacity="0.37" stroke-width="0.8"/>
<line x1="639.7" y1="705.4" x2="639.7" y2="715.0" stroke="#000" stroke-opacity="0.46" stroke-width="0.8"/>
<line x1="641.3" y1="705.4" x2="641.3" y2="715.0" stroke="#000" stroke-opacity="0.54" stroke-width="0.8"/>
<line x1="643.2" y1="705.4" x2="643.2" y2="715.0" stroke="#000" stroke-opacity="0.58" stroke-width="0.8"/>
<line x1="644.7" y1="705.4" x2="644.7" y2="715.0" stroke="#000" stroke-opacity="0.56" stroke-width="0.8"/>
<line x1="645.7" y1="705.4" x2="645.7" y2="715.0" stroke="#000" stroke-opacity="0.52" stroke-width="0.8"/>
<line x1="646.8" y1="705.4" x2="646.8" y2="715.0" stroke="#000" stroke-opacity="0.52" stroke-width="0.8"/>
<line x1="650.1" y1="705.4" x2="650.1" y2="715.0" stroke="#000" stroke-opacity="0.42" stroke-width="0.8"/>
<line x1="651.4" y1="705.4" x2="651.4" y2="715.0" stroke="#000" stroke-opacity="0.54" stroke-width="0.8"/>
<line x1="653.4" y1="705.4" x2="653.4" y2="715.0" stroke="#000" stroke-opacity="0.66" stroke-width="0.8"/>
<line x1="661.0" y1="705.4" x2="661.0" y2="715.0" stroke="#000" stroke-opacity="0.24" stroke-width="0.8"/>
<path d="M427.5 703.1 L428.8 701.6 L430.0 700.1 L431.3 698.2 L432.6 696.5 L433.8 694.6 L435.1 692.1 L436.4 689.2 L437.6 686.2 L438.9 682.6 L440.2 680.7 L441.4 679.8 L442.7 678.4 L444.3 678.0 L445.8 676.9 L447.4 676.0 L449.3 671.2 L450.6 672.2 L451.8 672.1 L453.1 673.1 L454.7 671.2 L456.2 669.0 L457.8 667.4 L459.1 665.5 L460.3 663.7 L461.6 661.7 L463.1 660.8 L464.5 660.8 L465.9 658.3 L467.3 656.4 L468.5 655.9 L469.7 656.2 L470.9 655.7 L472.1 655.1 L473.4 652.9 L474.6 651.6 L475.9 649.4 L477.3 649.5 L478.7 650.4 L480.1 648.6 L481.6 646.6 L482.9 645.3 L484.1 644.2 L485.4 643.7 L486.8 641.2 L488.2 638.0 L489.4 637.5 L490.6 637.3 L491.8 637.8 L493.0 637.1 L494.3 638.2 L495.6 638.2 L497.0 639.6 L498.3 639.9 L499.6 640.5 L500.9 639.7 L502.1 638.2 L503.4 637.5 L504.7 638.4 L505.9 638.7 L507.2 639.0 L508.6 638.0 L510.0 636.1 L511.3 636.6 L512.7 636.1 L514.0 636.3 L515.4 636.2 L516.7 636.7 L518.1 637.0 L519.5 638.0 L521.0 636.4 L522.4 635.6 L523.7 634.6 L524.9 634.2 L526.2 633.3 L527.8 633.1 L529.3 634.1 L530.9 634.2 L532.3 634.0 L533.8 634.0 L535.2 634.5 L536.6 634.2 L538.0 635.3 L539.5 636.2 L540.9 637.5 L542.3 638.6 L543.7 637.9 L545.1 636.7 L546.5 636.7 L547.9 638.1 L549.3 637.6 L550.7 638.6 L552.1 639.3 L553.5 639.9 L555.0 639.5 L556.4 640.5 L557.7 640.9 L558.9 640.6 L560.2 640.9 L561.8 642.1 L563.3 642.7 L564.9 644.3 L566.2 644.0 L567.4 644.2 L568.7 644.7 L570.3 644.8 L571.9 643.7 L573.5 643.7 L574.9 644.7 L576.4 645.6 L577.8 646.3 L579.2 646.6 L580.8 647.7 L582.4 649.0 L584.0 650.4 L585.2 651.6 L586.5 652.9 L587.7 653.8 L589.3 652.9 L590.8 653.0 L592.4 652.3 L593.7 653.1 L594.9 653.7 L596.2 653.8 L597.6 654.1 L599.0 655.8 L600.5 655.8 L601.9 657.0 L603.3 658.1 L604.8 659.7 L606.2 661.2 L607.6 662.1 L609.2 663.4 L610.8 665.5 L612.4 666.5 L613.7 667.1 L615.0 667.4 L616.4 668.0 L617.7 668.4 L619.0 669.3 L620.4 670.1 L621.9 671.3 L623.3 673.1 L624.7 674.1 L626.1 675.8 L627.4 676.1 L628.8 677.1 L630.1 679.2 L631.5 679.9 L632.8 680.9 L634.2 682.2 L635.6 683.0 L637.0 684.4 L638.5 685.7 L639.9 686.4 L641.2 687.2 L642.4 687.9 L643.7 688.4 L645.0 690.0 L646.2 689.9 L647.5 691.2 L648.8 692.0 L650.1 693.1 L651.5 693.1 L652.8 694.5 L654.1 695.0 L655.3 696.5 L656.5 697.3 L657.7 698.5 L659.0 698.9 L660.2 700.3 L661.4 701.1 L662.6 702.5" class="es"/>
<rect x="631.5" y="596.5" width="40.2" height="17.6" class="ax"/>
<line x1="636.3" y1="602.4" x2="645.8" y2="602.4" stroke="#222" stroke-width="1.2"/>
<line x1="636.3" y1="608.2" x2="645.8" y2="608.2" stroke="#bbb" stroke-width="1"/>
<text x="650.2" y="604.6" style="font-size:9.2px">ES</text>
<text x="650.2" y="611.9" style="font-size:9.2px">hits</text>
<text x="1.3" y="11.7" class="pl">(A)</text>
<text x="348.2" y="11.7" class="pl">(B)</text>
<text x="1.1" y="300.2" class="pl">(C)</text>
<text x="348.2" y="300.2" class="pl">(D)</text>
<text x="1.4" y="590.4" class="pl">(E)</text>
<text x="349.3" y="590.8" class="pl">(F)</text>
</svg></body></html>
